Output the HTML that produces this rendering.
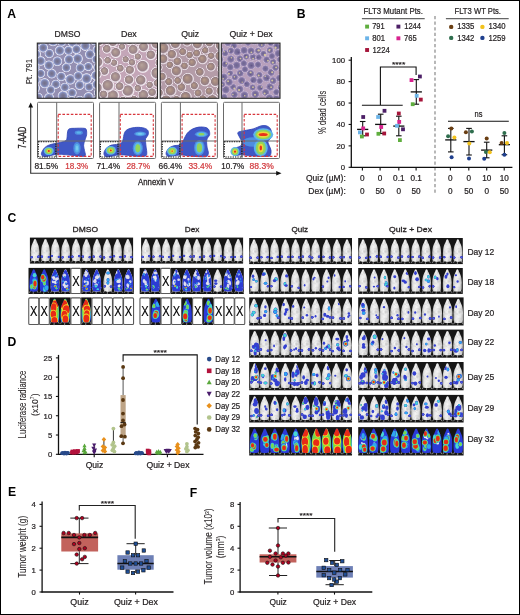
<!DOCTYPE html><html><head><meta charset="utf-8"><style>html,body{margin:0;padding:0;background:#fff;}svg{display:block;will-change:transform;}text{font-family:"Liberation Sans", sans-serif;}</style></head><body>
<svg width="520" height="615" viewBox="0 0 520 615" fill="#231f20">
<defs>
<linearGradient id="mg" x1="0" x2="1" y1="0" y2="0"><stop offset="0" stop-color="#acacac"/><stop offset="0.2" stop-color="#e2e2e2"/><stop offset="0.5" stop-color="#f6f6f6"/><stop offset="0.8" stop-color="#e0e0e0"/><stop offset="1" stop-color="#a8a8a8"/></linearGradient>
<radialGradient id="hot" cx="0.5" cy="0.5" r="0.5"><stop offset="0" stop-color="#e8200c"/><stop offset="0.25" stop-color="#f07020"/><stop offset="0.42" stop-color="#f0e020"/><stop offset="0.62" stop-color="#78d050"/><stop offset="0.82" stop-color="#58b4e8"/><stop offset="1" stop-color="#3f55c2" stop-opacity="0"/></radialGradient>
<radialGradient id="warm" cx="0.5" cy="0.5" r="0.5"><stop offset="0" stop-color="#d8e040"/><stop offset="0.3" stop-color="#90d058"/><stop offset="0.58" stop-color="#60c0e4"/><stop offset="0.82" stop-color="#4c84d8"/><stop offset="1" stop-color="#3f55c2" stop-opacity="0"/></radialGradient>
<radialGradient id="cool" cx="0.5" cy="0.5" r="0.5"><stop offset="0" stop-color="#80d4f0"/><stop offset="0.4" stop-color="#66b4ec"/><stop offset="0.75" stop-color="#4c84d8"/><stop offset="1" stop-color="#3f55c2" stop-opacity="0"/></radialGradient>
<radialGradient id="bspot" cx="0.5" cy="0.5" r="0.5"><stop offset="0" stop-color="#5a78e8"/><stop offset="0.4" stop-color="#3a48d0"/><stop offset="0.75" stop-color="#3a38c0" stop-opacity="0.85"/><stop offset="1" stop-color="#3a30b8" stop-opacity="0"/></radialGradient>
<radialGradient id="cell1" cx="0.5" cy="0.5" r="0.5"><stop offset="0" stop-color="#746f88"/><stop offset="0.4" stop-color="#7c7ea0"/><stop offset="0.62" stop-color="#8690c0"/><stop offset="0.74" stop-color="#b0b8de"/><stop offset="0.84" stop-color="#e2e2ee"/><stop offset="0.93" stop-color="#aeaac8"/><stop offset="1" stop-color="#948fb2" stop-opacity="0"/></radialGradient>
<radialGradient id="cell2" cx="0.5" cy="0.5" r="0.5" fx="0.4" fy="0.38"><stop offset="0" stop-color="#b8a49c"/><stop offset="0.35" stop-color="#a8928e"/><stop offset="0.66" stop-color="#9a848c"/><stop offset="0.75" stop-color="#cfc2cc"/><stop offset="0.82" stop-color="#f4eef2"/><stop offset="0.9" stop-color="#dcc8d4"/><stop offset="0.97" stop-color="#c4a6b8" stop-opacity="0"/></radialGradient>
<radialGradient id="cell3" cx="0.5" cy="0.5" r="0.5" fx="0.4" fy="0.38"><stop offset="0" stop-color="#b89c8c"/><stop offset="0.35" stop-color="#a48a80"/><stop offset="0.66" stop-color="#968086"/><stop offset="0.75" stop-color="#cbbcc6"/><stop offset="0.82" stop-color="#ece4e8"/><stop offset="0.9" stop-color="#cab6c2"/><stop offset="0.97" stop-color="#b49ca8" stop-opacity="0"/></radialGradient>
<radialGradient id="cell4" cx="0.5" cy="0.5" r="0.5"><stop offset="0" stop-color="#6e6690"/><stop offset="0.5" stop-color="#7c709e"/><stop offset="0.75" stop-color="#9c8cb8"/><stop offset="0.88" stop-color="#c8b8d0"/><stop offset="1" stop-color="#b8a0bc" stop-opacity="0"/></radialGradient>
<filter id="tb" x="-5%" y="-5%" width="110%" height="110%"><feGaussianBlur stdDeviation="0.35"/></filter>
<pattern id="nz" width="9" height="9" patternUnits="userSpaceOnUse"><circle cx="2.9" cy="1.4" r="0.9" fill="#8a8a8a" opacity="0.22"/><circle cx="7.4" cy="0.8" r="0.8" fill="#ffffff" opacity="0.22"/><circle cx="1.9" cy="0.8" r="0.8" fill="#a0a0a0" opacity="0.22"/><circle cx="0.8" cy="3.8" r="1.0" fill="#8a8a8a" opacity="0.22"/><circle cx="8.5" cy="5.7" r="0.8" fill="#8a8a8a" opacity="0.22"/><circle cx="5.2" cy="3.6" r="1.1" fill="#8a8a8a" opacity="0.22"/><circle cx="5.0" cy="1.2" r="0.8" fill="#ffffff" opacity="0.22"/><circle cx="1.1" cy="2.8" r="1.0" fill="#a0a0a0" opacity="0.22"/><circle cx="0.9" cy="5.1" r="0.6" fill="#8a8a8a" opacity="0.22"/><circle cx="4.9" cy="0.6" r="0.5" fill="#a0a0a0" opacity="0.22"/><circle cx="4.5" cy="4.8" r="1.0" fill="#ffffff" opacity="0.22"/><circle cx="5.3" cy="4.1" r="0.7" fill="#a0a0a0" opacity="0.22"/><circle cx="6.3" cy="2.2" r="0.8" fill="#ffffff" opacity="0.22"/><circle cx="4.5" cy="3.1" r="0.8" fill="#ffffff" opacity="0.22"/><circle cx="8.8" cy="1.1" r="0.8" fill="#b4b4b4" opacity="0.22"/><circle cx="1.4" cy="4.4" r="0.5" fill="#8a8a8a" opacity="0.22"/><circle cx="6.9" cy="5.2" r="1.0" fill="#b4b4b4" opacity="0.22"/><circle cx="3.1" cy="3.2" r="0.8" fill="#ffffff" opacity="0.22"/><circle cx="0.6" cy="0.8" r="0.7" fill="#8a8a8a" opacity="0.22"/><circle cx="0.5" cy="6.3" r="0.9" fill="#ffffff" opacity="0.22"/><circle cx="2.6" cy="3.5" r="0.9" fill="#8a8a8a" opacity="0.22"/><circle cx="8.5" cy="3.2" r="0.9" fill="#ffffff" opacity="0.22"/><circle cx="0.5" cy="6.9" r="0.6" fill="#a0a0a0" opacity="0.22"/><circle cx="3.6" cy="8.3" r="0.8" fill="#a0a0a0" opacity="0.22"/><circle cx="4.0" cy="4.9" r="1.0" fill="#ffffff" opacity="0.22"/><circle cx="7.8" cy="2.5" r="0.7" fill="#b4b4b4" opacity="0.22"/></pattern>
<clipPath id="mc"><path d="M0,0.48 C0.27,0.48 0.58,0.68 0.8,0.96 C1.02,1.24 1.12,1.72 1.3,2.16 C1.48,2.6 1.67,3.08 1.9,3.6 C2.13,4.12 2.43,4.68 2.7,5.28 C2.97,5.88 3.27,6.4 3.5,7.2 C3.73,8 3.95,8.88 4.1,10.08 C4.25,11.28 4.35,12.96 4.4,14.4 C4.45,15.84 4.45,17.6 4.4,18.72 C4.35,19.84 4.3,20.48 4.1,21.12 C3.9,21.76 3.88,22.24 3.2,22.56 C2.52,22.88 1.07,23.04 0,23.04 C-1.07,23.04 -2.52,22.88 -3.2,22.56 C-3.88,22.24 -3.9,21.76 -4.1,21.12 C-4.3,20.48 -4.35,19.84 -4.4,18.72 C-4.45,17.6 -4.45,15.84 -4.4,14.4 C-4.35,12.96 -4.25,11.28 -4.1,10.08 C-3.95,8.88 -3.73,8 -3.5,7.2 C-3.27,6.4 -2.97,5.88 -2.7,5.28 C-2.43,4.68 -2.13,4.12 -1.9,3.6 C-1.67,3.08 -1.48,2.6 -1.3,2.16 C-1.12,1.72 -1.02,1.24 -0.8,0.96 C-0.58,0.68 -0.27,0.48 0,0.48 Z"/></clipPath>
<path id="mp" d="M0,0.48 C0.27,0.48 0.58,0.68 0.8,0.96 C1.02,1.24 1.12,1.72 1.3,2.16 C1.48,2.6 1.67,3.08 1.9,3.6 C2.13,4.12 2.43,4.68 2.7,5.28 C2.97,5.88 3.27,6.4 3.5,7.2 C3.73,8 3.95,8.88 4.1,10.08 C4.25,11.28 4.35,12.96 4.4,14.4 C4.45,15.84 4.45,17.6 4.4,18.72 C4.35,19.84 4.3,20.48 4.1,21.12 C3.9,21.76 3.88,22.24 3.2,22.56 C2.52,22.88 1.07,23.04 0,23.04 C-1.07,23.04 -2.52,22.88 -3.2,22.56 C-3.88,22.24 -3.9,21.76 -4.1,21.12 C-4.3,20.48 -4.35,19.84 -4.4,18.72 C-4.45,17.6 -4.45,15.84 -4.4,14.4 C-4.35,12.96 -4.25,11.28 -4.1,10.08 C-3.95,8.88 -3.73,8 -3.5,7.2 C-3.27,6.4 -2.97,5.88 -2.7,5.28 C-2.43,4.68 -2.13,4.12 -1.9,3.6 C-1.67,3.08 -1.48,2.6 -1.3,2.16 C-1.12,1.72 -1.02,1.24 -0.8,0.96 C-0.58,0.68 -0.27,0.48 0,0.48 Z"/>
<path id="mt" d="M-0.3,22 L-0.6,25.5 M3,21.5 l1.4,2.6 M-3,21.5 l-1.4,2.6" stroke="#9a9a9a" stroke-width="0.8" fill="none"/>
<filter id="bl" x="-20%" y="-20%" width="140%" height="140%"><feGaussianBlur stdDeviation="0.5"/></filter>
<filter id="fb" x="-10%" y="-10%" width="120%" height="120%"><feGaussianBlur stdDeviation="4"/></filter>
</defs>
<text x="7.2" y="17.8" font-size="12.2" fill="#000" font-weight="bold">A</text>
<text x="54.6" y="37.3" font-size="8.5" fill="#231f20" textLength="25.7" lengthAdjust="spacingAndGlyphs" stroke="#231f20" stroke-width="0.22">DMSO</text>
<text x="121.1" y="37.3" font-size="8.5" fill="#231f20" textLength="15.7" lengthAdjust="spacingAndGlyphs" stroke="#231f20" stroke-width="0.22">Dex</text>
<text x="181.2" y="37.3" font-size="8.5" fill="#231f20" textLength="17.9" lengthAdjust="spacingAndGlyphs" stroke="#231f20" stroke-width="0.22">Quiz</text>
<text x="229.4" y="37.3" font-size="8.5" fill="#231f20" textLength="43.3" lengthAdjust="spacingAndGlyphs" stroke="#231f20" stroke-width="0.22">Quiz + Dex</text>
<text transform="translate(31.8,84.3) rotate(-90)" x="0" y="0" font-size="8.6" fill="#231f20" textLength="25.4" lengthAdjust="spacingAndGlyphs" stroke="#231f20" stroke-width="0.08">Pt. 791</text>
<clipPath id="tc0"><rect x="37.3" y="43.1" width="58.7" height="55.2"/></clipPath>
<g clip-path="url(#tc0)"><g filter="url(#tb)">
<rect x="35.3" y="41.1" width="62.7" height="59.2" fill="#948fb2" />
<circle cx="89.13" cy="86.84" r="5.01" fill="url(#cell1)" />
<circle cx="66.35" cy="67.61" r="5.13" fill="url(#cell1)" />
<circle cx="85.33" cy="45.84" r="5.52" fill="url(#cell1)" />
<circle cx="88.37" cy="66.59" r="4.91" fill="url(#cell1)" />
<circle cx="34.44" cy="67.36" r="5.62" fill="url(#cell1)" />
<circle cx="49.1" cy="97.95" r="5.58" fill="url(#cell1)" />
<circle cx="36.28" cy="41.66" r="5.76" fill="url(#cell1)" />
<circle cx="61.61" cy="41.88" r="5.09" fill="url(#cell1)" />
<circle cx="49.24" cy="53.49" r="5.11" fill="url(#cell1)" />
<circle cx="53.05" cy="41.42" r="5.33" fill="url(#cell1)" />
<circle cx="70.3" cy="79.41" r="5.7" fill="url(#cell1)" />
<circle cx="98.52" cy="92.73" r="5.06" fill="url(#cell1)" />
<circle cx="55.83" cy="84.25" r="5" fill="url(#cell1)" />
<circle cx="77.67" cy="58.67" r="5.69" fill="url(#cell1)" />
<circle cx="72.41" cy="42.21" r="5.37" fill="url(#cell1)" />
<circle cx="79.81" cy="100.27" r="4.92" fill="url(#cell1)" />
<circle cx="59.77" cy="50.53" r="5.46" fill="url(#cell1)" />
<circle cx="89.96" cy="54.31" r="5.41" fill="url(#cell1)" />
<circle cx="95.92" cy="75.46" r="5.38" fill="url(#cell1)" />
<circle cx="51.72" cy="73.64" r="5.33" fill="url(#cell1)" />
<circle cx="34.67" cy="88.06" r="5.81" fill="url(#cell1)" />
<circle cx="57.38" cy="61.28" r="5.35" fill="url(#cell1)" />
<circle cx="36.11" cy="54.15" r="5.33" fill="url(#cell1)" />
<circle cx="72.11" cy="92.79" r="5.05" fill="url(#cell1)" />
<circle cx="68.42" cy="50.39" r="5.04" fill="url(#cell1)" />
<circle cx="80.34" cy="67.93" r="5.15" fill="url(#cell1)" />
<circle cx="44.67" cy="83.22" r="5.58" fill="url(#cell1)" />
<circle cx="88.5" cy="97.15" r="5.54" fill="url(#cell1)" />
<circle cx="97.92" cy="67.51" r="5.15" fill="url(#cell1)" />
<circle cx="35.88" cy="79.66" r="5.13" fill="url(#cell1)" />
<circle cx="43.25" cy="47.76" r="5.23" fill="url(#cell1)" />
<circle cx="48.86" cy="65.33" r="5.35" fill="url(#cell1)" />
<circle cx="79.67" cy="85.17" r="5.24" fill="url(#cell1)" />
<circle cx="86.57" cy="78.56" r="5.84" fill="url(#cell1)" />
<circle cx="63" cy="95.98" r="5.83" fill="url(#cell1)" />
<circle cx="38.19" cy="97.33" r="5.12" fill="url(#cell1)" />
<circle cx="71.54" cy="100.84" r="5.39" fill="url(#cell1)" />
<circle cx="40.72" cy="73.5" r="4.93" fill="url(#cell1)" />
<circle cx="97.48" cy="50.07" r="5.42" fill="url(#cell1)" />
<circle cx="96.11" cy="59.19" r="4.89" fill="url(#cell1)" />
<circle cx="61.19" cy="76.51" r="5.15" fill="url(#cell1)" />
<circle cx="96.67" cy="84.36" r="5.21" fill="url(#cell1)" />
<circle cx="94.64" cy="40.67" r="5.09" fill="url(#cell1)" />
<circle cx="68.99" cy="59.46" r="5.41" fill="url(#cell1)" />
<circle cx="96.81" cy="100.79" r="5.42" fill="url(#cell1)" />
<circle cx="76.46" cy="49.28" r="5.18" fill="url(#cell1)" />
<circle cx="64.9" cy="87.32" r="5.07" fill="url(#cell1)" />
<circle cx="40.77" cy="60.95" r="5.24" fill="url(#cell1)" />
<circle cx="50.72" cy="89.93" r="4.98" fill="url(#cell1)" />
<circle cx="78.2" cy="75.96" r="5.17" fill="url(#cell1)" />
</g></g>
<rect x="37.3" y="43.1" width="58.7" height="55.2" fill="none" stroke="#2a2a2a" stroke-width="1.1" />
<clipPath id="tc1"><rect x="98.8" y="43.1" width="58.7" height="55.2"/></clipPath>
<g clip-path="url(#tc1)"><g filter="url(#tb)">
<rect x="96.8" y="41.1" width="62.7" height="59.2" fill="#c4a6b8" />
<circle cx="157.12" cy="43.56" r="7.18" fill="url(#cell2)" />
<circle cx="149.86" cy="85.14" r="4.42" fill="url(#cell2)" />
<circle cx="115.74" cy="77.18" r="6.27" fill="url(#cell2)" />
<circle cx="133.4" cy="49.79" r="6.07" fill="url(#cell2)" />
<circle cx="157.23" cy="73.4" r="7.3" fill="url(#cell2)" />
<circle cx="113.16" cy="42.3" r="5.56" fill="url(#cell2)" />
<circle cx="125.88" cy="59.59" r="4.24" fill="url(#cell2)" />
<circle cx="104.64" cy="71.33" r="5.18" fill="url(#cell2)" />
<circle cx="159.27" cy="98.97" r="5.27" fill="url(#cell2)" />
<circle cx="130.11" cy="70.09" r="5.61" fill="url(#cell2)" />
<circle cx="128.2" cy="90.99" r="7.08" fill="url(#cell2)" />
<circle cx="113.15" cy="95.88" r="7.03" fill="url(#cell2)" />
<circle cx="157.74" cy="83.32" r="5.13" fill="url(#cell2)" />
<circle cx="129.3" cy="79.97" r="5.75" fill="url(#cell2)" />
<circle cx="115.98" cy="52.82" r="6.01" fill="url(#cell2)" />
<circle cx="108.18" cy="85.68" r="7.03" fill="url(#cell2)" />
<circle cx="138.04" cy="56.81" r="4.33" fill="url(#cell2)" />
<circle cx="151.05" cy="55.08" r="5.8" fill="url(#cell2)" />
<circle cx="97.86" cy="62.28" r="6.42" fill="url(#cell2)" />
<circle cx="98.59" cy="100.69" r="5.37" fill="url(#cell2)" />
<circle cx="143.84" cy="47.02" r="6.1" fill="url(#cell2)" />
<circle cx="143.67" cy="95.3" r="6.58" fill="url(#cell2)" />
<circle cx="96.97" cy="74.25" r="5.48" fill="url(#cell2)" />
<circle cx="99.47" cy="42.15" r="4.59" fill="url(#cell2)" />
<circle cx="129.84" cy="40.4" r="5.49" fill="url(#cell2)" />
<circle cx="122.24" cy="46.9" r="4.26" fill="url(#cell2)" />
<circle cx="142.96" cy="66.64" r="7.2" fill="url(#cell2)" />
<circle cx="159.43" cy="62.88" r="5.07" fill="url(#cell2)" />
<circle cx="114.2" cy="62.92" r="4.38" fill="url(#cell2)" />
<circle cx="120.49" cy="68.54" r="4.66" fill="url(#cell2)" />
<circle cx="107" cy="49.09" r="5.26" fill="url(#cell2)" />
<circle cx="141.03" cy="80.38" r="6.38" fill="url(#cell2)" />
<circle cx="134.17" cy="99.25" r="4.29" fill="url(#cell2)" />
<circle cx="96.27" cy="52.67" r="4.48" fill="url(#cell2)" />
<circle cx="107.89" cy="60.56" r="4.54" fill="url(#cell2)" />
<circle cx="97.09" cy="88.21" r="6.72" fill="url(#cell2)" />
<circle cx="160.13" cy="52.68" r="4.38" fill="url(#cell2)" />
<circle cx="160.07" cy="90.79" r="4.3" fill="url(#cell2)" />
<circle cx="151.27" cy="100.38" r="5.26" fill="url(#cell2)" />
<circle cx="132.16" cy="62.55" r="4.44" fill="url(#cell2)" />
<circle cx="123.17" cy="99.97" r="4.17" fill="url(#cell2)" />
<circle cx="119.78" cy="86.49" r="5.29" fill="url(#cell2)" />
<circle cx="121.37" cy="40.33" r="4.31" fill="url(#cell2)" />
<circle cx="138.06" cy="40.16" r="5.23" fill="url(#cell2)" />
<circle cx="152.38" cy="92.5" r="5.17" fill="url(#cell2)" />
<circle cx="103.81" cy="94.63" r="5.09" fill="url(#cell2)" />
<circle cx="138.04" cy="88.49" r="4.43" fill="url(#cell2)" />
</g></g>
<rect x="98.8" y="43.1" width="58.7" height="55.2" fill="none" stroke="#2a2a2a" stroke-width="1.1" />
<clipPath id="tc2"><rect x="160.2" y="43.1" width="58.7" height="55.2"/></clipPath>
<g clip-path="url(#tc2)"><g filter="url(#tb)">
<rect x="158.2" y="41.1" width="62.7" height="59.2" fill="#b49ca8" />
<circle cx="192.41" cy="62.74" r="5.09" fill="url(#cell3)" />
<circle cx="197.68" cy="44.11" r="6.16" fill="url(#cell3)" />
<circle cx="211.38" cy="55.97" r="4.43" fill="url(#cell3)" />
<circle cx="221.62" cy="68.88" r="5.08" fill="url(#cell3)" />
<circle cx="188.02" cy="79.21" r="6.84" fill="url(#cell3)" />
<circle cx="198.28" cy="93.22" r="4.83" fill="url(#cell3)" />
<circle cx="205.16" cy="81.19" r="5.92" fill="url(#cell3)" />
<circle cx="159.21" cy="93.07" r="5.27" fill="url(#cell3)" />
<circle cx="185.97" cy="97.36" r="6.74" fill="url(#cell3)" />
<circle cx="163.51" cy="48.42" r="6.97" fill="url(#cell3)" />
<circle cx="176.68" cy="71.14" r="6.23" fill="url(#cell3)" />
<circle cx="215.7" cy="81.84" r="6.1" fill="url(#cell3)" />
<circle cx="212.61" cy="100.75" r="7.11" fill="url(#cell3)" />
<circle cx="170.86" cy="90.99" r="6.48" fill="url(#cell3)" />
<circle cx="175.64" cy="43.98" r="6.07" fill="url(#cell3)" />
<circle cx="221.24" cy="45.52" r="6.89" fill="url(#cell3)" />
<circle cx="162.18" cy="76.81" r="5.3" fill="url(#cell3)" />
<circle cx="169.97" cy="65.07" r="4.48" fill="url(#cell3)" />
<circle cx="176.68" cy="99.94" r="5.09" fill="url(#cell3)" />
<circle cx="181.6" cy="87.36" r="5.27" fill="url(#cell3)" />
<circle cx="211.13" cy="66.93" r="5.37" fill="url(#cell3)" />
<circle cx="209.4" cy="91.41" r="4.95" fill="url(#cell3)" />
<circle cx="209.62" cy="42.86" r="5.23" fill="url(#cell3)" />
<circle cx="205.42" cy="50.62" r="4.43" fill="url(#cell3)" />
<circle cx="200.09" cy="72.23" r="5.27" fill="url(#cell3)" />
<circle cx="177.55" cy="61.6" r="5.32" fill="url(#cell3)" />
<circle cx="184.69" cy="66.16" r="4.6" fill="url(#cell3)" />
<circle cx="166.49" cy="100.76" r="6.66" fill="url(#cell3)" />
<circle cx="172.06" cy="54.47" r="5.76" fill="url(#cell3)" />
<circle cx="189.85" cy="55.23" r="4.52" fill="url(#cell3)" />
<circle cx="182.98" cy="51.95" r="4.82" fill="url(#cell3)" />
<circle cx="158.65" cy="67.52" r="4.57" fill="url(#cell3)" />
<circle cx="163.27" cy="59.17" r="5.99" fill="url(#cell3)" />
<circle cx="169.04" cy="81.95" r="4.89" fill="url(#cell3)" />
<circle cx="202.71" cy="59.27" r="5.81" fill="url(#cell3)" />
<circle cx="221.15" cy="91.26" r="5.98" fill="url(#cell3)" />
<circle cx="220.29" cy="56.43" r="6.2" fill="url(#cell3)" />
<circle cx="187.34" cy="42.02" r="5.25" fill="url(#cell3)" />
<circle cx="195.92" cy="101.3" r="4.73" fill="url(#cell3)" />
<circle cx="157.23" cy="84.44" r="4.98" fill="url(#cell3)" />
<circle cx="158.32" cy="40.91" r="4.66" fill="url(#cell3)" />
<circle cx="194.56" cy="86" r="4.89" fill="url(#cell3)" />
<circle cx="203.03" cy="99.11" r="4.83" fill="url(#cell3)" />
<circle cx="177.96" cy="80.77" r="4.64" fill="url(#cell3)" />
<circle cx="196.84" cy="53.35" r="4.73" fill="url(#cell3)" />
<circle cx="167.96" cy="40.33" r="4.42" fill="url(#cell3)" />
<circle cx="221.73" cy="100.24" r="4.67" fill="url(#cell3)" />
</g></g>
<rect x="160.2" y="43.1" width="58.7" height="55.2" fill="none" stroke="#2a2a2a" stroke-width="1.1" />
<clipPath id="tc3"><rect x="221.3" y="43.1" width="58.7" height="55.2"/></clipPath>
<g clip-path="url(#tc3)"><g filter="url(#tb)">
<rect x="219.3" y="41.1" width="62.7" height="59.2" fill="#b8a0bc" />
<circle cx="224.97" cy="64.34" r="3.92" fill="url(#cell4)" />
<circle cx="226.2" cy="63.38" r="0.89" fill="#f0e0a0" opacity="0.75"/>
<circle cx="224.57" cy="63.26" r="1" fill="#5a4c84" opacity="0.6"/>
<circle cx="270.09" cy="86.93" r="4.67" fill="url(#cell4)" />
<circle cx="271.1" cy="87.22" r="0.89" fill="#f0e0a0" opacity="0.75"/>
<circle cx="268.67" cy="86.28" r="0.64" fill="#5a4c84" opacity="0.6"/>
<circle cx="253.02" cy="57.03" r="3.9" fill="url(#cell4)" />
<circle cx="253.13" cy="58.57" r="0.94" fill="#f0e0a0" opacity="0.75"/>
<circle cx="225.17" cy="53.22" r="3.85" fill="url(#cell4)" />
<circle cx="224.13" cy="51.71" r="0.78" fill="#f0e0a0" opacity="0.75"/>
<circle cx="230.82" cy="59.06" r="4.54" fill="url(#cell4)" />
<circle cx="231.39" cy="57.73" r="0.72" fill="#f0e0a0" opacity="0.75"/>
<circle cx="265.65" cy="92.4" r="4.35" fill="url(#cell4)" />
<circle cx="264.63" cy="93.51" r="1.05" fill="#f0e0a0" opacity="0.75"/>
<circle cx="223.91" cy="77.18" r="4.63" fill="url(#cell4)" />
<circle cx="223.17" cy="78.75" r="0.83" fill="#f0e0a0" opacity="0.75"/>
<circle cx="223.47" cy="76.2" r="0.79" fill="#5a4c84" opacity="0.6"/>
<circle cx="251.04" cy="50.98" r="4.4" fill="url(#cell4)" />
<circle cx="251.37" cy="52.29" r="0.87" fill="#f0e0a0" opacity="0.75"/>
<circle cx="224.08" cy="97.3" r="4.18" fill="url(#cell4)" />
<circle cx="223.73" cy="98.22" r="0.83" fill="#f0e0a0" opacity="0.75"/>
<circle cx="255.33" cy="94.1" r="4.66" fill="url(#cell4)" />
<circle cx="255.02" cy="94.83" r="1.01" fill="#f0e0a0" opacity="0.75"/>
<circle cx="251.19" cy="65.43" r="4.59" fill="url(#cell4)" />
<circle cx="251.55" cy="65.61" r="0.96" fill="#5a4c84" opacity="0.6"/>
<circle cx="270.87" cy="42.75" r="4" fill="url(#cell4)" />
<circle cx="269.97" cy="41.31" r="0.96" fill="#f0e0a0" opacity="0.75"/>
<circle cx="269.78" cy="44" r="0.9" fill="#5a4c84" opacity="0.6"/>
<circle cx="258.82" cy="57.26" r="3.71" fill="url(#cell4)" />
<circle cx="257.72" cy="57.54" r="0.7" fill="#5a4c84" opacity="0.6"/>
<circle cx="266.63" cy="59.72" r="4.05" fill="url(#cell4)" />
<circle cx="267.97" cy="60.69" r="0.89" fill="#f0e0a0" opacity="0.75"/>
<circle cx="276.81" cy="46.28" r="4.27" fill="url(#cell4)" />
<circle cx="275.55" cy="47.75" r="1.14" fill="#f0e0a0" opacity="0.75"/>
<circle cx="276.36" cy="45.5" r="0.93" fill="#5a4c84" opacity="0.6"/>
<circle cx="233.11" cy="86.93" r="3.73" fill="url(#cell4)" />
<circle cx="234.33" cy="88.47" r="0.99" fill="#f0e0a0" opacity="0.75"/>
<circle cx="248" cy="42.72" r="3.85" fill="url(#cell4)" />
<circle cx="276.27" cy="98.53" r="4.43" fill="url(#cell4)" />
<circle cx="275.74" cy="98.68" r="0.95" fill="#f0e0a0" opacity="0.75"/>
<circle cx="280.8" cy="87.54" r="3.98" fill="url(#cell4)" />
<circle cx="280.12" cy="86.5" r="0.99" fill="#f0e0a0" opacity="0.75"/>
<circle cx="281.45" cy="87.74" r="0.89" fill="#5a4c84" opacity="0.6"/>
<circle cx="279.33" cy="78.08" r="4.11" fill="url(#cell4)" />
<circle cx="280.92" cy="77.6" r="1.1" fill="#f0e0a0" opacity="0.75"/>
<circle cx="237.28" cy="51.81" r="4.56" fill="url(#cell4)" />
<circle cx="238.5" cy="52.51" r="0.96" fill="#5a4c84" opacity="0.6"/>
<circle cx="239.74" cy="40.68" r="4.72" fill="url(#cell4)" />
<circle cx="239.17" cy="42.23" r="0.78" fill="#f0e0a0" opacity="0.75"/>
<circle cx="227.98" cy="42.6" r="4.4" fill="url(#cell4)" />
<circle cx="234.41" cy="101.16" r="4.2" fill="url(#cell4)" />
<circle cx="235.4" cy="102.55" r="0.96" fill="#5a4c84" opacity="0.6"/>
<circle cx="252.54" cy="87.46" r="3.79" fill="url(#cell4)" />
<circle cx="252.98" cy="87.2" r="0.91" fill="#f0e0a0" opacity="0.75"/>
<circle cx="282.2" cy="69.34" r="4.11" fill="url(#cell4)" />
<circle cx="282.84" cy="68.38" r="0.88" fill="#f0e0a0" opacity="0.75"/>
<circle cx="234.38" cy="94.53" r="4.12" fill="url(#cell4)" />
<circle cx="232.87" cy="94.61" r="0.76" fill="#f0e0a0" opacity="0.75"/>
<circle cx="244.37" cy="95.24" r="4.75" fill="url(#cell4)" />
<circle cx="244.72" cy="95.69" r="0.79" fill="#f0e0a0" opacity="0.75"/>
<circle cx="243.38" cy="95.25" r="0.6" fill="#5a4c84" opacity="0.6"/>
<circle cx="271.02" cy="72.42" r="4.37" fill="url(#cell4)" />
<circle cx="272.17" cy="72.24" r="1.04" fill="#f0e0a0" opacity="0.75"/>
<circle cx="261.47" cy="43.8" r="4.72" fill="url(#cell4)" />
<circle cx="261.78" cy="45.02" r="0.84" fill="#f0e0a0" opacity="0.75"/>
<circle cx="259.4" cy="74.94" r="3.84" fill="url(#cell4)" />
<circle cx="258.69" cy="75.54" r="0.99" fill="#f0e0a0" opacity="0.75"/>
<circle cx="278.31" cy="53.47" r="4.48" fill="url(#cell4)" />
<circle cx="225.8" cy="89.66" r="4.62" fill="url(#cell4)" />
<circle cx="269.95" cy="50.34" r="4.12" fill="url(#cell4)" />
<circle cx="269.61" cy="50.26" r="1.19" fill="#f0e0a0" opacity="0.75"/>
<circle cx="270.72" cy="50.72" r="0.78" fill="#5a4c84" opacity="0.6"/>
<circle cx="240.21" cy="73.26" r="4.2" fill="url(#cell4)" />
<circle cx="239.59" cy="73.09" r="0.76" fill="#f0e0a0" opacity="0.75"/>
<circle cx="273.14" cy="61.94" r="3.93" fill="url(#cell4)" />
<circle cx="272.86" cy="62.62" r="1.15" fill="#f0e0a0" opacity="0.75"/>
<circle cx="241.73" cy="80.62" r="4.51" fill="url(#cell4)" />
<circle cx="241.9" cy="82.14" r="0.9" fill="#f0e0a0" opacity="0.75"/>
<circle cx="241.49" cy="82.02" r="0.95" fill="#5a4c84" opacity="0.6"/>
<circle cx="266.51" cy="77.91" r="4.4" fill="url(#cell4)" />
<circle cx="265.26" cy="76.33" r="0.73" fill="#f0e0a0" opacity="0.75"/>
<circle cx="267.73" cy="78.48" r="0.75" fill="#5a4c84" opacity="0.6"/>
<circle cx="258.85" cy="101.08" r="4.02" fill="url(#cell4)" />
<circle cx="236.66" cy="65.29" r="4.56" fill="url(#cell4)" />
<circle cx="230.2" cy="73.16" r="3.67" fill="url(#cell4)" />
<circle cx="228.88" cy="73.77" r="0.99" fill="#f0e0a0" opacity="0.75"/>
<circle cx="220.35" cy="59.47" r="3.77" fill="url(#cell4)" />
<circle cx="250.53" cy="73.49" r="4.44" fill="url(#cell4)" />
<circle cx="250.63" cy="72.44" r="1.04" fill="#f0e0a0" opacity="0.75"/>
<circle cx="250.54" cy="74.18" r="0.79" fill="#5a4c84" opacity="0.6"/>
<circle cx="218.99" cy="40.32" r="4.76" fill="url(#cell4)" />
<circle cx="259.74" cy="80.97" r="3.76" fill="url(#cell4)" />
<circle cx="239.83" cy="58.71" r="4.16" fill="url(#cell4)" />
<circle cx="240.44" cy="58.62" r="0.86" fill="#f0e0a0" opacity="0.75"/>
<circle cx="239.83" cy="59.89" r="0.69" fill="#5a4c84" opacity="0.6"/>
<circle cx="218.6" cy="100.9" r="3.72" fill="url(#cell4)" />
<circle cx="218.77" cy="99.4" r="0.92" fill="#f0e0a0" opacity="0.75"/>
<circle cx="246.83" cy="84.25" r="3.73" fill="url(#cell4)" />
<circle cx="245.66" cy="83.45" r="0.79" fill="#5a4c84" opacity="0.6"/>
<circle cx="258.03" cy="50.75" r="3.73" fill="url(#cell4)" />
<circle cx="258.68" cy="50.34" r="1.19" fill="#f0e0a0" opacity="0.75"/>
<circle cx="219.21" cy="69.63" r="3.9" fill="url(#cell4)" />
<circle cx="217.63" cy="70.01" r="0.85" fill="#f0e0a0" opacity="0.75"/>
<circle cx="253.48" cy="79.93" r="4.09" fill="url(#cell4)" />
<circle cx="252.32" cy="81.12" r="0.99" fill="#5a4c84" opacity="0.6"/>
<circle cx="265.45" cy="68.57" r="3.89" fill="url(#cell4)" />
<circle cx="244.11" cy="50.38" r="4.35" fill="url(#cell4)" />
<circle cx="234.86" cy="77.18" r="3.83" fill="url(#cell4)" />
<circle cx="234.45" cy="76.87" r="0.76" fill="#f0e0a0" opacity="0.75"/>
<circle cx="220.25" cy="49.84" r="3.8" fill="url(#cell4)" />
<circle cx="243.79" cy="63.39" r="3.9" fill="url(#cell4)" />
<circle cx="260.01" cy="87.84" r="3.71" fill="url(#cell4)" />
<circle cx="261.51" cy="87.02" r="0.73" fill="#f0e0a0" opacity="0.75"/>
<circle cx="261.35" cy="88.57" r="0.79" fill="#5a4c84" opacity="0.6"/>
<circle cx="276.37" cy="92.16" r="3.85" fill="url(#cell4)" />
<circle cx="258.01" cy="64.59" r="3.9" fill="url(#cell4)" />
<circle cx="281.6" cy="41.04" r="4.73" fill="url(#cell4)" />
<circle cx="281.21" cy="41.02" r="1.01" fill="#f0e0a0" opacity="0.75"/>
<circle cx="281.42" cy="40.45" r="0.94" fill="#5a4c84" opacity="0.6"/>
<circle cx="222.04" cy="84.36" r="3.87" fill="url(#cell4)" />
<circle cx="221.87" cy="84.55" r="0.92" fill="#f0e0a0" opacity="0.75"/>
<circle cx="273.05" cy="80.7" r="4.24" fill="url(#cell4)" />
<circle cx="272.2" cy="80.58" r="1.03" fill="#f0e0a0" opacity="0.75"/>
<circle cx="279.99" cy="59.52" r="3.74" fill="url(#cell4)" />
<circle cx="254.42" cy="40.91" r="4.38" fill="url(#cell4)" />
<circle cx="255.33" cy="39.36" r="0.98" fill="#f0e0a0" opacity="0.75"/>
<circle cx="254.71" cy="40.99" r="0.79" fill="#5a4c84" opacity="0.6"/>
<circle cx="239.85" cy="89.15" r="4.45" fill="url(#cell4)" />
<circle cx="239.07" cy="90.08" r="1.13" fill="#f0e0a0" opacity="0.75"/>
<circle cx="239.85" cy="87.96" r="0.68" fill="#5a4c84" opacity="0.6"/>
<circle cx="282.65" cy="94.46" r="4.72" fill="url(#cell4)" />
<circle cx="281.41" cy="95.97" r="0.92" fill="#f0e0a0" opacity="0.75"/>
<circle cx="283.13" cy="94.91" r="0.78" fill="#5a4c84" opacity="0.6"/>
<circle cx="249.34" cy="101.17" r="4.1" fill="url(#cell4)" />
<circle cx="269.46" cy="97.94" r="4.41" fill="url(#cell4)" />
<circle cx="269.24" cy="98.67" r="1.19" fill="#f0e0a0" opacity="0.75"/>
<circle cx="233.93" cy="45.72" r="3.74" fill="url(#cell4)" />
<circle cx="232.8" cy="47" r="0.78" fill="#f0e0a0" opacity="0.75"/>
<circle cx="233.74" cy="46.26" r="0.81" fill="#5a4c84" opacity="0.6"/>
<circle cx="246.3" cy="56.52" r="3.83" fill="url(#cell4)" />
<circle cx="246.44" cy="57.11" r="1.09" fill="#f0e0a0" opacity="0.75"/>
<circle cx="245.21" cy="55.63" r="0.95" fill="#5a4c84" opacity="0.6"/>
<circle cx="263.47" cy="53.71" r="3.7" fill="url(#cell4)" />
<circle cx="264.91" cy="54.89" r="1.19" fill="#f0e0a0" opacity="0.75"/>
<circle cx="218.8" cy="93.03" r="4.32" fill="url(#cell4)" />
<circle cx="220.24" cy="91.7" r="1.03" fill="#f0e0a0" opacity="0.75"/>
<circle cx="282.16" cy="101.16" r="3.77" fill="url(#cell4)" />
<circle cx="281.69" cy="101.1" r="0.71" fill="#5a4c84" opacity="0.6"/>
<circle cx="282.82" cy="48.95" r="3.68" fill="url(#cell4)" />
<circle cx="283.7" cy="48.43" r="0.88" fill="#f0e0a0" opacity="0.75"/>
<circle cx="229.08" cy="82.11" r="4.5" fill="url(#cell4)" />
<circle cx="228.07" cy="81.25" r="0.93" fill="#f0e0a0" opacity="0.75"/>
<circle cx="230.32" cy="67.23" r="4.05" fill="url(#cell4)" />
<circle cx="230.82" cy="50.65" r="3.9" fill="url(#cell4)" />
<circle cx="229.67" cy="51.04" r="0.78" fill="#f0e0a0" opacity="0.75"/>
<circle cx="230.91" cy="51.79" r="0.7" fill="#5a4c84" opacity="0.6"/>
<circle cx="244.97" cy="69.36" r="3.8" fill="url(#cell4)" />
<circle cx="271.94" cy="56.1" r="3.76" fill="url(#cell4)" />
<circle cx="275.49" cy="67.67" r="4.01" fill="url(#cell4)" />
<circle cx="276.1" cy="67.4" r="0.96" fill="#f0e0a0" opacity="0.75"/>
</g></g>
<rect x="221.3" y="43.1" width="58.7" height="55.2" fill="none" stroke="#2a2a2a" stroke-width="1.1" />
<g transform="translate(35,100) scale(0.12)">
<g filter="url(#fb)"><path d="M55,440 C58.67,429.17 69.17,409 80,398 C90.83,387 105,380 120,374 C135,368 155,365.33 170,362 C185,358.67 195.33,358 210,354 C224.67,350 248.33,346.17 258,338 C267.67,329.83 265.67,317.67 268,305 C270.33,292.33 268.83,272.83 272,262 C275.17,251.17 277.33,244.33 287,240 C296.67,235.67 309.5,236.67 330,236 C350.5,235.33 393.67,233.67 410,236 C426.33,238.33 424.67,241 428,250 C431.33,259 431.33,278 430,290 C428.67,302 423.33,311.67 420,322 C416.67,332.33 412.5,342 410,352 C407.5,362 404.67,370.67 405,382 C405.33,393.33 409.5,407.33 412,420 C414.5,432.67 421.17,449.67 420,458 C418.83,466.33 416.67,468.67 405,470 C393.33,471.33 367.5,467.67 350,466 C332.5,464.33 316.67,461.83 300,460 C283.33,458.17 266.67,456.33 250,455 C233.33,453.67 215,451.83 200,452 C185,452.17 173.33,453.67 160,456 C146.67,458.33 133.33,463.5 120,466 C106.67,468.5 90.33,471.5 80,471 C69.67,470.5 62.17,468.17 58,463 C53.83,457.83 51.33,450.83 55,440 Z" fill="#4058c6" stroke="#3246b6" stroke-width="7"/>
<ellipse cx="115" cy="425" rx="42" ry="34" fill="#5cb4ec" />
<ellipse cx="115" cy="425" rx="30" ry="24" fill="#92d45a" />
<ellipse cx="115" cy="425" rx="17" ry="14" fill="#ecd83a" />
<ellipse cx="115" cy="425" rx="9" ry="8" fill="#e8301c" />
<ellipse cx="350" cy="402" rx="30" ry="52" fill="#4f8ee0" />
<ellipse cx="350" cy="402" rx="18" ry="36" fill="#5cb4ec" />
<ellipse cx="350" cy="402" rx="9" ry="20" fill="#78ccf0" />
<ellipse cx="365" cy="272" rx="34" ry="18" fill="#4f8ee0" />
<ellipse cx="365" cy="272" rx="20" ry="9" fill="#5cb4ec" />
</g></g>
<rect x="37.5" y="102.3" width="56" height="56.2" fill="none" stroke="#6a6a6a" stroke-width="1" rx="1"/>
<line x1="56.7" y1="102.3" x2="56.7" y2="158.5" stroke="#6a6a6a" stroke-width="1" />
<line x1="37.5" y1="141" x2="93.5" y2="141" stroke="#6a6a6a" stroke-width="1" />
<rect x="58.2" y="114.4" width="33" height="42" fill="none" stroke="#d8363c" stroke-width="1.1" stroke-dasharray="2.6,1.6"/>
<rect x="38.3" y="141.8" width="17.6" height="15.2" fill="none" stroke="#111" stroke-width="1.1" stroke-dasharray="1.3,1.1"/>
<g transform="translate(97,100) scale(0.12)">
<g filter="url(#fb)"><path d="M58,440 C59.67,428.33 69.67,410.67 80,400 C90.33,389.33 105.83,381 120,376 C134.17,371 152.5,372 165,370 C177.5,368 186.67,369.33 195,364 C203.33,358.67 209.17,353.33 215,338 C220.83,322.67 222.17,288 230,272 C237.83,256 245.33,249.33 262,242 C278.67,234.67 307.83,229.17 330,228 C352.17,226.83 379.17,230.33 395,235 C410.83,239.67 420,246.5 425,256 C430,265.5 428.33,281 425,292 C421.67,303 408.33,312 405,322 C401.67,332 404.17,339 405,352 C405.83,365 408.33,385.33 410,400 C411.67,414.67 415.83,429 415,440 C414.17,451 415.83,461 405,466 C394.17,471 367.5,470 350,470 C332.5,470 316.67,467.67 300,466 C283.33,464.33 266.67,461.67 250,460 C233.33,458.33 215,456 200,456 C185,456 175,457.67 160,460 C145,462.33 125,468.33 110,470 C95,471.67 78.67,475 70,470 C61.33,465 56.33,451.67 58,440 Z" fill="#4058c6" stroke="#3246b6" stroke-width="7"/>
<ellipse cx="115" cy="420" rx="44" ry="36" fill="#5cb4ec" />
<ellipse cx="115" cy="420" rx="32" ry="26" fill="#92d45a" />
<ellipse cx="115" cy="420" rx="16" ry="14" fill="#ecd83a" />
<ellipse cx="115" cy="420" rx="8" ry="7" fill="#e8301c" />
<ellipse cx="360" cy="282" rx="50" ry="20" fill="#4f8ee0" />
<ellipse cx="360" cy="282" rx="36" ry="13" fill="#5cb4ec" />
<ellipse cx="360" cy="282" rx="20" ry="7" fill="#78ccf0" />
<ellipse cx="340" cy="402" rx="42" ry="60" fill="#4f8ee0" />
<ellipse cx="340" cy="402" rx="32" ry="48" fill="#5cb4ec" />
<ellipse cx="340" cy="402" rx="20" ry="34" fill="#92d45a" />
</g></g>
<rect x="99.6" y="102.3" width="56" height="56.2" fill="none" stroke="#6a6a6a" stroke-width="1" rx="1"/>
<line x1="119" y1="102.3" x2="119" y2="158.5" stroke="#6a6a6a" stroke-width="1" />
<line x1="99.6" y1="141" x2="155.6" y2="141" stroke="#6a6a6a" stroke-width="1" />
<rect x="120.3" y="114.4" width="33" height="42" fill="none" stroke="#d8363c" stroke-width="1.1" stroke-dasharray="2.6,1.6"/>
<rect x="100.4" y="141.8" width="17.6" height="15.2" fill="none" stroke="#111" stroke-width="1.1" stroke-dasharray="1.3,1.1"/>
<g transform="translate(158,100) scale(0.12)">
<g filter="url(#fb)"><path d="M68,440 C69.67,429 79.67,411.67 90,402 C100.33,392.33 115.83,386.33 130,382 C144.17,377.67 164.17,379.67 175,376 C185.83,372.33 188.33,367.67 195,360 C201.67,352.33 207.5,343 215,330 C222.5,317 229.17,296 240,282 C250.83,268 263.33,255.33 280,246 C296.67,236.67 320,228.67 340,226 C360,223.33 385.83,225.67 400,230 C414.17,234.33 420,242 425,252 C430,262 432.5,278.33 430,290 C427.5,301.67 414.17,311.67 410,322 C405.83,332.33 405,339 405,352 C405,365 407.5,385.33 410,400 C412.5,414.67 420.83,428.33 420,440 C419.17,451.67 416.67,464.5 405,470 C393.33,475.5 370.83,473.33 350,473 C329.17,472.67 301.67,470.17 280,468 C258.33,465.83 236.67,461.67 220,460 C203.33,458.33 195,457.17 180,458 C165,458.83 146.67,463.33 130,465 C113.33,466.67 90.33,472.17 80,468 C69.67,463.83 66.33,451 68,440 Z" fill="#4058c6" stroke="#3246b6" stroke-width="7"/>
<ellipse cx="118" cy="426" rx="44" ry="36" fill="#5cb4ec" />
<ellipse cx="118" cy="426" rx="32" ry="26" fill="#92d45a" />
<ellipse cx="118" cy="426" rx="15" ry="13" fill="#ecd83a" />
<ellipse cx="118" cy="426" rx="7" ry="6" fill="#e8301c" />
<ellipse cx="362" cy="285" rx="54" ry="24" fill="#4f8ee0" />
<ellipse cx="362" cy="285" rx="40" ry="17" fill="#5cb4ec" />
<ellipse cx="362" cy="285" rx="26" ry="10" fill="#92d45a" />
<ellipse cx="345" cy="398" rx="44" ry="64" fill="#4f8ee0" />
<ellipse cx="345" cy="398" rx="34" ry="52" fill="#5cb4ec" />
<ellipse cx="345" cy="398" rx="22" ry="38" fill="#92d45a" />
</g></g>
<rect x="161.4" y="102.3" width="56" height="56.2" fill="none" stroke="#6a6a6a" stroke-width="1" rx="1"/>
<line x1="180.4" y1="102.3" x2="180.4" y2="158.5" stroke="#6a6a6a" stroke-width="1" />
<line x1="161.4" y1="141" x2="217.4" y2="141" stroke="#6a6a6a" stroke-width="1" />
<rect x="182.1" y="114.4" width="33" height="42" fill="none" stroke="#d8363c" stroke-width="1.1" stroke-dasharray="2.6,1.6"/>
<rect x="162.2" y="141.8" width="17.6" height="15.2" fill="none" stroke="#111" stroke-width="1.1" stroke-dasharray="1.3,1.1"/>
<g transform="translate(220,100) scale(0.12)">
<g filter="url(#fb)"><path d="M100,442 C99.17,433.33 108.33,417.67 115,410 C121.67,402.33 131.67,400 140,396 C148.33,392 157.5,391 165,386 C172.5,381 183.33,375 185,366 C186.67,357 179.5,343 175,332 C170.5,321 162.17,310.33 158,300 C153.83,289.67 143,277.33 150,270 C157,262.67 178.33,261 200,256 C221.67,251 256.67,246.67 280,240 C303.33,233.33 321.67,220 340,216 C358.33,212 376.67,212 390,216 C403.33,220 413.33,229.33 420,240 C426.67,250.67 430,266.67 430,280 C430,293.33 425,309.17 420,320 C415,330.83 401.67,335 400,345 C398.33,355 405.83,367.5 410,380 C414.17,392.5 423.33,406.67 425,420 C426.67,433.33 424.17,451.67 420,460 C415.83,468.33 415,468.33 400,470 C385,471.67 353.33,470.67 330,470 C306.67,469.33 279.17,467.67 260,466 C240.83,464.33 228.33,461.67 215,460 C201.67,458.33 190.83,456 180,456 C169.17,456 160,459 150,460 C140,461 128.33,465 120,462 C111.67,459 100.83,450.67 100,442 Z" fill="#4058c6" stroke="#3246b6" stroke-width="7"/>
<ellipse cx="280" cy="350" rx="90" ry="40" fill="#4f8ee0" />
<ellipse cx="125" cy="430" rx="38" ry="38" fill="#5cb4ec" />
<ellipse cx="125" cy="430" rx="28" ry="28" fill="#92d45a" />
<ellipse cx="125" cy="430" rx="17" ry="17" fill="#ecd83a" />
<ellipse cx="125" cy="430" rx="9" ry="10" fill="#e8301c" />
<ellipse cx="360" cy="288" rx="84" ry="52" fill="#5cb4ec" />
<ellipse cx="360" cy="288" rx="66" ry="40" fill="#92d45a" />
<ellipse cx="360" cy="288" rx="50" ry="26" fill="#ecd83a" />
<ellipse cx="360" cy="288" rx="38" ry="13" fill="#e8301c" />
<ellipse cx="340" cy="400" rx="58" ry="70" fill="#5cb4ec" />
<ellipse cx="340" cy="400" rx="42" ry="56" fill="#92d45a" />
<ellipse cx="340" cy="400" rx="22" ry="36" fill="#ecd83a" />
<ellipse cx="340" cy="400" rx="10" ry="20" fill="#e8301c" />
</g></g>
<rect x="223.5" y="102.3" width="56" height="56.2" fill="none" stroke="#6a6a6a" stroke-width="1" rx="1"/>
<line x1="242" y1="102.3" x2="242" y2="158.5" stroke="#6a6a6a" stroke-width="1" />
<line x1="223.5" y1="141" x2="279.5" y2="141" stroke="#6a6a6a" stroke-width="1" />
<rect x="244.2" y="114.4" width="33" height="42" fill="none" stroke="#d8363c" stroke-width="1.1" stroke-dasharray="2.6,1.6"/>
<rect x="224.3" y="141.8" width="17.6" height="15.2" fill="none" stroke="#111" stroke-width="1.1" stroke-dasharray="1.3,1.1"/>
<text x="34.45" y="168.6" font-size="8.7" fill="#231f20" textLength="23.8" lengthAdjust="spacingAndGlyphs" stroke="#231f20" stroke-width="0.22">81.5%</text>
<text x="65.2" y="168.6" font-size="8.7" fill="#d23a3e" textLength="23.1" lengthAdjust="spacingAndGlyphs" stroke="#d23a3e" stroke-width="0.22">18.3%</text>
<text x="96.45" y="168.6" font-size="8.7" fill="#231f20" textLength="23.8" lengthAdjust="spacingAndGlyphs" stroke="#231f20" stroke-width="0.22">71.4%</text>
<text x="126.45" y="168.6" font-size="8.7" fill="#d23a3e" textLength="23.8" lengthAdjust="spacingAndGlyphs" stroke="#d23a3e" stroke-width="0.22">28.7%</text>
<text x="158.5" y="168.6" font-size="8.7" fill="#231f20" textLength="23.7" lengthAdjust="spacingAndGlyphs" stroke="#231f20" stroke-width="0.22">66.4%</text>
<text x="188.4" y="168.6" font-size="8.7" fill="#d23a3e" textLength="23.9" lengthAdjust="spacingAndGlyphs" stroke="#d23a3e" stroke-width="0.22">33.4%</text>
<text x="221.2" y="168.6" font-size="8.7" fill="#231f20" textLength="23" lengthAdjust="spacingAndGlyphs" stroke="#231f20" stroke-width="0.22">10.7%</text>
<text x="249.5" y="168.6" font-size="8.7" fill="#d23a3e" textLength="24.3" lengthAdjust="spacingAndGlyphs" stroke="#d23a3e" stroke-width="0.22">88.3%</text>
<line x1="30.7" y1="106" x2="30.7" y2="173.3" stroke="#333" stroke-width="1.1" />
<line x1="30.2" y1="173.3" x2="277.5" y2="173.3" stroke="#333" stroke-width="1.1" />
<path d="M30.7,102.4 L28.3,107.6 L33.1,107.6 Z" stroke="none" stroke-width="1" fill="#111" />
<path d="M281.5,173.3 L276.2,171 L276.2,175.6 Z" stroke="none" stroke-width="1" fill="#111" />
<text x="138" y="185.1" font-size="9.7" fill="#231f20" textLength="35.6" lengthAdjust="spacingAndGlyphs" stroke="#231f20" stroke-width="0.3">Annexin V</text>
<text transform="translate(25.6,148.4) rotate(-90)" x="0" y="0" font-size="10.6" fill="#231f20" textLength="21.6" lengthAdjust="spacingAndGlyphs" stroke="#231f20" stroke-width="0.3">7-AAD</text>
<text x="296.7" y="17.7" font-size="12.2" fill="#000" font-weight="bold">B</text>
<text x="363.5" y="14.3" font-size="8.9" fill="#231f20" textLength="59.4" lengthAdjust="spacingAndGlyphs" stroke="#231f20" stroke-width="0.22">FLT3 Mutant Pts.</text>
<line x1="361.9" y1="18.7" x2="424.7" y2="18.7" stroke="#666" stroke-width="1.3" />
<text x="454.5" y="14.3" font-size="8.9" fill="#231f20" textLength="46.5" lengthAdjust="spacingAndGlyphs" stroke="#231f20" stroke-width="0.22">FLT3 WT Pts.</text>
<line x1="445.9" y1="18.7" x2="508.7" y2="18.7" stroke="#666" stroke-width="1.3" />
<rect x="365.15" y="24.65" width="3.9" height="3.9" fill="#5fae3e" />
<rect x="396.45" y="24.65" width="3.9" height="3.9" fill="#4c1f66" />
<rect x="365.15" y="36.35" width="3.9" height="3.9" fill="#6cb4e8" />
<rect x="396.45" y="36.35" width="3.9" height="3.9" fill="#d8228e" />
<rect x="365.15" y="48.05" width="3.9" height="3.9" fill="#a5153a" />
<text x="372.2" y="29.2" font-size="8.5" fill="#231f20" textLength="12.4" lengthAdjust="spacingAndGlyphs" stroke="#231f20" stroke-width="0.22">791</text>
<text x="404.2" y="29.2" font-size="8.5" fill="#231f20" textLength="16.8" lengthAdjust="spacingAndGlyphs" stroke="#231f20" stroke-width="0.22">1244</text>
<text x="372.2" y="40.8" font-size="8.5" fill="#231f20" textLength="12.8" lengthAdjust="spacingAndGlyphs" stroke="#231f20" stroke-width="0.22">801</text>
<text x="404" y="40.8" font-size="8.5" fill="#231f20" textLength="12.6" lengthAdjust="spacingAndGlyphs" stroke="#231f20" stroke-width="0.22">765</text>
<text x="372.6" y="52.5" font-size="8.5" fill="#231f20" textLength="17.1" lengthAdjust="spacingAndGlyphs" stroke="#231f20" stroke-width="0.22">1224</text>
<circle cx="451.2" cy="26.9" r="2.2" fill="#6a3e12" />
<circle cx="482.4" cy="26.9" r="2.2" fill="#f2c21c" />
<circle cx="451.2" cy="37.9" r="2.2" fill="#2f6e4e" />
<circle cx="482.4" cy="37.9" r="2.2" fill="#1f3f8e" />
<text x="457.2" y="29.2" font-size="8.5" fill="#231f20" textLength="17.2" lengthAdjust="spacingAndGlyphs" stroke="#231f20" stroke-width="0.22">1335</text>
<text x="488.4" y="29.2" font-size="8.5" fill="#231f20" textLength="17.2" lengthAdjust="spacingAndGlyphs" stroke="#231f20" stroke-width="0.22">1340</text>
<text x="457.2" y="40.8" font-size="8.5" fill="#231f20" textLength="17.2" lengthAdjust="spacingAndGlyphs" stroke="#231f20" stroke-width="0.22">1342</text>
<text x="488.4" y="40.8" font-size="8.5" fill="#231f20" textLength="17.2" lengthAdjust="spacingAndGlyphs" stroke="#231f20" stroke-width="0.22">1259</text>
<line x1="435" y1="16" x2="435" y2="193" stroke="#9a9a9a" stroke-width="1.4" stroke-dasharray="3.2,2.4"/>
<line x1="351.3" y1="57.1" x2="351.3" y2="167.9" stroke="#111" stroke-width="1.3" />
<line x1="350.7" y1="167.3" x2="512.4" y2="167.3" stroke="#111" stroke-width="1.3" />
<line x1="348.6" y1="167.3" x2="351.3" y2="167.3" stroke="#111" stroke-width="1.1" />
<text x="345" y="170.1" font-size="7.8" fill="#231f20" text-anchor="end" textLength="4.3" lengthAdjust="spacingAndGlyphs" stroke="#231f20" stroke-width="0.22">0</text>
<line x1="348.6" y1="145.88" x2="351.3" y2="145.88" stroke="#111" stroke-width="1.1" />
<text x="345" y="148.68" font-size="7.8" fill="#231f20" text-anchor="end" textLength="8.6" lengthAdjust="spacingAndGlyphs" stroke="#231f20" stroke-width="0.22">20</text>
<line x1="348.6" y1="124.46" x2="351.3" y2="124.46" stroke="#111" stroke-width="1.1" />
<text x="345" y="127.26" font-size="7.8" fill="#231f20" text-anchor="end" textLength="8.6" lengthAdjust="spacingAndGlyphs" stroke="#231f20" stroke-width="0.22">40</text>
<line x1="348.6" y1="103.04" x2="351.3" y2="103.04" stroke="#111" stroke-width="1.1" />
<text x="345" y="105.84" font-size="7.8" fill="#231f20" text-anchor="end" textLength="8.6" lengthAdjust="spacingAndGlyphs" stroke="#231f20" stroke-width="0.22">60</text>
<line x1="348.6" y1="81.62" x2="351.3" y2="81.62" stroke="#111" stroke-width="1.1" />
<text x="345" y="84.42" font-size="7.8" fill="#231f20" text-anchor="end" textLength="8.6" lengthAdjust="spacingAndGlyphs" stroke="#231f20" stroke-width="0.22">80</text>
<line x1="348.6" y1="60.2" x2="351.3" y2="60.2" stroke="#111" stroke-width="1.1" />
<text x="345" y="63" font-size="7.8" fill="#231f20" text-anchor="end" textLength="12.9" lengthAdjust="spacingAndGlyphs" stroke="#231f20" stroke-width="0.22">100</text>
<line x1="362.4" y1="167.3" x2="362.4" y2="170.6" stroke="#111" stroke-width="1.1" />
<line x1="380.1" y1="167.3" x2="380.1" y2="170.6" stroke="#111" stroke-width="1.1" />
<line x1="398.8" y1="167.3" x2="398.8" y2="170.6" stroke="#111" stroke-width="1.1" />
<line x1="416.1" y1="167.3" x2="416.1" y2="170.6" stroke="#111" stroke-width="1.1" />
<line x1="450.4" y1="167.3" x2="450.4" y2="170.6" stroke="#111" stroke-width="1.1" />
<line x1="468.8" y1="167.3" x2="468.8" y2="170.6" stroke="#111" stroke-width="1.1" />
<line x1="486.7" y1="167.3" x2="486.7" y2="170.6" stroke="#111" stroke-width="1.1" />
<line x1="504.2" y1="167.3" x2="504.2" y2="170.6" stroke="#111" stroke-width="1.1" />
<text transform="translate(325.6,134) rotate(-90)" x="0" y="0" font-size="10.6" fill="#231f20" textLength="43.2" lengthAdjust="spacingAndGlyphs" stroke="#231f20" stroke-width="0.08">% dead cells</text>
<path d="M361.9,105.3 H402.7 M380.4,105.3 V67 H416.1 V75" stroke="#111" stroke-width="1.1" fill="none" />
<text x="398.6" y="66.5" font-size="7.8" fill="#231f20" text-anchor="middle" textLength="13.4" lengthAdjust="spacingAndGlyphs" stroke="#231f20" stroke-width="0.22">****</text>
<line x1="448" y1="121.2" x2="508.8" y2="121.2" stroke="#111" stroke-width="1.1" />
<text x="478.5" y="116.6" font-size="8.3" fill="#231f20" text-anchor="middle" textLength="7.9" lengthAdjust="spacingAndGlyphs" stroke="#231f20" stroke-width="0.22">ns</text>
<line x1="362.7" y1="121.5" x2="362.7" y2="135.8" stroke="#111" stroke-width="1.1" />
<line x1="359.9" y1="121.5" x2="365.5" y2="121.5" stroke="#111" stroke-width="1.1" />
<line x1="359.9" y1="135.8" x2="365.5" y2="135.8" stroke="#111" stroke-width="1.1" />
<line x1="357.1" y1="129.4" x2="368.3" y2="129.4" stroke="#111" stroke-width="1.32" />
<rect x="361.3" y="115.1" width="3.8" height="3.8" fill="#4c1f66" />
<rect x="361.3" y="126.5" width="3.8" height="3.8" fill="#d8228e" />
<rect x="358" y="130.5" width="3.8" height="3.8" fill="#6cb4e8" />
<rect x="360" y="134.6" width="3.8" height="3.8" fill="#5fae3e" />
<rect x="365.1" y="132.6" width="3.8" height="3.8" fill="#a5153a" />
<line x1="380.7" y1="114.2" x2="380.7" y2="133.5" stroke="#111" stroke-width="1.1" />
<line x1="377.9" y1="114.2" x2="383.5" y2="114.2" stroke="#111" stroke-width="1.1" />
<line x1="377.9" y1="133.5" x2="383.5" y2="133.5" stroke="#111" stroke-width="1.1" />
<line x1="375.1" y1="124.4" x2="386.3" y2="124.4" stroke="#111" stroke-width="1.32" />
<rect x="382.6" y="108.9" width="3.8" height="3.8" fill="#4c1f66" />
<rect x="376.2" y="115.1" width="3.8" height="3.8" fill="#6cb4e8" />
<rect x="379.3" y="125.1" width="3.8" height="3.8" fill="#d8228e" />
<rect x="376.5" y="131.9" width="3.8" height="3.8" fill="#5fae3e" />
<rect x="382.3" y="131.6" width="3.8" height="3.8" fill="#a5153a" />
<line x1="398.8" y1="116.2" x2="398.8" y2="135.8" stroke="#111" stroke-width="1.1" />
<line x1="396" y1="116.2" x2="401.6" y2="116.2" stroke="#111" stroke-width="1.1" />
<line x1="396" y1="135.8" x2="401.6" y2="135.8" stroke="#111" stroke-width="1.1" />
<line x1="393.2" y1="126.1" x2="404.4" y2="126.1" stroke="#111" stroke-width="1.32" />
<rect x="396.9" y="111.6" width="3.8" height="3.8" fill="#a5153a" />
<rect x="397.3" y="120" width="3.8" height="3.8" fill="#d8228e" />
<rect x="395.1" y="123.9" width="3.8" height="3.8" fill="#6cb4e8" />
<rect x="401.1" y="127.4" width="3.8" height="3.8" fill="#4c1f66" />
<rect x="398" y="138.2" width="3.8" height="3.8" fill="#5fae3e" />
<line x1="416.3" y1="79.6" x2="416.3" y2="104.2" stroke="#111" stroke-width="1.1" />
<line x1="413.5" y1="79.6" x2="419.1" y2="79.6" stroke="#111" stroke-width="1.1" />
<line x1="413.5" y1="104.2" x2="419.1" y2="104.2" stroke="#111" stroke-width="1.1" />
<line x1="410.7" y1="91.9" x2="421.9" y2="91.9" stroke="#111" stroke-width="1.32" />
<rect x="409.6" y="78.2" width="3.8" height="3.8" fill="#d8228e" />
<rect x="418" y="74.6" width="3.8" height="3.8" fill="#4c1f66" />
<rect x="414.8" y="93.9" width="3.8" height="3.8" fill="#6cb4e8" />
<rect x="418.9" y="97.7" width="3.8" height="3.8" fill="#a5153a" />
<rect x="410.8" y="102.3" width="3.8" height="3.8" fill="#5fae3e" />
<line x1="450.8" y1="128.4" x2="450.8" y2="151.9" stroke="#111" stroke-width="1.1" />
<line x1="448" y1="128.4" x2="453.6" y2="128.4" stroke="#111" stroke-width="1.1" />
<line x1="448" y1="151.9" x2="453.6" y2="151.9" stroke="#111" stroke-width="1.1" />
<line x1="445.2" y1="139.9" x2="456.4" y2="139.9" stroke="#111" stroke-width="1.32" />
<circle cx="451.3" cy="128.4" r="2" fill="#6a3e12" />
<circle cx="448.1" cy="136.2" r="2" fill="#2f6e4e" />
<circle cx="454.4" cy="137.5" r="2" fill="#f2c21c" />
<circle cx="451.6" cy="157.3" r="2" fill="#1f3f8e" />
<line x1="469" y1="128.4" x2="469" y2="155" stroke="#111" stroke-width="1.1" />
<line x1="466.2" y1="128.4" x2="471.8" y2="128.4" stroke="#111" stroke-width="1.1" />
<line x1="466.2" y1="155" x2="471.8" y2="155" stroke="#111" stroke-width="1.1" />
<line x1="463.4" y1="141.6" x2="474.6" y2="141.6" stroke="#111" stroke-width="1.32" />
<circle cx="465.9" cy="132.2" r="2" fill="#6a3e12" />
<circle cx="471.9" cy="131.5" r="2" fill="#2f6e4e" />
<circle cx="469.3" cy="143.5" r="2" fill="#f2c21c" />
<circle cx="469" cy="158.5" r="2" fill="#1f3f8e" />
<line x1="486.7" y1="142.2" x2="486.7" y2="157.8" stroke="#111" stroke-width="1.1" />
<line x1="483.9" y1="142.2" x2="489.5" y2="142.2" stroke="#111" stroke-width="1.1" />
<line x1="483.9" y1="157.8" x2="489.5" y2="157.8" stroke="#111" stroke-width="1.1" />
<line x1="481.1" y1="150.1" x2="492.3" y2="150.1" stroke="#111" stroke-width="1.32" />
<circle cx="486.7" cy="138.5" r="2" fill="#6a3e12" />
<circle cx="485.9" cy="151.9" r="2" fill="#2f6e4e" />
<circle cx="489.8" cy="152.2" r="2" fill="#f2c21c" />
<circle cx="484.2" cy="158.8" r="2" fill="#1f3f8e" />
<line x1="504.4" y1="135.8" x2="504.4" y2="154.7" stroke="#111" stroke-width="1.1" />
<line x1="501.6" y1="135.8" x2="507.2" y2="135.8" stroke="#111" stroke-width="1.1" />
<line x1="501.6" y1="154.7" x2="507.2" y2="154.7" stroke="#111" stroke-width="1.1" />
<line x1="498.8" y1="144.7" x2="510" y2="144.7" stroke="#111" stroke-width="1.32" />
<circle cx="504.4" cy="133" r="2" fill="#2f6e4e" />
<circle cx="501.6" cy="143" r="2" fill="#6a3e12" />
<circle cx="507" cy="143" r="2" fill="#f2c21c" />
<circle cx="504.4" cy="154.7" r="2" fill="#1f3f8e" />
<text x="306" y="181.3" font-size="8.2" fill="#231f20" textLength="39.8" lengthAdjust="spacingAndGlyphs" stroke="#231f20" stroke-width="0.22">Quiz (µM):</text>
<text x="308.3" y="193.6" font-size="8.2" fill="#231f20" textLength="37.5" lengthAdjust="spacingAndGlyphs" stroke="#231f20" stroke-width="0.22">Dex (µM):</text>
<text x="362.4" y="181.3" font-size="8.2" fill="#231f20" text-anchor="middle" stroke="#231f20" stroke-width="0.22">0</text>
<text x="362.4" y="193.6" font-size="8.2" fill="#231f20" text-anchor="middle" stroke="#231f20" stroke-width="0.22">0</text>
<text x="380.1" y="181.3" font-size="8.2" fill="#231f20" text-anchor="middle" stroke="#231f20" stroke-width="0.22">0</text>
<text x="380.1" y="193.6" font-size="8.2" fill="#231f20" text-anchor="middle" stroke="#231f20" stroke-width="0.22">50</text>
<text x="398.8" y="181.3" font-size="8.2" fill="#231f20" text-anchor="middle" stroke="#231f20" stroke-width="0.22">0.1</text>
<text x="398.8" y="193.6" font-size="8.2" fill="#231f20" text-anchor="middle" stroke="#231f20" stroke-width="0.22">0</text>
<text x="416.1" y="181.3" font-size="8.2" fill="#231f20" text-anchor="middle" stroke="#231f20" stroke-width="0.22">0.1</text>
<text x="416.1" y="193.6" font-size="8.2" fill="#231f20" text-anchor="middle" stroke="#231f20" stroke-width="0.22">50</text>
<text x="450.4" y="181.3" font-size="8.2" fill="#231f20" text-anchor="middle" stroke="#231f20" stroke-width="0.22">0</text>
<text x="450.4" y="193.6" font-size="8.2" fill="#231f20" text-anchor="middle" stroke="#231f20" stroke-width="0.22">0</text>
<text x="468.8" y="181.3" font-size="8.2" fill="#231f20" text-anchor="middle" stroke="#231f20" stroke-width="0.22">0</text>
<text x="468.8" y="193.6" font-size="8.2" fill="#231f20" text-anchor="middle" stroke="#231f20" stroke-width="0.22">50</text>
<text x="486.7" y="181.3" font-size="8.2" fill="#231f20" text-anchor="middle" stroke="#231f20" stroke-width="0.22">10</text>
<text x="486.7" y="193.6" font-size="8.2" fill="#231f20" text-anchor="middle" stroke="#231f20" stroke-width="0.22">0</text>
<text x="504.2" y="181.3" font-size="8.2" fill="#231f20" text-anchor="middle" stroke="#231f20" stroke-width="0.22">10</text>
<text x="504.2" y="193.6" font-size="8.2" fill="#231f20" text-anchor="middle" stroke="#231f20" stroke-width="0.22">50</text>
<text x="7.5" y="221.9" font-size="12.2" fill="#000" font-weight="bold">C</text>
<text x="72.6" y="231.9" font-size="8" fill="#231f20" textLength="25.4" lengthAdjust="spacingAndGlyphs" stroke="#231f20" stroke-width="0.3">DMSO</text>
<text x="184.8" y="231.9" font-size="8" fill="#231f20" textLength="14.6" lengthAdjust="spacingAndGlyphs" stroke="#231f20" stroke-width="0.3">Dex</text>
<text x="291.4" y="231.9" font-size="8" fill="#231f20" textLength="16.6" lengthAdjust="spacingAndGlyphs" stroke="#231f20" stroke-width="0.3">Quiz</text>
<text x="389" y="231.9" font-size="8" fill="#231f20" textLength="43" lengthAdjust="spacingAndGlyphs" stroke="#231f20" stroke-width="0.3">Quiz + Dex</text>
<rect x="29.9" y="237.6" width="103.2" height="26" fill="#161616" />
<g transform="translate(35.02,238.4) scale(0.99,0.99)">
<use href="#mt"/>
<use href="#mp" fill="url(#mg)"/><use href="#mp" fill="url(#nz)"/>
<g clip-path="url(#mc)">
</g>
<ellipse cx="-3.36" cy="19.08" rx="1.7" ry="1.6" fill="url(#bspot)" />
<ellipse cx="3.38" cy="18.41" rx="1.7" ry="1.6" fill="url(#bspot)" />
</g>
<g transform="translate(45.45,238.4) scale(0.99,0.99)">
<use href="#mt"/>
<use href="#mp" fill="url(#mg)"/><use href="#mp" fill="url(#nz)"/>
<g clip-path="url(#mc)">
</g>
<ellipse cx="-3.59" cy="18.42" rx="1.7" ry="1.6" fill="url(#bspot)" />
<ellipse cx="3.48" cy="18.87" rx="1.7" ry="1.6" fill="url(#bspot)" />
</g>
<g transform="translate(55.38,238.4) scale(0.99,0.99)">
<use href="#mt"/>
<use href="#mp" fill="url(#mg)"/><use href="#mp" fill="url(#nz)"/>
<g clip-path="url(#mc)">
</g>
<ellipse cx="-3.52" cy="17.75" rx="1.7" ry="1.6" fill="url(#bspot)" />
<ellipse cx="3.59" cy="18.71" rx="1.7" ry="1.6" fill="url(#bspot)" />
</g>
<g transform="translate(65.65,238.4) scale(0.99,0.99)">
<use href="#mt"/>
<use href="#mp" fill="url(#mg)"/><use href="#mp" fill="url(#nz)"/>
<g clip-path="url(#mc)">
</g>
<ellipse cx="-3.11" cy="19.14" rx="1.7" ry="1.6" fill="url(#bspot)" />
<ellipse cx="3.49" cy="18.58" rx="1.7" ry="1.6" fill="url(#bspot)" />
</g>
<g transform="translate(76.07,238.4) scale(0.99,0.99)">
<use href="#mt"/>
<use href="#mp" fill="url(#mg)"/><use href="#mp" fill="url(#nz)"/>
<g clip-path="url(#mc)">
</g>
<ellipse cx="-3.69" cy="18.45" rx="1.7" ry="1.6" fill="url(#bspot)" />
<ellipse cx="3.14" cy="17.9" rx="1.7" ry="1.6" fill="url(#bspot)" />
</g>
<g transform="translate(86.45,238.4) scale(0.99,0.99)">
<use href="#mt"/>
<use href="#mp" fill="url(#mg)"/><use href="#mp" fill="url(#nz)"/>
<g clip-path="url(#mc)">
</g>
<ellipse cx="-3.68" cy="18.34" rx="1.7" ry="1.6" fill="url(#bspot)" />
<ellipse cx="3.36" cy="18.95" rx="1.7" ry="1.6" fill="url(#bspot)" />
</g>
<g transform="translate(97,238.4) scale(0.99,0.99)">
<use href="#mt"/>
<use href="#mp" fill="url(#mg)"/><use href="#mp" fill="url(#nz)"/>
<g clip-path="url(#mc)">
</g>
<ellipse cx="-3.32" cy="18.4" rx="1.7" ry="1.6" fill="url(#bspot)" />
<ellipse cx="3.5" cy="18.33" rx="1.7" ry="1.6" fill="url(#bspot)" />
</g>
<g transform="translate(107.12,238.4) scale(0.99,0.99)">
<use href="#mt"/>
<use href="#mp" fill="url(#mg)"/><use href="#mp" fill="url(#nz)"/>
<g clip-path="url(#mc)">
</g>
<ellipse cx="-3.1" cy="19.19" rx="1.7" ry="1.6" fill="url(#bspot)" />
<ellipse cx="3.6" cy="18.73" rx="1.7" ry="1.6" fill="url(#bspot)" />
</g>
<g transform="translate(117.47,238.4) scale(0.99,0.99)">
<use href="#mt"/>
<use href="#mp" fill="url(#mg)"/><use href="#mp" fill="url(#nz)"/>
<g clip-path="url(#mc)">
</g>
<ellipse cx="-3.56" cy="18.06" rx="1.7" ry="1.6" fill="url(#bspot)" />
<ellipse cx="3.14" cy="18.83" rx="1.7" ry="1.6" fill="url(#bspot)" />
</g>
<g transform="translate(127.86,238.4) scale(0.99,0.99)">
<use href="#mt"/>
<use href="#mp" fill="url(#mg)"/><use href="#mp" fill="url(#nz)"/>
<g clip-path="url(#mc)">
</g>
<ellipse cx="-3.19" cy="18.22" rx="1.7" ry="1.6" fill="url(#bspot)" />
<ellipse cx="3.67" cy="18.96" rx="1.7" ry="1.6" fill="url(#bspot)" />
</g>
<rect x="28.5" y="267.9" width="42.12" height="26.1" fill="#161616" />
<rect x="81.15" y="267.9" width="52.65" height="26.1" fill="#161616" />
<g transform="translate(33.74,268.7) scale(0.98,1)">
<use href="#mt"/>
<use href="#mp" fill="#2a3ad8"/>
<g clip-path="url(#mc)">
<g filter="url(#bl)">
<ellipse cx="0.87" cy="6.42" rx="1.81" ry="2.85" fill="#3440d0" />
<ellipse cx="0.87" cy="6.42" rx="1.56" ry="2.45" fill="#2ea8f0" />
<ellipse cx="0.87" cy="6.42" rx="1.34" ry="2.11" fill="#48d8d0" />
<ellipse cx="0.87" cy="6.42" rx="1.14" ry="1.8" fill="#78d848" />
<ellipse cx="0.75" cy="11.82" rx="2.66" ry="2.67" fill="#3440d0" />
<ellipse cx="0.75" cy="11.82" rx="2.29" ry="2.3" fill="#2ea8f0" />
<ellipse cx="0.84" cy="6.47" rx="2.24" ry="2.59" fill="#3440d0" />
<ellipse cx="0.84" cy="6.47" rx="1.93" ry="2.23" fill="#2ea8f0" />
<ellipse cx="0.84" cy="6.47" rx="1.66" ry="1.92" fill="#48d8d0" />
<ellipse cx="-2.29" cy="17.92" rx="1.87" ry="3.22" fill="#3440d0" />
<ellipse cx="-2.29" cy="17.92" rx="1.61" ry="2.77" fill="#2ea8f0" />
<ellipse cx="-2.29" cy="17.92" rx="1.39" ry="2.39" fill="#48d8d0" />
<ellipse cx="-2.29" cy="17.92" rx="1.18" ry="2.03" fill="#78d848" />
<ellipse cx="0.73" cy="16.97" rx="2.2" ry="3.81" fill="#48d8d0" />
<ellipse cx="0.73" cy="16.97" rx="1.84" ry="3.26" fill="#78d848" />
<ellipse cx="0.73" cy="16.97" rx="1.47" ry="2.72" fill="#e82a14" />
<ellipse cx="1.28" cy="14.93" rx="2.37" ry="3.91" fill="#48d8d0" />
<ellipse cx="1.28" cy="14.93" rx="1.97" ry="3.35" fill="#78d848" />
<ellipse cx="1.28" cy="14.93" rx="1.58" ry="2.79" fill="#e82a14" />
</g>
</g>
</g>
<g transform="translate(44.23,268.7) scale(0.98,1)">
<use href="#mt"/>
<use href="#mp" fill="#2a3ad8"/>
<g clip-path="url(#mc)">
<g filter="url(#bl)">
<ellipse cx="0.84" cy="20.51" rx="2.34" ry="3.46" fill="#3440d0" />
<ellipse cx="0.84" cy="20.51" rx="2.01" ry="2.97" fill="#2ea8f0" />
<ellipse cx="0.84" cy="20.51" rx="1.73" ry="2.56" fill="#48d8d0" />
<ellipse cx="2.48" cy="19.05" rx="2.36" ry="3.01" fill="#3440d0" />
<ellipse cx="2.48" cy="19.05" rx="2.03" ry="2.59" fill="#2ea8f0" />
<ellipse cx="-0.52" cy="11.12" rx="2.4" ry="2.97" fill="#3440d0" />
<ellipse cx="-0.52" cy="11.12" rx="2.06" ry="2.56" fill="#2ea8f0" />
<ellipse cx="-0.52" cy="11.12" rx="1.77" ry="2.2" fill="#48d8d0" />
<ellipse cx="-0.52" cy="11.12" rx="1.51" ry="1.87" fill="#78d848" />
<ellipse cx="0.21" cy="14.89" rx="1.88" ry="2.63" fill="#3440d0" />
<ellipse cx="0.21" cy="14.89" rx="1.62" ry="2.26" fill="#2ea8f0" />
<ellipse cx="0.21" cy="14.89" rx="1.39" ry="1.95" fill="#48d8d0" />
<ellipse cx="0.21" cy="14.89" rx="1.19" ry="1.66" fill="#78d848" />
<ellipse cx="-0.57" cy="10.45" rx="2.93" ry="3.46" fill="#48d8d0" />
<ellipse cx="-0.57" cy="10.45" rx="2.44" ry="2.97" fill="#78d848" />
<ellipse cx="-0.57" cy="10.45" rx="1.95" ry="2.47" fill="#e82a14" />
<ellipse cx="-1.54" cy="8.52" rx="2.54" ry="3.24" fill="#48d8d0" />
<ellipse cx="-1.54" cy="8.52" rx="2.11" ry="2.77" fill="#78d848" />
<ellipse cx="-1.54" cy="8.52" rx="1.69" ry="2.31" fill="#e82a14" />
</g>
</g>
</g>
<g transform="translate(55.07,268.7) scale(1,1)">
<use href="#mt"/>
<use href="#mp" fill="url(#mg)"/><use href="#mp" fill="url(#nz)"/>
<g clip-path="url(#mc)">
<use href="#mp" fill="#2c3cd4"/>
<ellipse cx="-1.54" cy="8.71" rx="1.76" ry="1.14" fill="#e6e6ee" opacity="0.92"/>
<ellipse cx="-2.28" cy="13.13" rx="0.94" ry="1.37" fill="#e6e6ee" opacity="0.92"/>
<ellipse cx="0.51" cy="14.3" rx="1.12" ry="1.2" fill="#e6e6ee" opacity="0.92"/>
<ellipse cx="-1.09" cy="9.5" rx="1.4" ry="1.88" fill="#e6e6ee" opacity="0.92"/>
<ellipse cx="1.08" cy="10.71" rx="1.27" ry="1.54" fill="#e6e6ee" opacity="0.92"/>
<ellipse cx="-0.21" cy="13.45" rx="1.76" ry="1.41" fill="#e6e6ee" opacity="0.92"/>
<ellipse cx="2.34" cy="9.97" rx="1.45" ry="1.34" fill="#e6e6ee" opacity="0.92"/>
<ellipse cx="1.33" cy="6.64" rx="0.84" ry="1.17" fill="#3440d0" />
<ellipse cx="1.33" cy="6.64" rx="0.72" ry="1.01" fill="#2ea8f0" />
<ellipse cx="2.08" cy="13.62" rx="0.67" ry="1.1" fill="#3440d0" />
<ellipse cx="2.08" cy="13.62" rx="0.58" ry="0.94" fill="#2ea8f0" />
<ellipse cx="0.01" cy="6.97" rx="0.65" ry="0.88" fill="#3440d0" />
<ellipse cx="0.01" cy="6.97" rx="0.56" ry="0.76" fill="#2ea8f0" />
<ellipse cx="0.2" cy="17.62" rx="1.76" ry="1.44" fill="#3440d0" />
<ellipse cx="0.2" cy="17.62" rx="1.51" ry="1.24" fill="#2ea8f0" />
<ellipse cx="0.2" cy="17.62" rx="1.3" ry="1.07" fill="#48d8d0" />
<ellipse cx="0.2" cy="17.62" rx="1.11" ry="0.91" fill="#78d848" />
<ellipse cx="0.2" cy="17.62" rx="0.93" ry="0.76" fill="#f2e82a" />
<ellipse cx="0.2" cy="17.62" rx="0.79" ry="0.65" fill="#f08020" />
<ellipse cx="0.2" cy="17.62" rx="0.67" ry="0.55" fill="#e82a14" />
<ellipse cx="1.46" cy="19.56" rx="1.34" ry="1.26" fill="#3440d0" />
<ellipse cx="1.46" cy="19.56" rx="1.15" ry="1.09" fill="#2ea8f0" />
<ellipse cx="1.46" cy="19.56" rx="0.99" ry="0.94" fill="#48d8d0" />
<ellipse cx="1.46" cy="19.56" rx="0.84" ry="0.8" fill="#78d848" />
</g>
<ellipse cx="-3.41" cy="18.17" rx="1.7" ry="1.6" fill="url(#bspot)" />
<ellipse cx="3.51" cy="18.31" rx="1.7" ry="1.6" fill="url(#bspot)" />
</g>
<g transform="translate(65.55,268.7) scale(1,1)">
<use href="#mt"/>
<use href="#mp" fill="url(#mg)"/><use href="#mp" fill="url(#nz)"/>
<g clip-path="url(#mc)">
<use href="#mp" fill="#2c3cd4"/>
<ellipse cx="-1" cy="16.1" rx="1.18" ry="2.33" fill="#e6e6ee" opacity="0.92"/>
<ellipse cx="0.07" cy="13.44" rx="1.6" ry="1.38" fill="#e6e6ee" opacity="0.92"/>
<ellipse cx="-1.03" cy="6.82" rx="1.58" ry="2" fill="#e6e6ee" opacity="0.92"/>
<ellipse cx="-1.77" cy="16.3" rx="1.32" ry="1.41" fill="#e6e6ee" opacity="0.92"/>
<ellipse cx="-0.31" cy="17.69" rx="1.46" ry="1.91" fill="#e6e6ee" opacity="0.92"/>
<ellipse cx="2.02" cy="17.43" rx="1.66" ry="1.64" fill="#e6e6ee" opacity="0.92"/>
<ellipse cx="0.44" cy="14.81" rx="0.92" ry="0.99" fill="#3440d0" />
<ellipse cx="0.44" cy="14.81" rx="0.79" ry="0.85" fill="#2ea8f0" />
<ellipse cx="-0.76" cy="8.42" rx="0.89" ry="0.98" fill="#3440d0" />
<ellipse cx="-0.76" cy="8.42" rx="0.77" ry="0.84" fill="#2ea8f0" />
<ellipse cx="-2.41" cy="12.52" rx="0.96" ry="1.1" fill="#3440d0" />
<ellipse cx="-2.41" cy="12.52" rx="0.83" ry="0.95" fill="#2ea8f0" />
<ellipse cx="1.75" cy="20.64" rx="1.52" ry="1.39" fill="#3440d0" />
<ellipse cx="1.75" cy="20.64" rx="1.31" ry="1.2" fill="#2ea8f0" />
<ellipse cx="1.75" cy="20.64" rx="1.13" ry="1.03" fill="#48d8d0" />
<ellipse cx="1.75" cy="20.64" rx="0.96" ry="0.88" fill="#78d848" />
<ellipse cx="1.29" cy="19.84" rx="1.31" ry="1.14" fill="#3440d0" />
<ellipse cx="1.29" cy="19.84" rx="1.13" ry="0.98" fill="#2ea8f0" />
<ellipse cx="1.29" cy="19.84" rx="0.97" ry="0.84" fill="#48d8d0" />
<ellipse cx="1.29" cy="19.84" rx="0.83" ry="0.72" fill="#78d848" />
<ellipse cx="1.29" cy="19.84" rx="0.7" ry="0.6" fill="#f2e82a" />
<ellipse cx="1.29" cy="19.84" rx="0.59" ry="0.51" fill="#f08020" />
<ellipse cx="1.29" cy="19.84" rx="0.5" ry="0.43" fill="#e82a14" />
</g>
<ellipse cx="-3.29" cy="18.39" rx="1.7" ry="1.6" fill="url(#bspot)" />
<ellipse cx="3.47" cy="17.94" rx="1.7" ry="1.6" fill="url(#bspot)" />
</g>
<rect x="70.87" y="268.4" width="10.03" height="25.1" fill="#fff" stroke="#5a5a5a" stroke-width="1.1" rx="1"/>
<text x="75.89" y="286.05" font-size="14.2" fill="#000" text-anchor="middle" textLength="7.4" lengthAdjust="spacingAndGlyphs" stroke="#000" stroke-width="0.15">X</text>
<g transform="translate(86.49,268.7) scale(1,1)">
<use href="#mt"/>
<use href="#mp" fill="url(#mg)"/><use href="#mp" fill="url(#nz)"/>
<g clip-path="url(#mc)">
<use href="#mp" fill="#2c3cd4"/>
<ellipse cx="-0.51" cy="6.69" rx="1.31" ry="1.52" fill="#e6e6ee" opacity="0.92"/>
<ellipse cx="0.89" cy="5.13" rx="0.99" ry="1.51" fill="#e6e6ee" opacity="0.92"/>
<ellipse cx="0.94" cy="14.39" rx="1.56" ry="2.32" fill="#e6e6ee" opacity="0.92"/>
<ellipse cx="-0.65" cy="3.45" rx="1.39" ry="1.68" fill="#e6e6ee" opacity="0.92"/>
<ellipse cx="-1.54" cy="13.01" rx="1.24" ry="1.41" fill="#e6e6ee" opacity="0.92"/>
<ellipse cx="-0.83" cy="17.16" rx="0.91" ry="1.57" fill="#e6e6ee" opacity="0.92"/>
<ellipse cx="-1.06" cy="6.02" rx="1.33" ry="1.39" fill="#e6e6ee" opacity="0.92"/>
<ellipse cx="2.09" cy="10.01" rx="0.88" ry="0.78" fill="#3440d0" />
<ellipse cx="2.09" cy="10.01" rx="0.76" ry="0.67" fill="#2ea8f0" />
<ellipse cx="-0.18" cy="11.28" rx="0.94" ry="0.82" fill="#3440d0" />
<ellipse cx="-0.18" cy="11.28" rx="0.81" ry="0.71" fill="#2ea8f0" />
<ellipse cx="-0.2" cy="14.26" rx="0.93" ry="0.81" fill="#3440d0" />
<ellipse cx="-0.2" cy="14.26" rx="0.8" ry="0.7" fill="#2ea8f0" />
<ellipse cx="0.17" cy="20.05" rx="1.44" ry="1.34" fill="#3440d0" />
<ellipse cx="0.17" cy="20.05" rx="1.24" ry="1.15" fill="#2ea8f0" />
<ellipse cx="0.17" cy="20.05" rx="1.06" ry="0.99" fill="#48d8d0" />
<ellipse cx="0.17" cy="20.05" rx="0.91" ry="0.84" fill="#78d848" />
<ellipse cx="0.17" cy="20.05" rx="0.76" ry="0.71" fill="#f2e82a" />
<ellipse cx="0.17" cy="20.05" rx="0.65" ry="0.6" fill="#f08020" />
<ellipse cx="0.17" cy="20.05" rx="0.55" ry="0.51" fill="#e82a14" />
<ellipse cx="-1.97" cy="17.43" rx="1.54" ry="1.16" fill="#3440d0" />
<ellipse cx="-1.97" cy="17.43" rx="1.33" ry="0.99" fill="#2ea8f0" />
<ellipse cx="-1.97" cy="17.43" rx="1.14" ry="0.86" fill="#48d8d0" />
<ellipse cx="-1.97" cy="17.43" rx="0.97" ry="0.73" fill="#78d848" />
<ellipse cx="-1.97" cy="17.43" rx="0.82" ry="0.61" fill="#f2e82a" />
<ellipse cx="-1.97" cy="17.43" rx="0.69" ry="0.52" fill="#f08020" />
<ellipse cx="-1.97" cy="17.43" rx="0.59" ry="0.44" fill="#e82a14" />
</g>
<ellipse cx="-3.69" cy="18.84" rx="1.7" ry="1.6" fill="url(#bspot)" />
<ellipse cx="3.64" cy="18.61" rx="1.7" ry="1.6" fill="url(#bspot)" />
</g>
<g transform="translate(96.68,268.7) scale(1,1)">
<use href="#mt"/>
<use href="#mp" fill="url(#mg)"/><use href="#mp" fill="url(#nz)"/>
<g clip-path="url(#mc)">
<use href="#mp" fill="#2c3cd4"/>
<ellipse cx="-1.32" cy="11.16" rx="1.15" ry="1.16" fill="#e6e6ee" opacity="0.92"/>
<ellipse cx="1.46" cy="7.28" rx="1.84" ry="1.88" fill="#e6e6ee" opacity="0.92"/>
<ellipse cx="-0.53" cy="16.1" rx="1.8" ry="1.52" fill="#e6e6ee" opacity="0.92"/>
<ellipse cx="-1.8" cy="12.61" rx="1.74" ry="1.89" fill="#e6e6ee" opacity="0.92"/>
<ellipse cx="1.36" cy="9.19" rx="1.52" ry="1.44" fill="#e6e6ee" opacity="0.92"/>
<ellipse cx="-0.45" cy="8.7" rx="1.28" ry="1.62" fill="#e6e6ee" opacity="0.92"/>
<ellipse cx="1.54" cy="6.04" rx="0.68" ry="0.83" fill="#3440d0" />
<ellipse cx="1.54" cy="6.04" rx="0.59" ry="0.71" fill="#2ea8f0" />
<ellipse cx="2.36" cy="10.27" rx="0.62" ry="1.12" fill="#3440d0" />
<ellipse cx="2.36" cy="10.27" rx="0.53" ry="0.96" fill="#2ea8f0" />
<ellipse cx="1.87" cy="13.85" rx="0.74" ry="1.07" fill="#3440d0" />
<ellipse cx="1.87" cy="13.85" rx="0.64" ry="0.92" fill="#2ea8f0" />
<ellipse cx="-0.86" cy="17.55" rx="1.72" ry="1.42" fill="#3440d0" />
<ellipse cx="-0.86" cy="17.55" rx="1.48" ry="1.22" fill="#2ea8f0" />
<ellipse cx="-0.86" cy="17.55" rx="1.27" ry="1.05" fill="#48d8d0" />
<ellipse cx="1.1" cy="20.44" rx="1.53" ry="1.02" fill="#3440d0" />
<ellipse cx="1.1" cy="20.44" rx="1.32" ry="0.88" fill="#2ea8f0" />
<ellipse cx="1.1" cy="20.44" rx="1.13" ry="0.76" fill="#48d8d0" />
</g>
<ellipse cx="-3.58" cy="17.92" rx="1.7" ry="1.6" fill="url(#bspot)" />
<ellipse cx="3.59" cy="19.08" rx="1.7" ry="1.6" fill="url(#bspot)" />
</g>
<g transform="translate(107.86,268.7) scale(1,1)">
<use href="#mt"/>
<use href="#mp" fill="url(#mg)"/><use href="#mp" fill="url(#nz)"/>
<g clip-path="url(#mc)">
<ellipse cx="0.22" cy="4.35" rx="1.83" ry="1.53" fill="#3440d0" />
<ellipse cx="0.22" cy="4.35" rx="1.57" ry="1.31" fill="#2ea8f0" />
<ellipse cx="0.17" cy="11.18" rx="1.52" ry="1.79" fill="#3440d0" />
<ellipse cx="0.17" cy="11.18" rx="1.31" ry="1.54" fill="#2ea8f0" />
<ellipse cx="0.03" cy="14.17" rx="1.47" ry="1.77" fill="#3440d0" />
<ellipse cx="0.03" cy="14.17" rx="1.27" ry="1.52" fill="#2ea8f0" />
</g>
<ellipse cx="-3.16" cy="17.65" rx="1.7" ry="1.6" fill="url(#bspot)" />
<ellipse cx="3.11" cy="17.85" rx="1.7" ry="1.6" fill="url(#bspot)" />
</g>
<g transform="translate(118.21,268.7) scale(1,1)">
<use href="#mt"/>
<use href="#mp" fill="url(#mg)"/><use href="#mp" fill="url(#nz)"/>
<g clip-path="url(#mc)">
<use href="#mp" fill="#2c3cd4"/>
<ellipse cx="0.91" cy="17.34" rx="1.58" ry="1.65" fill="#e6e6ee" opacity="0.92"/>
<ellipse cx="-0.45" cy="12.12" rx="1.65" ry="2.19" fill="#e6e6ee" opacity="0.92"/>
<ellipse cx="-1.78" cy="3.94" rx="1.01" ry="1.21" fill="#e6e6ee" opacity="0.92"/>
<ellipse cx="-2.13" cy="3.13" rx="1.15" ry="1.25" fill="#e6e6ee" opacity="0.92"/>
<ellipse cx="0.89" cy="12.24" rx="1.87" ry="2.35" fill="#e6e6ee" opacity="0.92"/>
<ellipse cx="1.18" cy="17.24" rx="0.93" ry="1.4" fill="#e6e6ee" opacity="0.92"/>
<ellipse cx="2.13" cy="9.71" rx="0.68" ry="1.08" fill="#3440d0" />
<ellipse cx="2.13" cy="9.71" rx="0.59" ry="0.93" fill="#2ea8f0" />
<ellipse cx="-0.38" cy="10.52" rx="0.73" ry="0.82" fill="#3440d0" />
<ellipse cx="-0.38" cy="10.52" rx="0.62" ry="0.71" fill="#2ea8f0" />
<ellipse cx="-2.06" cy="11.28" rx="0.98" ry="1.19" fill="#3440d0" />
<ellipse cx="-2.06" cy="11.28" rx="0.84" ry="1.03" fill="#2ea8f0" />
<ellipse cx="1.17" cy="20.73" rx="1.42" ry="1.15" fill="#3440d0" />
<ellipse cx="1.17" cy="20.73" rx="1.22" ry="0.99" fill="#2ea8f0" />
<ellipse cx="1.17" cy="20.73" rx="1.05" ry="0.85" fill="#48d8d0" />
<ellipse cx="1.17" cy="20.73" rx="0.89" ry="0.72" fill="#78d848" />
<ellipse cx="0.44" cy="19.68" rx="1.21" ry="1.11" fill="#3440d0" />
<ellipse cx="0.44" cy="19.68" rx="1.04" ry="0.96" fill="#2ea8f0" />
<ellipse cx="0.44" cy="19.68" rx="0.89" ry="0.82" fill="#48d8d0" />
<ellipse cx="0.44" cy="19.68" rx="0.76" ry="0.7" fill="#78d848" />
</g>
<ellipse cx="-3.44" cy="18.14" rx="1.7" ry="1.6" fill="url(#bspot)" />
<ellipse cx="3.34" cy="18.11" rx="1.7" ry="1.6" fill="url(#bspot)" />
</g>
<g transform="translate(128.61,268.7) scale(1,1)">
<use href="#mt"/>
<use href="#mp" fill="url(#mg)"/><use href="#mp" fill="url(#nz)"/>
<g clip-path="url(#mc)">
<use href="#mp" fill="#2c3cd4"/>
<ellipse cx="-0.76" cy="16.34" rx="1.54" ry="1.91" fill="#e6e6ee" opacity="0.92"/>
<ellipse cx="-2.09" cy="8.12" rx="1.17" ry="1.83" fill="#e6e6ee" opacity="0.92"/>
<ellipse cx="1.62" cy="12.99" rx="1.34" ry="1.46" fill="#e6e6ee" opacity="0.92"/>
<ellipse cx="-0.75" cy="17.86" rx="1.02" ry="1.86" fill="#e6e6ee" opacity="0.92"/>
<ellipse cx="-0.04" cy="8.44" rx="1.06" ry="1.91" fill="#e6e6ee" opacity="0.92"/>
<ellipse cx="-1.07" cy="8.04" rx="1.27" ry="2.28" fill="#e6e6ee" opacity="0.92"/>
<ellipse cx="2.08" cy="15.32" rx="0.84" ry="0.74" fill="#3440d0" />
<ellipse cx="2.08" cy="15.32" rx="0.72" ry="0.63" fill="#2ea8f0" />
<ellipse cx="0.62" cy="14.67" rx="0.98" ry="1.01" fill="#3440d0" />
<ellipse cx="0.62" cy="14.67" rx="0.84" ry="0.87" fill="#2ea8f0" />
<ellipse cx="0.58" cy="14.3" rx="0.66" ry="0.87" fill="#3440d0" />
<ellipse cx="0.58" cy="14.3" rx="0.56" ry="0.75" fill="#2ea8f0" />
<ellipse cx="2.16" cy="19.57" rx="1.23" ry="1.16" fill="#3440d0" />
<ellipse cx="2.16" cy="19.57" rx="1.05" ry="1" fill="#2ea8f0" />
<ellipse cx="2.16" cy="19.57" rx="0.91" ry="0.86" fill="#48d8d0" />
<ellipse cx="2.16" cy="19.57" rx="0.77" ry="0.73" fill="#78d848" />
<ellipse cx="2.16" cy="19.57" rx="0.65" ry="0.62" fill="#f2e82a" />
<ellipse cx="2.16" cy="19.57" rx="0.55" ry="0.52" fill="#f08020" />
<ellipse cx="2.16" cy="19.57" rx="0.47" ry="0.44" fill="#e82a14" />
<ellipse cx="-1.88" cy="19.69" rx="1.26" ry="1.13" fill="#3440d0" />
<ellipse cx="-1.88" cy="19.69" rx="1.08" ry="0.97" fill="#2ea8f0" />
<ellipse cx="-1.88" cy="19.69" rx="0.93" ry="0.83" fill="#48d8d0" />
<ellipse cx="-1.88" cy="19.69" rx="0.79" ry="0.71" fill="#78d848" />
</g>
<ellipse cx="-3.11" cy="18.68" rx="1.7" ry="1.6" fill="url(#bspot)" />
<ellipse cx="3.2" cy="18.3" rx="1.7" ry="1.6" fill="url(#bspot)" />
</g>
<rect x="49.56" y="297.4" width="21.06" height="27.6" fill="#161616" />
<rect x="81.15" y="297.4" width="10.53" height="27.6" fill="#161616" />
<rect x="28.75" y="297.9" width="10.03" height="26.6" fill="#fff" stroke="#5a5a5a" stroke-width="1.1" rx="1"/>
<text x="33.77" y="316.3" font-size="14.2" fill="#000" text-anchor="middle" textLength="7.4" lengthAdjust="spacingAndGlyphs" stroke="#000" stroke-width="0.15">X</text>
<rect x="39.28" y="297.9" width="10.03" height="26.6" fill="#fff" stroke="#5a5a5a" stroke-width="1.1" rx="1"/>
<text x="44.3" y="316.3" font-size="14.2" fill="#000" text-anchor="middle" textLength="7.4" lengthAdjust="spacingAndGlyphs" stroke="#000" stroke-width="0.15">X</text>
<g transform="translate(54.63,298.2) scale(1.04,1.06)">
<use href="#mt"/>
<use href="#mp" fill="#2a3ad8"/>
<g clip-path="url(#mc)">
<g filter="url(#bl)">
<ellipse cx="0" cy="12" rx="4.8" ry="14" fill="#2ea8f0" />
<ellipse cx="0" cy="12.5" rx="4" ry="11.8" fill="#78d848" />
<ellipse cx="0.59" cy="5.55" rx="3.85" ry="4.11" fill="#f2e82a" />
<ellipse cx="0.59" cy="5.55" rx="3.08" ry="3.42" fill="#e82a14" />
<ellipse cx="-0.86" cy="8.94" rx="3.23" ry="4.9" fill="#f2e82a" />
<ellipse cx="-0.86" cy="8.94" rx="2.58" ry="4.08" fill="#e82a14" />
<ellipse cx="-1.18" cy="15.09" rx="3.21" ry="4.26" fill="#f2e82a" />
<ellipse cx="-1.18" cy="15.09" rx="2.57" ry="3.55" fill="#e82a14" />
<ellipse cx="-0.22" cy="21.01" rx="3.61" ry="3.86" fill="#f2e82a" />
<ellipse cx="-0.22" cy="21.01" rx="2.89" ry="3.22" fill="#e82a14" />
</g>
</g>
</g>
<g transform="translate(65.18,298.2) scale(1.04,1.06)">
<use href="#mt"/>
<use href="#mp" fill="#2a3ad8"/>
<g clip-path="url(#mc)">
<g filter="url(#bl)">
<ellipse cx="0" cy="12" rx="4.8" ry="14" fill="#2ea8f0" />
<ellipse cx="0" cy="12.5" rx="4" ry="11.8" fill="#78d848" />
<ellipse cx="-1.13" cy="6.11" rx="3.81" ry="5" fill="#f2e82a" />
<ellipse cx="-1.13" cy="6.11" rx="3.05" ry="4.17" fill="#e82a14" />
<ellipse cx="1.04" cy="10.73" rx="3.95" ry="4.98" fill="#f2e82a" />
<ellipse cx="1.04" cy="10.73" rx="3.16" ry="4.15" fill="#e82a14" />
<ellipse cx="-0.78" cy="16.05" rx="3.49" ry="4.93" fill="#f2e82a" />
<ellipse cx="-0.78" cy="16.05" rx="2.79" ry="4.11" fill="#e82a14" />
<ellipse cx="0.21" cy="19.79" rx="3.36" ry="4.46" fill="#f2e82a" />
<ellipse cx="0.21" cy="19.79" rx="2.69" ry="3.72" fill="#e82a14" />
</g>
</g>
</g>
<rect x="70.87" y="297.9" width="10.03" height="26.6" fill="#fff" stroke="#5a5a5a" stroke-width="1.1" rx="1"/>
<text x="75.89" y="316.3" font-size="14.2" fill="#000" text-anchor="middle" textLength="7.4" lengthAdjust="spacingAndGlyphs" stroke="#000" stroke-width="0.15">X</text>
<g transform="translate(86.27,298.2) scale(1.04,1.06)">
<use href="#mt"/>
<use href="#mp" fill="#2a3ad8"/>
<g clip-path="url(#mc)">
<g filter="url(#bl)">
<ellipse cx="0" cy="12" rx="4.8" ry="14" fill="#2ea8f0" />
<ellipse cx="0" cy="12.5" rx="4" ry="11.8" fill="#78d848" />
<ellipse cx="-1.22" cy="5.96" rx="3.8" ry="5.26" fill="#f2e82a" />
<ellipse cx="-1.22" cy="5.96" rx="3.04" ry="4.38" fill="#e82a14" />
<ellipse cx="0.61" cy="10.16" rx="3.75" ry="4.03" fill="#f2e82a" />
<ellipse cx="0.61" cy="10.16" rx="3" ry="3.36" fill="#e82a14" />
<ellipse cx="0.57" cy="14.83" rx="3.18" ry="4.13" fill="#f2e82a" />
<ellipse cx="0.57" cy="14.83" rx="2.54" ry="3.44" fill="#e82a14" />
<ellipse cx="0.07" cy="19.26" rx="3.46" ry="4.71" fill="#f2e82a" />
<ellipse cx="0.07" cy="19.26" rx="2.77" ry="3.93" fill="#e82a14" />
</g>
</g>
</g>
<rect x="91.93" y="297.9" width="10.03" height="26.6" fill="#fff" stroke="#5a5a5a" stroke-width="1.1" rx="1"/>
<text x="96.95" y="316.3" font-size="14.2" fill="#000" text-anchor="middle" textLength="7.4" lengthAdjust="spacingAndGlyphs" stroke="#000" stroke-width="0.15">X</text>
<rect x="102.46" y="297.9" width="10.03" height="26.6" fill="#fff" stroke="#5a5a5a" stroke-width="1.1" rx="1"/>
<text x="107.48" y="316.3" font-size="14.2" fill="#000" text-anchor="middle" textLength="7.4" lengthAdjust="spacingAndGlyphs" stroke="#000" stroke-width="0.15">X</text>
<rect x="112.99" y="297.9" width="10.03" height="26.6" fill="#fff" stroke="#5a5a5a" stroke-width="1.1" rx="1"/>
<text x="118.01" y="316.3" font-size="14.2" fill="#000" text-anchor="middle" textLength="7.4" lengthAdjust="spacingAndGlyphs" stroke="#000" stroke-width="0.15">X</text>
<rect x="123.52" y="297.9" width="10.03" height="26.6" fill="#fff" stroke="#5a5a5a" stroke-width="1.1" rx="1"/>
<text x="128.54" y="316.3" font-size="14.2" fill="#000" text-anchor="middle" textLength="7.4" lengthAdjust="spacingAndGlyphs" stroke="#000" stroke-width="0.15">X</text>
<rect x="141.1" y="237.6" width="102" height="26" fill="#161616" />
<g transform="translate(145.93,238.4) scale(0.99,0.99)">
<use href="#mt"/>
<use href="#mp" fill="url(#mg)"/><use href="#mp" fill="url(#nz)"/>
<g clip-path="url(#mc)">
</g>
<ellipse cx="-3.29" cy="18.62" rx="1.7" ry="1.6" fill="url(#bspot)" />
<ellipse cx="3.39" cy="17.95" rx="1.7" ry="1.6" fill="url(#bspot)" />
</g>
<g transform="translate(156.63,238.4) scale(0.99,0.99)">
<use href="#mt"/>
<use href="#mp" fill="url(#mg)"/><use href="#mp" fill="url(#nz)"/>
<g clip-path="url(#mc)">
</g>
<ellipse cx="-3.22" cy="18.42" rx="1.7" ry="1.6" fill="url(#bspot)" />
<ellipse cx="3.4" cy="17.98" rx="1.7" ry="1.6" fill="url(#bspot)" />
</g>
<g transform="translate(166.2,238.4) scale(0.99,0.99)">
<use href="#mt"/>
<use href="#mp" fill="url(#mg)"/><use href="#mp" fill="url(#nz)"/>
<g clip-path="url(#mc)">
</g>
<ellipse cx="-3.48" cy="18.54" rx="1.7" ry="1.6" fill="url(#bspot)" />
<ellipse cx="3.14" cy="18.87" rx="1.7" ry="1.6" fill="url(#bspot)" />
</g>
<g transform="translate(176.59,238.4) scale(0.99,0.99)">
<use href="#mt"/>
<use href="#mp" fill="url(#mg)"/><use href="#mp" fill="url(#nz)"/>
<g clip-path="url(#mc)">
</g>
<ellipse cx="-3.56" cy="17.67" rx="1.7" ry="1.6" fill="url(#bspot)" />
<ellipse cx="3.7" cy="18.78" rx="1.7" ry="1.6" fill="url(#bspot)" />
</g>
<g transform="translate(187.3,238.4) scale(0.99,0.99)">
<use href="#mt"/>
<use href="#mp" fill="url(#mg)"/><use href="#mp" fill="url(#nz)"/>
<g clip-path="url(#mc)">
</g>
<ellipse cx="-3.33" cy="17.65" rx="1.7" ry="1.6" fill="url(#bspot)" />
<ellipse cx="3.3" cy="18.4" rx="1.7" ry="1.6" fill="url(#bspot)" />
</g>
<g transform="translate(196.89,238.4) scale(0.99,0.99)">
<use href="#mt"/>
<use href="#mp" fill="url(#mg)"/><use href="#mp" fill="url(#nz)"/>
<g clip-path="url(#mc)">
</g>
<ellipse cx="-3.13" cy="18.19" rx="1.7" ry="1.6" fill="url(#bspot)" />
<ellipse cx="3.19" cy="18.91" rx="1.7" ry="1.6" fill="url(#bspot)" />
</g>
<g transform="translate(207.1,238.4) scale(0.99,0.99)">
<use href="#mt"/>
<use href="#mp" fill="url(#mg)"/><use href="#mp" fill="url(#nz)"/>
<g clip-path="url(#mc)">
</g>
<ellipse cx="-3.14" cy="18.33" rx="1.7" ry="1.6" fill="url(#bspot)" />
<ellipse cx="3.43" cy="18.15" rx="1.7" ry="1.6" fill="url(#bspot)" />
</g>
<g transform="translate(217.59,238.4) scale(0.99,0.99)">
<use href="#mt"/>
<use href="#mp" fill="url(#mg)"/><use href="#mp" fill="url(#nz)"/>
<g clip-path="url(#mc)">
</g>
<ellipse cx="-3.59" cy="17.66" rx="1.7" ry="1.6" fill="url(#bspot)" />
<ellipse cx="3.62" cy="17.98" rx="1.7" ry="1.6" fill="url(#bspot)" />
</g>
<g transform="translate(228.02,238.4) scale(0.99,0.99)">
<use href="#mt"/>
<use href="#mp" fill="url(#mg)"/><use href="#mp" fill="url(#nz)"/>
<g clip-path="url(#mc)">
</g>
<ellipse cx="-3.57" cy="19.15" rx="1.7" ry="1.6" fill="url(#bspot)" />
<ellipse cx="3.64" cy="18.81" rx="1.7" ry="1.6" fill="url(#bspot)" />
</g>
<g transform="translate(238.21,238.4) scale(0.99,0.99)">
<use href="#mt"/>
<use href="#mp" fill="url(#mg)"/><use href="#mp" fill="url(#nz)"/>
<g clip-path="url(#mc)">
</g>
<ellipse cx="-3.35" cy="18.77" rx="1.7" ry="1.6" fill="url(#bspot)" />
<ellipse cx="3.17" cy="18.36" rx="1.7" ry="1.6" fill="url(#bspot)" />
</g>
<rect x="139.7" y="267.9" width="20.82" height="26.1" fill="#161616" />
<rect x="170.93" y="267.9" width="72.87" height="26.1" fill="#161616" />
<g transform="translate(145.27,268.7) scale(1,1)">
<use href="#mt"/>
<use href="#mp" fill="url(#mg)"/><use href="#mp" fill="url(#nz)"/>
<g clip-path="url(#mc)">
<use href="#mp" fill="#2c3cd4"/>
<ellipse cx="-1.24" cy="12.2" rx="1.35" ry="2.01" fill="#e6e6ee" opacity="0.92"/>
<ellipse cx="1.15" cy="16.18" rx="1.69" ry="1.2" fill="#e6e6ee" opacity="0.92"/>
<ellipse cx="-1.11" cy="3.74" rx="1.88" ry="1.33" fill="#e6e6ee" opacity="0.92"/>
<ellipse cx="0.25" cy="14" rx="1.33" ry="2.25" fill="#e6e6ee" opacity="0.92"/>
<ellipse cx="0.37" cy="3.32" rx="1.16" ry="1.65" fill="#e6e6ee" opacity="0.92"/>
<ellipse cx="-1.6" cy="5.34" rx="0.81" ry="1.06" fill="#3440d0" />
<ellipse cx="-1.6" cy="5.34" rx="0.7" ry="0.92" fill="#2ea8f0" />
<ellipse cx="2.42" cy="15.4" rx="0.62" ry="0.86" fill="#3440d0" />
<ellipse cx="2.42" cy="15.4" rx="0.54" ry="0.74" fill="#2ea8f0" />
<ellipse cx="-0.83" cy="6.21" rx="0.76" ry="1.15" fill="#3440d0" />
<ellipse cx="-0.83" cy="6.21" rx="0.65" ry="0.99" fill="#2ea8f0" />
<ellipse cx="1.63" cy="20.82" rx="1.51" ry="1.14" fill="#3440d0" />
<ellipse cx="1.63" cy="20.82" rx="1.3" ry="0.98" fill="#2ea8f0" />
<ellipse cx="1.63" cy="20.82" rx="1.12" ry="0.84" fill="#48d8d0" />
<ellipse cx="1.63" cy="20.82" rx="0.95" ry="0.72" fill="#78d848" />
<ellipse cx="0.74" cy="17.74" rx="1.23" ry="1.27" fill="#3440d0" />
<ellipse cx="0.74" cy="17.74" rx="1.06" ry="1.09" fill="#2ea8f0" />
<ellipse cx="0.74" cy="17.74" rx="0.91" ry="0.94" fill="#48d8d0" />
</g>
<ellipse cx="-3.45" cy="18" rx="1.7" ry="1.6" fill="url(#bspot)" />
<ellipse cx="3.27" cy="19.01" rx="1.7" ry="1.6" fill="url(#bspot)" />
</g>
<g transform="translate(155.23,268.7) scale(1,1)">
<use href="#mt"/>
<use href="#mp" fill="url(#mg)"/><use href="#mp" fill="url(#nz)"/>
<g clip-path="url(#mc)">
<use href="#mp" fill="#2c3cd4"/>
<ellipse cx="-0.92" cy="8.61" rx="1.48" ry="1.49" fill="#e6e6ee" opacity="0.92"/>
<ellipse cx="0.46" cy="11.15" rx="1.33" ry="1.98" fill="#e6e6ee" opacity="0.92"/>
<ellipse cx="0.14" cy="4.32" rx="1.9" ry="1.56" fill="#e6e6ee" opacity="0.92"/>
<ellipse cx="-0.33" cy="9.04" rx="1.83" ry="2.34" fill="#e6e6ee" opacity="0.92"/>
<ellipse cx="0.06" cy="9.01" rx="1" ry="2.26" fill="#e6e6ee" opacity="0.92"/>
<ellipse cx="-1.64" cy="10.56" rx="0.74" ry="0.86" fill="#3440d0" />
<ellipse cx="-1.64" cy="10.56" rx="0.64" ry="0.74" fill="#2ea8f0" />
<ellipse cx="-0.71" cy="6.3" rx="0.61" ry="0.97" fill="#3440d0" />
<ellipse cx="-0.71" cy="6.3" rx="0.53" ry="0.83" fill="#2ea8f0" />
<ellipse cx="1.48" cy="11.76" rx="0.68" ry="1.05" fill="#3440d0" />
<ellipse cx="1.48" cy="11.76" rx="0.59" ry="0.9" fill="#2ea8f0" />
<ellipse cx="-1.97" cy="18.64" rx="1.7" ry="1.46" fill="#3440d0" />
<ellipse cx="-1.97" cy="18.64" rx="1.46" ry="1.26" fill="#2ea8f0" />
<ellipse cx="-1.97" cy="18.64" rx="1.26" ry="1.08" fill="#48d8d0" />
<ellipse cx="-1.97" cy="18.64" rx="1.07" ry="0.92" fill="#78d848" />
<ellipse cx="-2.01" cy="17.48" rx="1.62" ry="1.07" fill="#3440d0" />
<ellipse cx="-2.01" cy="17.48" rx="1.4" ry="0.92" fill="#2ea8f0" />
<ellipse cx="-2.01" cy="17.48" rx="1.2" ry="0.79" fill="#48d8d0" />
<ellipse cx="-2.01" cy="17.48" rx="1.02" ry="0.67" fill="#78d848" />
</g>
<ellipse cx="-3.11" cy="18.79" rx="1.7" ry="1.6" fill="url(#bspot)" />
<ellipse cx="3.38" cy="18.76" rx="1.7" ry="1.6" fill="url(#bspot)" />
</g>
<rect x="160.77" y="268.4" width="9.91" height="25.1" fill="#fff" stroke="#5a5a5a" stroke-width="1.1" rx="1"/>
<text x="165.72" y="286.05" font-size="14.2" fill="#000" text-anchor="middle" textLength="7.4" lengthAdjust="spacingAndGlyphs" stroke="#000" stroke-width="0.15">X</text>
<g transform="translate(176.25,268.7) scale(1,1)">
<use href="#mt"/>
<use href="#mp" fill="url(#mg)"/><use href="#mp" fill="url(#nz)"/>
<g clip-path="url(#mc)">
<use href="#mp" fill="#2c3cd4"/>
<ellipse cx="2.18" cy="4.66" rx="1.71" ry="1.44" fill="#e6e6ee" opacity="0.92"/>
<ellipse cx="-1.83" cy="5.8" rx="1.25" ry="1.18" fill="#e6e6ee" opacity="0.92"/>
<ellipse cx="-1.93" cy="12.44" rx="1.5" ry="2.01" fill="#e6e6ee" opacity="0.92"/>
<ellipse cx="-1.55" cy="4.15" rx="1.09" ry="1.98" fill="#e6e6ee" opacity="0.92"/>
<ellipse cx="2.37" cy="11.02" rx="1.39" ry="1.19" fill="#e6e6ee" opacity="0.92"/>
<ellipse cx="-2.29" cy="14.29" rx="1.48" ry="1.9" fill="#e6e6ee" opacity="0.92"/>
<ellipse cx="-0.49" cy="5.41" rx="0.96" ry="0.96" fill="#3440d0" />
<ellipse cx="-0.49" cy="5.41" rx="0.83" ry="0.83" fill="#2ea8f0" />
<ellipse cx="-1.6" cy="6.85" rx="0.94" ry="1.01" fill="#3440d0" />
<ellipse cx="-1.6" cy="6.85" rx="0.81" ry="0.87" fill="#2ea8f0" />
<ellipse cx="-1.47" cy="13.04" rx="0.85" ry="0.72" fill="#3440d0" />
<ellipse cx="-1.47" cy="13.04" rx="0.73" ry="0.62" fill="#2ea8f0" />
<ellipse cx="0.83" cy="18.68" rx="1.35" ry="1.44" fill="#3440d0" />
<ellipse cx="0.83" cy="18.68" rx="1.16" ry="1.24" fill="#2ea8f0" />
<ellipse cx="0.83" cy="18.68" rx="1" ry="1.07" fill="#48d8d0" />
<ellipse cx="-1.03" cy="17.26" rx="1.6" ry="1.08" fill="#3440d0" />
<ellipse cx="-1.03" cy="17.26" rx="1.38" ry="0.93" fill="#2ea8f0" />
<ellipse cx="-1.03" cy="17.26" rx="1.18" ry="0.8" fill="#48d8d0" />
<ellipse cx="-1.03" cy="17.26" rx="1.01" ry="0.68" fill="#78d848" />
<ellipse cx="-1.03" cy="17.26" rx="0.85" ry="0.57" fill="#f2e82a" />
<ellipse cx="-1.03" cy="17.26" rx="0.72" ry="0.49" fill="#f08020" />
<ellipse cx="-1.03" cy="17.26" rx="0.61" ry="0.41" fill="#e82a14" />
</g>
<ellipse cx="-3.51" cy="17.65" rx="1.7" ry="1.6" fill="url(#bspot)" />
<ellipse cx="3.2" cy="18.05" rx="1.7" ry="1.6" fill="url(#bspot)" />
</g>
<g transform="translate(186.82,268.7) scale(1,1)">
<use href="#mt"/>
<use href="#mp" fill="url(#mg)"/><use href="#mp" fill="url(#nz)"/>
<g clip-path="url(#mc)">
<use href="#mp" fill="#2c3cd4"/>
<ellipse cx="-2.26" cy="14.49" rx="0.9" ry="1.92" fill="#e6e6ee" opacity="0.92"/>
<ellipse cx="2.33" cy="15.7" rx="1.13" ry="1.79" fill="#e6e6ee" opacity="0.92"/>
<ellipse cx="-1.73" cy="8.13" rx="1.76" ry="2.16" fill="#e6e6ee" opacity="0.92"/>
<ellipse cx="-2.36" cy="8.7" rx="1.54" ry="1.33" fill="#e6e6ee" opacity="0.92"/>
<ellipse cx="1.45" cy="16.4" rx="1.45" ry="1.57" fill="#e6e6ee" opacity="0.92"/>
<ellipse cx="1.67" cy="10.69" rx="1.09" ry="1.46" fill="#e6e6ee" opacity="0.92"/>
<ellipse cx="-1.64" cy="15.58" rx="1.41" ry="2.01" fill="#e6e6ee" opacity="0.92"/>
<ellipse cx="1.59" cy="15.69" rx="0.68" ry="0.9" fill="#3440d0" />
<ellipse cx="1.59" cy="15.69" rx="0.58" ry="0.78" fill="#2ea8f0" />
<ellipse cx="1.87" cy="13.14" rx="0.75" ry="1.03" fill="#3440d0" />
<ellipse cx="1.87" cy="13.14" rx="0.65" ry="0.88" fill="#2ea8f0" />
<ellipse cx="-1.53" cy="5.94" rx="0.62" ry="0.89" fill="#3440d0" />
<ellipse cx="-1.53" cy="5.94" rx="0.53" ry="0.77" fill="#2ea8f0" />
<ellipse cx="-1.16" cy="19.07" rx="1.78" ry="1.08" fill="#3440d0" />
<ellipse cx="-1.16" cy="19.07" rx="1.53" ry="0.93" fill="#2ea8f0" />
<ellipse cx="-1.16" cy="19.07" rx="1.32" ry="0.8" fill="#48d8d0" />
<ellipse cx="-1.16" cy="19.07" rx="1.12" ry="0.68" fill="#78d848" />
<ellipse cx="-1.16" cy="19.07" rx="0.94" ry="0.57" fill="#f2e82a" />
<ellipse cx="-1.16" cy="19.07" rx="0.8" ry="0.48" fill="#f08020" />
<ellipse cx="-1.16" cy="19.07" rx="0.68" ry="0.41" fill="#e82a14" />
<ellipse cx="-0.61" cy="20.81" rx="1.2" ry="1.16" fill="#3440d0" />
<ellipse cx="-0.61" cy="20.81" rx="1.03" ry="1" fill="#2ea8f0" />
<ellipse cx="-0.61" cy="20.81" rx="0.89" ry="0.86" fill="#48d8d0" />
</g>
<ellipse cx="-3.63" cy="18.41" rx="1.7" ry="1.6" fill="url(#bspot)" />
<ellipse cx="3.13" cy="18.61" rx="1.7" ry="1.6" fill="url(#bspot)" />
</g>
<g transform="translate(196.61,268.7) scale(1,1)">
<use href="#mt"/>
<use href="#mp" fill="url(#mg)"/><use href="#mp" fill="url(#nz)"/>
<g clip-path="url(#mc)">
<use href="#mp" fill="#2c3cd4"/>
<ellipse cx="-2.08" cy="5.68" rx="1.4" ry="2.32" fill="#e6e6ee" opacity="0.92"/>
<ellipse cx="1.96" cy="9.18" rx="1.52" ry="2.06" fill="#e6e6ee" opacity="0.92"/>
<ellipse cx="-0.8" cy="17.56" rx="1.84" ry="2.05" fill="#e6e6ee" opacity="0.92"/>
<ellipse cx="1.93" cy="15.01" rx="1.55" ry="1.52" fill="#e6e6ee" opacity="0.92"/>
<ellipse cx="-1.05" cy="6.58" rx="0.96" ry="2.3" fill="#e6e6ee" opacity="0.92"/>
<ellipse cx="-0.97" cy="3.36" rx="1.22" ry="1.23" fill="#e6e6ee" opacity="0.92"/>
<ellipse cx="-0.26" cy="7.98" rx="1.08" ry="1.72" fill="#e6e6ee" opacity="0.92"/>
<ellipse cx="-0.43" cy="8.25" rx="0.93" ry="0.85" fill="#3440d0" />
<ellipse cx="-0.43" cy="8.25" rx="0.8" ry="0.73" fill="#2ea8f0" />
<ellipse cx="0.21" cy="14.54" rx="0.98" ry="0.89" fill="#3440d0" />
<ellipse cx="0.21" cy="14.54" rx="0.85" ry="0.76" fill="#2ea8f0" />
<ellipse cx="-2.3" cy="15.41" rx="0.81" ry="0.81" fill="#3440d0" />
<ellipse cx="-2.3" cy="15.41" rx="0.69" ry="0.7" fill="#2ea8f0" />
<ellipse cx="-1.64" cy="17.96" rx="1.39" ry="1.07" fill="#3440d0" />
<ellipse cx="-1.64" cy="17.96" rx="1.19" ry="0.92" fill="#2ea8f0" />
<ellipse cx="-1.64" cy="17.96" rx="1.03" ry="0.79" fill="#48d8d0" />
<ellipse cx="-1.07" cy="17.98" rx="1.29" ry="1.28" fill="#3440d0" />
<ellipse cx="-1.07" cy="17.98" rx="1.11" ry="1.1" fill="#2ea8f0" />
<ellipse cx="-1.07" cy="17.98" rx="0.96" ry="0.95" fill="#48d8d0" />
<ellipse cx="-1.07" cy="17.98" rx="0.81" ry="0.81" fill="#78d848" />
</g>
<ellipse cx="-3.22" cy="18.41" rx="1.7" ry="1.6" fill="url(#bspot)" />
<ellipse cx="3.14" cy="18.14" rx="1.7" ry="1.6" fill="url(#bspot)" />
</g>
<g transform="translate(207.27,268.7) scale(1,1)">
<use href="#mt"/>
<use href="#mp" fill="url(#mg)"/><use href="#mp" fill="url(#nz)"/>
<g clip-path="url(#mc)">
<use href="#mp" fill="#2c3cd4"/>
<ellipse cx="0.4" cy="9.88" rx="1.53" ry="1.16" fill="#e6e6ee" opacity="0.92"/>
<ellipse cx="0.89" cy="15.12" rx="1.57" ry="1.57" fill="#e6e6ee" opacity="0.92"/>
<ellipse cx="-1.03" cy="3.15" rx="0.98" ry="1.3" fill="#e6e6ee" opacity="0.92"/>
<ellipse cx="-0.22" cy="14.67" rx="1.12" ry="1.71" fill="#e6e6ee" opacity="0.92"/>
<ellipse cx="0.65" cy="12.44" rx="0.92" ry="2.3" fill="#e6e6ee" opacity="0.92"/>
<ellipse cx="0.41" cy="7.55" rx="1.14" ry="2" fill="#e6e6ee" opacity="0.92"/>
<ellipse cx="2.08" cy="8.06" rx="1.3" ry="1.82" fill="#e6e6ee" opacity="0.92"/>
<ellipse cx="-1.63" cy="8.87" rx="0.97" ry="0.98" fill="#3440d0" />
<ellipse cx="-1.63" cy="8.87" rx="0.83" ry="0.84" fill="#2ea8f0" />
<ellipse cx="1.62" cy="7.14" rx="0.95" ry="1.09" fill="#3440d0" />
<ellipse cx="1.62" cy="7.14" rx="0.81" ry="0.94" fill="#2ea8f0" />
<ellipse cx="-1.37" cy="10.36" rx="0.87" ry="0.99" fill="#3440d0" />
<ellipse cx="-1.37" cy="10.36" rx="0.75" ry="0.85" fill="#2ea8f0" />
<ellipse cx="0.45" cy="17.96" rx="1.53" ry="1.18" fill="#3440d0" />
<ellipse cx="0.45" cy="17.96" rx="1.32" ry="1.01" fill="#2ea8f0" />
<ellipse cx="0.45" cy="17.96" rx="1.13" ry="0.87" fill="#48d8d0" />
<ellipse cx="0.45" cy="17.96" rx="0.97" ry="0.74" fill="#78d848" />
<ellipse cx="2.12" cy="17.49" rx="1.65" ry="1.17" fill="#3440d0" />
<ellipse cx="2.12" cy="17.49" rx="1.42" ry="1.01" fill="#2ea8f0" />
<ellipse cx="2.12" cy="17.49" rx="1.22" ry="0.87" fill="#48d8d0" />
<ellipse cx="2.12" cy="17.49" rx="1.04" ry="0.74" fill="#78d848" />
</g>
<ellipse cx="-3.62" cy="18.78" rx="1.7" ry="1.6" fill="url(#bspot)" />
<ellipse cx="3.13" cy="18.57" rx="1.7" ry="1.6" fill="url(#bspot)" />
</g>
<g transform="translate(217.62,268.7) scale(1,1)">
<use href="#mt"/>
<use href="#mp" fill="url(#mg)"/><use href="#mp" fill="url(#nz)"/>
<g clip-path="url(#mc)">
<ellipse cx="-1.79" cy="14.89" rx="1.67" ry="1.41" fill="#3440d0" />
<ellipse cx="-1.91" cy="12.08" rx="1.69" ry="1.21" fill="#3440d0" />
</g>
<ellipse cx="-3.21" cy="17.85" rx="1.7" ry="1.6" fill="url(#bspot)" />
<ellipse cx="3.4" cy="17.86" rx="1.7" ry="1.6" fill="url(#bspot)" />
</g>
<g transform="translate(227.87,268.7) scale(1,1)">
<use href="#mt"/>
<use href="#mp" fill="url(#mg)"/><use href="#mp" fill="url(#nz)"/>
<g clip-path="url(#mc)">
<use href="#mp" fill="#2c3cd4"/>
<ellipse cx="-1.82" cy="5.55" rx="1.61" ry="2" fill="#e6e6ee" opacity="0.92"/>
<ellipse cx="0.81" cy="13.29" rx="1.44" ry="1.52" fill="#e6e6ee" opacity="0.92"/>
<ellipse cx="1.36" cy="7.83" rx="1.75" ry="2.07" fill="#e6e6ee" opacity="0.92"/>
<ellipse cx="0.66" cy="12.21" rx="1.26" ry="1.11" fill="#e6e6ee" opacity="0.92"/>
<ellipse cx="0.14" cy="17.47" rx="1.31" ry="2.34" fill="#e6e6ee" opacity="0.92"/>
<ellipse cx="2.17" cy="14.5" rx="0.99" ry="2.21" fill="#e6e6ee" opacity="0.92"/>
<ellipse cx="2.35" cy="7.17" rx="0.83" ry="1.01" fill="#3440d0" />
<ellipse cx="2.35" cy="7.17" rx="0.71" ry="0.87" fill="#2ea8f0" />
<ellipse cx="-1.13" cy="12.7" rx="0.73" ry="0.9" fill="#3440d0" />
<ellipse cx="-1.13" cy="12.7" rx="0.63" ry="0.77" fill="#2ea8f0" />
<ellipse cx="-2.02" cy="4.36" rx="0.74" ry="0.74" fill="#3440d0" />
<ellipse cx="-2.02" cy="4.36" rx="0.64" ry="0.63" fill="#2ea8f0" />
<ellipse cx="-0.25" cy="20.26" rx="1.21" ry="1.33" fill="#3440d0" />
<ellipse cx="-0.25" cy="20.26" rx="1.04" ry="1.14" fill="#2ea8f0" />
<ellipse cx="-0.25" cy="20.26" rx="0.89" ry="0.98" fill="#48d8d0" />
<ellipse cx="-0.25" cy="20.26" rx="0.76" ry="0.84" fill="#78d848" />
<ellipse cx="-1.88" cy="19.48" rx="1.71" ry="1.19" fill="#3440d0" />
<ellipse cx="-1.88" cy="19.48" rx="1.47" ry="1.03" fill="#2ea8f0" />
<ellipse cx="-1.88" cy="19.48" rx="1.27" ry="0.88" fill="#48d8d0" />
<ellipse cx="-1.88" cy="19.48" rx="1.08" ry="0.75" fill="#78d848" />
</g>
<ellipse cx="-3.63" cy="18.5" rx="1.7" ry="1.6" fill="url(#bspot)" />
<ellipse cx="3.64" cy="19.09" rx="1.7" ry="1.6" fill="url(#bspot)" />
</g>
<g transform="translate(238.99,268.7) scale(1,1)">
<use href="#mt"/>
<use href="#mp" fill="url(#mg)"/><use href="#mp" fill="url(#nz)"/>
<g clip-path="url(#mc)">
<use href="#mp" fill="#2c3cd4"/>
<ellipse cx="-2.2" cy="15.25" rx="1.22" ry="2.18" fill="#e6e6ee" opacity="0.92"/>
<ellipse cx="-0.22" cy="5.48" rx="0.92" ry="1.25" fill="#e6e6ee" opacity="0.92"/>
<ellipse cx="-1.15" cy="14.36" rx="1.69" ry="1.92" fill="#e6e6ee" opacity="0.92"/>
<ellipse cx="-0.93" cy="12.96" rx="1.63" ry="1.58" fill="#e6e6ee" opacity="0.92"/>
<ellipse cx="-2.01" cy="10.03" rx="1.12" ry="1.35" fill="#e6e6ee" opacity="0.92"/>
<ellipse cx="-0.55" cy="4.9" rx="0.96" ry="0.84" fill="#3440d0" />
<ellipse cx="-0.55" cy="4.9" rx="0.82" ry="0.72" fill="#2ea8f0" />
<ellipse cx="1.99" cy="12.85" rx="0.6" ry="1.15" fill="#3440d0" />
<ellipse cx="1.99" cy="12.85" rx="0.52" ry="0.99" fill="#2ea8f0" />
<ellipse cx="1.55" cy="10.3" rx="0.95" ry="0.94" fill="#3440d0" />
<ellipse cx="1.55" cy="10.3" rx="0.82" ry="0.81" fill="#2ea8f0" />
<ellipse cx="-2.09" cy="17.6" rx="1.39" ry="1.43" fill="#3440d0" />
<ellipse cx="-2.09" cy="17.6" rx="1.19" ry="1.23" fill="#2ea8f0" />
<ellipse cx="-2.09" cy="17.6" rx="1.03" ry="1.06" fill="#48d8d0" />
<ellipse cx="-2.09" cy="17.6" rx="0.87" ry="0.9" fill="#78d848" />
<ellipse cx="-1.68" cy="18.4" rx="1.27" ry="1.11" fill="#3440d0" />
<ellipse cx="-1.68" cy="18.4" rx="1.09" ry="0.96" fill="#2ea8f0" />
<ellipse cx="-1.68" cy="18.4" rx="0.94" ry="0.82" fill="#48d8d0" />
<ellipse cx="-1.68" cy="18.4" rx="0.8" ry="0.7" fill="#78d848" />
</g>
<ellipse cx="-3.12" cy="17.87" rx="1.7" ry="1.6" fill="url(#bspot)" />
<ellipse cx="3.26" cy="19.06" rx="1.7" ry="1.6" fill="url(#bspot)" />
</g>
<rect x="150.23" y="297.4" width="10.53" height="27.6" fill="#161616" />
<rect x="181.82" y="297.4" width="10.53" height="27.6" fill="#161616" />
<rect x="202.88" y="297.4" width="10.53" height="27.6" fill="#161616" />
<rect x="139.95" y="297.9" width="10.03" height="26.6" fill="#fff" stroke="#5a5a5a" stroke-width="1.1" rx="1"/>
<text x="144.96" y="316.3" font-size="14.2" fill="#000" text-anchor="middle" textLength="7.4" lengthAdjust="spacingAndGlyphs" stroke="#000" stroke-width="0.15">X</text>
<g transform="translate(155.83,298.2) scale(1.04,1.06)">
<use href="#mt"/>
<use href="#mp" fill="#2a3ad8"/>
<g clip-path="url(#mc)">
<g filter="url(#bl)">
<ellipse cx="2.04" cy="5.42" rx="2.39" ry="2.91" fill="#3440d0" />
<ellipse cx="2.04" cy="5.42" rx="2.06" ry="2.5" fill="#2ea8f0" />
<ellipse cx="2.04" cy="5.42" rx="1.77" ry="2.15" fill="#48d8d0" />
<ellipse cx="2.04" cy="5.42" rx="1.51" ry="1.83" fill="#78d848" />
<ellipse cx="-1.92" cy="7.26" rx="2.24" ry="2.67" fill="#3440d0" />
<ellipse cx="-1.92" cy="7.26" rx="1.93" ry="2.29" fill="#2ea8f0" />
<ellipse cx="-1.92" cy="7.26" rx="1.66" ry="1.97" fill="#48d8d0" />
<ellipse cx="-1.92" cy="7.26" rx="1.41" ry="1.68" fill="#78d848" />
<ellipse cx="2.09" cy="5.8" rx="2.78" ry="3" fill="#3440d0" />
<ellipse cx="2.09" cy="5.8" rx="2.39" ry="2.58" fill="#2ea8f0" />
<ellipse cx="0.07" cy="16.48" rx="2.16" ry="2.47" fill="#3440d0" />
<ellipse cx="0.07" cy="16.48" rx="1.86" ry="2.12" fill="#2ea8f0" />
<ellipse cx="0.36" cy="14.87" rx="2.85" ry="3.88" fill="#48d8d0" />
<ellipse cx="0.36" cy="14.87" rx="2.37" ry="3.32" fill="#78d848" />
<ellipse cx="0.36" cy="14.87" rx="1.9" ry="2.77" fill="#e82a14" />
<ellipse cx="-0.55" cy="16.4" rx="2.54" ry="3.32" fill="#48d8d0" />
<ellipse cx="-0.55" cy="16.4" rx="2.12" ry="2.85" fill="#78d848" />
<ellipse cx="-0.55" cy="16.4" rx="1.69" ry="2.37" fill="#e82a14" />
</g>
</g>
</g>
<rect x="161.01" y="297.9" width="10.03" height="26.6" fill="#fff" stroke="#5a5a5a" stroke-width="1.1" rx="1"/>
<text x="166.02" y="316.3" font-size="14.2" fill="#000" text-anchor="middle" textLength="7.4" lengthAdjust="spacingAndGlyphs" stroke="#000" stroke-width="0.15">X</text>
<rect x="171.54" y="297.9" width="10.03" height="26.6" fill="#fff" stroke="#5a5a5a" stroke-width="1.1" rx="1"/>
<text x="176.56" y="316.3" font-size="14.2" fill="#000" text-anchor="middle" textLength="7.4" lengthAdjust="spacingAndGlyphs" stroke="#000" stroke-width="0.15">X</text>
<g transform="translate(187.21,298.2) scale(1.04,1.06)">
<use href="#mt"/>
<use href="#mp" fill="#2a3ad8"/>
<g clip-path="url(#mc)">
<g filter="url(#bl)">
<ellipse cx="-1.49" cy="11.69" rx="1.37" ry="1.91" fill="#e8e8f0" />
<ellipse cx="-0.19" cy="13.71" rx="0.95" ry="1.41" fill="#e8e8f0" />
<ellipse cx="-0.64" cy="15.79" rx="0.96" ry="1.34" fill="#e8e8f0" />
<ellipse cx="-2.09" cy="4.66" rx="2.08" ry="3.09" fill="#3440d0" />
<ellipse cx="-2.09" cy="4.66" rx="1.78" ry="2.66" fill="#2ea8f0" />
<ellipse cx="-2.09" cy="4.66" rx="1.54" ry="2.28" fill="#48d8d0" />
<ellipse cx="-2.09" cy="4.66" rx="1.31" ry="1.95" fill="#78d848" />
<ellipse cx="-2.03" cy="19.3" rx="2.34" ry="3.47" fill="#3440d0" />
<ellipse cx="-2.03" cy="19.3" rx="2.01" ry="2.99" fill="#2ea8f0" />
<ellipse cx="-2.03" cy="19.3" rx="1.73" ry="2.57" fill="#48d8d0" />
<ellipse cx="-2.03" cy="19.3" rx="1.48" ry="2.19" fill="#78d848" />
<ellipse cx="0.25" cy="8.39" rx="1.91" ry="3.34" fill="#3440d0" />
<ellipse cx="0.25" cy="8.39" rx="1.64" ry="2.87" fill="#2ea8f0" />
<ellipse cx="0.25" cy="8.39" rx="1.41" ry="2.47" fill="#48d8d0" />
<ellipse cx="0.25" cy="8.39" rx="1.2" ry="2.1" fill="#78d848" />
<ellipse cx="-1.36" cy="13.27" rx="2.72" ry="3.11" fill="#3440d0" />
<ellipse cx="-1.36" cy="13.27" rx="2.34" ry="2.68" fill="#2ea8f0" />
<ellipse cx="-1.36" cy="13.27" rx="2.01" ry="2.3" fill="#48d8d0" />
<ellipse cx="-1.36" cy="13.27" rx="1.71" ry="1.96" fill="#78d848" />
<ellipse cx="-1.33" cy="19.63" rx="2.17" ry="3.1" fill="#48d8d0" />
<ellipse cx="-1.33" cy="19.63" rx="1.81" ry="2.66" fill="#78d848" />
<ellipse cx="-1.33" cy="19.63" rx="1.44" ry="2.22" fill="#e82a14" />
<ellipse cx="-1.91" cy="17.14" rx="2.92" ry="3.88" fill="#48d8d0" />
<ellipse cx="-1.91" cy="17.14" rx="2.44" ry="3.33" fill="#78d848" />
<ellipse cx="-1.91" cy="17.14" rx="1.95" ry="2.77" fill="#e82a14" />
</g>
</g>
</g>
<rect x="192.6" y="297.9" width="10.03" height="26.6" fill="#fff" stroke="#5a5a5a" stroke-width="1.1" rx="1"/>
<text x="197.62" y="316.3" font-size="14.2" fill="#000" text-anchor="middle" textLength="7.4" lengthAdjust="spacingAndGlyphs" stroke="#000" stroke-width="0.15">X</text>
<g transform="translate(208.39,298.2) scale(1.04,1.06)">
<use href="#mt"/>
<use href="#mp" fill="#2a3ad8"/>
<g clip-path="url(#mc)">
<g filter="url(#bl)">
<ellipse cx="0.2" cy="20.8" rx="2.55" ry="2.82" fill="#3440d0" />
<ellipse cx="0.2" cy="20.8" rx="2.19" ry="2.42" fill="#2ea8f0" />
<ellipse cx="0.2" cy="20.8" rx="1.89" ry="2.08" fill="#48d8d0" />
<ellipse cx="0.2" cy="20.8" rx="1.61" ry="1.77" fill="#78d848" />
<ellipse cx="-0.05" cy="4.63" rx="2.06" ry="3.06" fill="#3440d0" />
<ellipse cx="-0.05" cy="4.63" rx="1.78" ry="2.63" fill="#2ea8f0" />
<ellipse cx="-0.05" cy="4.63" rx="1.53" ry="2.26" fill="#48d8d0" />
<ellipse cx="-0.05" cy="4.63" rx="1.3" ry="1.93" fill="#78d848" />
<ellipse cx="2.34" cy="7.67" rx="1.9" ry="3.03" fill="#3440d0" />
<ellipse cx="2.34" cy="7.67" rx="1.64" ry="2.61" fill="#2ea8f0" />
<ellipse cx="2.34" cy="7.67" rx="1.41" ry="2.25" fill="#48d8d0" />
<ellipse cx="0.99" cy="13.49" rx="2.04" ry="2.52" fill="#3440d0" />
<ellipse cx="0.99" cy="13.49" rx="1.75" ry="2.17" fill="#2ea8f0" />
<ellipse cx="0.99" cy="13.49" rx="1.51" ry="1.86" fill="#48d8d0" />
<ellipse cx="1.6" cy="11.67" rx="2.51" ry="3.77" fill="#48d8d0" />
<ellipse cx="1.6" cy="11.67" rx="2.09" ry="3.23" fill="#78d848" />
<ellipse cx="1.6" cy="11.67" rx="1.67" ry="2.69" fill="#e82a14" />
<ellipse cx="1.26" cy="18.43" rx="2.93" ry="3.1" fill="#48d8d0" />
<ellipse cx="1.26" cy="18.43" rx="2.44" ry="2.66" fill="#78d848" />
<ellipse cx="1.26" cy="18.43" rx="1.95" ry="2.21" fill="#e82a14" />
</g>
</g>
</g>
<rect x="213.66" y="297.9" width="10.03" height="26.6" fill="#fff" stroke="#5a5a5a" stroke-width="1.1" rx="1"/>
<text x="218.68" y="316.3" font-size="14.2" fill="#000" text-anchor="middle" textLength="7.4" lengthAdjust="spacingAndGlyphs" stroke="#000" stroke-width="0.15">X</text>
<rect x="224.19" y="297.9" width="10.03" height="26.6" fill="#fff" stroke="#5a5a5a" stroke-width="1.1" rx="1"/>
<text x="229.2" y="316.3" font-size="14.2" fill="#000" text-anchor="middle" textLength="7.4" lengthAdjust="spacingAndGlyphs" stroke="#000" stroke-width="0.15">X</text>
<rect x="234.72" y="297.9" width="10.03" height="26.6" fill="#fff" stroke="#5a5a5a" stroke-width="1.1" rx="1"/>
<text x="239.74" y="316.3" font-size="14.2" fill="#000" text-anchor="middle" textLength="7.4" lengthAdjust="spacingAndGlyphs" stroke="#000" stroke-width="0.15">X</text>
<rect x="249.2" y="238" width="102.8" height="26.1" fill="#161616" />
<g transform="translate(254.06,238.8) scale(1,1)">
<use href="#mt"/>
<use href="#mp" fill="url(#mg)"/><use href="#mp" fill="url(#nz)"/>
<g clip-path="url(#mc)">
</g>
<ellipse cx="-3.43" cy="18.83" rx="1.7" ry="1.6" fill="url(#bspot)" />
<ellipse cx="3.52" cy="18.77" rx="1.7" ry="1.6" fill="url(#bspot)" />
</g>
<g transform="translate(264.57,238.8) scale(1,1)">
<use href="#mt"/>
<use href="#mp" fill="url(#mg)"/><use href="#mp" fill="url(#nz)"/>
<g clip-path="url(#mc)">
</g>
<ellipse cx="-3.22" cy="18.45" rx="1.7" ry="1.6" fill="url(#bspot)" />
<ellipse cx="3.15" cy="18.33" rx="1.7" ry="1.6" fill="url(#bspot)" />
</g>
<g transform="translate(274.54,238.8) scale(1,1)">
<use href="#mt"/>
<use href="#mp" fill="url(#mg)"/><use href="#mp" fill="url(#nz)"/>
<g clip-path="url(#mc)">
</g>
<ellipse cx="-3.14" cy="19.12" rx="1.7" ry="1.6" fill="url(#bspot)" />
<ellipse cx="3.3" cy="18.1" rx="1.7" ry="1.6" fill="url(#bspot)" />
</g>
<g transform="translate(285.39,238.8) scale(1,1)">
<use href="#mt"/>
<use href="#mp" fill="url(#mg)"/><use href="#mp" fill="url(#nz)"/>
<g clip-path="url(#mc)">
</g>
<ellipse cx="-3.58" cy="17.89" rx="1.7" ry="1.6" fill="url(#bspot)" />
<ellipse cx="3.21" cy="18.16" rx="1.7" ry="1.6" fill="url(#bspot)" />
</g>
<g transform="translate(295.56,238.8) scale(1,1)">
<use href="#mt"/>
<use href="#mp" fill="url(#mg)"/><use href="#mp" fill="url(#nz)"/>
<g clip-path="url(#mc)">
</g>
<ellipse cx="-3.12" cy="17.94" rx="1.7" ry="1.6" fill="url(#bspot)" />
<ellipse cx="3.67" cy="18.49" rx="1.7" ry="1.6" fill="url(#bspot)" />
</g>
<g transform="translate(306.06,238.8) scale(1,1)">
<use href="#mt"/>
<use href="#mp" fill="url(#mg)"/><use href="#mp" fill="url(#nz)"/>
<g clip-path="url(#mc)">
</g>
<ellipse cx="-3.21" cy="17.86" rx="1.7" ry="1.6" fill="url(#bspot)" />
<ellipse cx="3.49" cy="17.8" rx="1.7" ry="1.6" fill="url(#bspot)" />
</g>
<g transform="translate(315.62,238.8) scale(1,1)">
<use href="#mt"/>
<use href="#mp" fill="url(#mg)"/><use href="#mp" fill="url(#nz)"/>
<g clip-path="url(#mc)">
</g>
<ellipse cx="-3.46" cy="18.84" rx="1.7" ry="1.6" fill="url(#bspot)" />
<ellipse cx="3.44" cy="17.91" rx="1.7" ry="1.6" fill="url(#bspot)" />
</g>
<g transform="translate(326.57,238.8) scale(1,1)">
<use href="#mt"/>
<use href="#mp" fill="url(#mg)"/><use href="#mp" fill="url(#nz)"/>
<g clip-path="url(#mc)">
</g>
<ellipse cx="-3.15" cy="17.98" rx="1.7" ry="1.6" fill="url(#bspot)" />
<ellipse cx="3.37" cy="18.62" rx="1.7" ry="1.6" fill="url(#bspot)" />
</g>
<g transform="translate(336.9,238.8) scale(1,1)">
<use href="#mt"/>
<use href="#mp" fill="url(#mg)"/><use href="#mp" fill="url(#nz)"/>
<g clip-path="url(#mc)">
</g>
<ellipse cx="-3.62" cy="18.49" rx="1.7" ry="1.6" fill="url(#bspot)" />
<ellipse cx="3.68" cy="18.57" rx="1.7" ry="1.6" fill="url(#bspot)" />
</g>
<g transform="translate(347.03,238.8) scale(1,1)">
<use href="#mt"/>
<use href="#mp" fill="url(#mg)"/><use href="#mp" fill="url(#nz)"/>
<g clip-path="url(#mc)">
</g>
<ellipse cx="-3.24" cy="18.41" rx="1.7" ry="1.6" fill="url(#bspot)" />
<ellipse cx="3.27" cy="18.54" rx="1.7" ry="1.6" fill="url(#bspot)" />
</g>
<rect x="358.2" y="238" width="104.6" height="26.1" fill="#161616" />
<g transform="translate(363.07,238.8) scale(1,1)">
<use href="#mt"/>
<use href="#mp" fill="url(#mg)"/><use href="#mp" fill="url(#nz)"/>
<g clip-path="url(#mc)">
</g>
<ellipse cx="-3.58" cy="18.73" rx="1.7" ry="1.6" fill="url(#bspot)" />
<ellipse cx="3.19" cy="18.98" rx="1.7" ry="1.6" fill="url(#bspot)" />
</g>
<g transform="translate(373.7,238.8) scale(1,1)">
<use href="#mt"/>
<use href="#mp" fill="url(#mg)"/><use href="#mp" fill="url(#nz)"/>
<g clip-path="url(#mc)">
</g>
<ellipse cx="-3.69" cy="18.3" rx="1.7" ry="1.6" fill="url(#bspot)" />
<ellipse cx="3.2" cy="17.63" rx="1.7" ry="1.6" fill="url(#bspot)" />
</g>
<g transform="translate(384.17,238.8) scale(1,1)">
<use href="#mt"/>
<use href="#mp" fill="url(#mg)"/><use href="#mp" fill="url(#nz)"/>
<g clip-path="url(#mc)">
</g>
<ellipse cx="-3.42" cy="17.91" rx="1.7" ry="1.6" fill="url(#bspot)" />
<ellipse cx="3.61" cy="18.08" rx="1.7" ry="1.6" fill="url(#bspot)" />
</g>
<g transform="translate(394.97,238.8) scale(1,1)">
<use href="#mt"/>
<use href="#mp" fill="url(#mg)"/><use href="#mp" fill="url(#nz)"/>
<g clip-path="url(#mc)">
</g>
<ellipse cx="-3.49" cy="17.76" rx="1.7" ry="1.6" fill="url(#bspot)" />
<ellipse cx="3.36" cy="18.7" rx="1.7" ry="1.6" fill="url(#bspot)" />
</g>
<g transform="translate(405.26,238.8) scale(1,1)">
<use href="#mt"/>
<use href="#mp" fill="url(#mg)"/><use href="#mp" fill="url(#nz)"/>
<g clip-path="url(#mc)">
</g>
<ellipse cx="-3.31" cy="17.79" rx="1.7" ry="1.6" fill="url(#bspot)" />
<ellipse cx="3.18" cy="17.81" rx="1.7" ry="1.6" fill="url(#bspot)" />
</g>
<g transform="translate(415.72,238.8) scale(1,1)">
<use href="#mt"/>
<use href="#mp" fill="url(#mg)"/><use href="#mp" fill="url(#nz)"/>
<g clip-path="url(#mc)">
</g>
<ellipse cx="-3.18" cy="18.21" rx="1.7" ry="1.6" fill="url(#bspot)" />
<ellipse cx="3.59" cy="17.78" rx="1.7" ry="1.6" fill="url(#bspot)" />
</g>
<g transform="translate(425.97,238.8) scale(1,1)">
<use href="#mt"/>
<use href="#mp" fill="url(#mg)"/><use href="#mp" fill="url(#nz)"/>
<g clip-path="url(#mc)">
</g>
<ellipse cx="-3.3" cy="18.86" rx="1.7" ry="1.6" fill="url(#bspot)" />
<ellipse cx="3.58" cy="17.83" rx="1.7" ry="1.6" fill="url(#bspot)" />
</g>
<g transform="translate(436.68,238.8) scale(1,1)">
<use href="#mt"/>
<use href="#mp" fill="url(#mg)"/><use href="#mp" fill="url(#nz)"/>
<g clip-path="url(#mc)">
</g>
<ellipse cx="-3.56" cy="18.8" rx="1.7" ry="1.6" fill="url(#bspot)" />
<ellipse cx="3.45" cy="18.7" rx="1.7" ry="1.6" fill="url(#bspot)" />
</g>
<g transform="translate(447.34,238.8) scale(1,1)">
<use href="#mt"/>
<use href="#mp" fill="url(#mg)"/><use href="#mp" fill="url(#nz)"/>
<g clip-path="url(#mc)">
</g>
<ellipse cx="-3.11" cy="18.35" rx="1.7" ry="1.6" fill="url(#bspot)" />
<ellipse cx="3.7" cy="18.06" rx="1.7" ry="1.6" fill="url(#bspot)" />
</g>
<g transform="translate(457.88,238.8) scale(1,1)">
<use href="#mt"/>
<use href="#mp" fill="url(#mg)"/><use href="#mp" fill="url(#nz)"/>
<g clip-path="url(#mc)">
</g>
<ellipse cx="-3.64" cy="18.75" rx="1.7" ry="1.6" fill="url(#bspot)" />
<ellipse cx="3.64" cy="18.49" rx="1.7" ry="1.6" fill="url(#bspot)" />
</g>
<rect x="249.2" y="268" width="102.8" height="25.9" fill="#161616" />
<g transform="translate(254.4,268.8) scale(0.99,0.99)">
<use href="#mt"/>
<use href="#mp" fill="url(#mg)"/><use href="#mp" fill="url(#nz)"/>
<g clip-path="url(#mc)">
<ellipse cx="1.96" cy="12.63" rx="1.39" ry="1.24" fill="#3440d0" />
<ellipse cx="1.96" cy="12.63" rx="1.19" ry="1.07" fill="#2ea8f0" />
<ellipse cx="1.96" cy="12.63" rx="1.03" ry="0.92" fill="#48d8d0" />
<ellipse cx="-1.37" cy="7.55" rx="1.33" ry="1.82" fill="#3440d0" />
<ellipse cx="-0.82" cy="11.01" rx="1.3" ry="1.34" fill="#3440d0" />
<ellipse cx="-0.82" cy="11.01" rx="1.12" ry="1.16" fill="#2ea8f0" />
</g>
<ellipse cx="-3.48" cy="18.35" rx="1.7" ry="1.6" fill="url(#bspot)" />
</g>
<g transform="translate(264.73,268.8) scale(0.99,0.99)">
<use href="#mt"/>
<use href="#mp" fill="url(#mg)"/><use href="#mp" fill="url(#nz)"/>
<g clip-path="url(#mc)">
<ellipse cx="-0.37" cy="5.01" rx="1.47" ry="1.39" fill="#3440d0" />
<ellipse cx="-0.37" cy="5.01" rx="1.27" ry="1.2" fill="#2ea8f0" />
<ellipse cx="-0.37" cy="5.01" rx="1.09" ry="1.03" fill="#48d8d0" />
<ellipse cx="0.86" cy="14.64" rx="1.81" ry="1.56" fill="#3440d0" />
<ellipse cx="0.86" cy="14.64" rx="1.55" ry="1.34" fill="#2ea8f0" />
<ellipse cx="-1.3" cy="5.23" rx="1.7" ry="1.58" fill="#3440d0" />
<ellipse cx="-1.3" cy="5.23" rx="1.46" ry="1.36" fill="#2ea8f0" />
<ellipse cx="-1.36" cy="5.52" rx="1.74" ry="1.53" fill="#3440d0" />
</g>
<ellipse cx="3.19" cy="17.66" rx="1.7" ry="1.6" fill="url(#bspot)" />
</g>
<g transform="translate(274.64,268.8) scale(0.99,0.99)">
<use href="#mt"/>
<use href="#mp" fill="url(#mg)"/><use href="#mp" fill="url(#nz)"/>
<g clip-path="url(#mc)">
<ellipse cx="1.27" cy="10.47" rx="1.89" ry="1.95" fill="#3440d0" />
<ellipse cx="1.27" cy="10.47" rx="1.63" ry="1.67" fill="#2ea8f0" />
<ellipse cx="1.27" cy="10.47" rx="1.4" ry="1.44" fill="#48d8d0" />
<ellipse cx="-0.12" cy="11.98" rx="1.8" ry="1.48" fill="#3440d0" />
</g>
<ellipse cx="-3.29" cy="17.61" rx="1.7" ry="1.6" fill="url(#bspot)" />
</g>
<g transform="translate(284.81,268.8) scale(0.99,0.99)">
<use href="#mt"/>
<use href="#mp" fill="url(#mg)"/><use href="#mp" fill="url(#nz)"/>
<g clip-path="url(#mc)">
<ellipse cx="0.16" cy="15.23" rx="1.45" ry="1.94" fill="#3440d0" />
<ellipse cx="0.16" cy="15.23" rx="1.25" ry="1.66" fill="#2ea8f0" />
<ellipse cx="0.16" cy="15.23" rx="1.08" ry="1.43" fill="#48d8d0" />
<ellipse cx="1.32" cy="16.95" rx="1.73" ry="1.33" fill="#3440d0" />
<ellipse cx="2.04" cy="7.21" rx="1.85" ry="1.69" fill="#3440d0" />
</g>
</g>
<g transform="translate(295.31,268.8) scale(0.99,0.99)">
<use href="#mt"/>
<use href="#mp" fill="url(#mg)"/><use href="#mp" fill="url(#nz)"/>
<g clip-path="url(#mc)">
</g>
<ellipse cx="-3.47" cy="17.7" rx="1.7" ry="1.6" fill="url(#bspot)" />
<ellipse cx="3.43" cy="19.2" rx="1.7" ry="1.6" fill="url(#bspot)" />
</g>
<g transform="translate(305.71,268.8) scale(0.99,0.99)">
<use href="#mt"/>
<use href="#mp" fill="url(#mg)"/><use href="#mp" fill="url(#nz)"/>
<g clip-path="url(#mc)">
<ellipse cx="-1.06" cy="16.54" rx="0.84" ry="1.27" fill="#3440d0" />
</g>
</g>
<g transform="translate(315.71,268.8) scale(0.99,0.99)">
<use href="#mt"/>
<use href="#mp" fill="url(#mg)"/><use href="#mp" fill="url(#nz)"/>
<g clip-path="url(#mc)">
<ellipse cx="-1.23" cy="8.93" rx="1.19" ry="0.97" fill="#3440d0" />
<ellipse cx="-2.33" cy="10.54" rx="1.05" ry="1.16" fill="#3440d0" />
</g>
</g>
<g transform="translate(326.53,268.8) scale(0.99,0.99)">
<use href="#mt"/>
<use href="#mp" fill="url(#mg)"/><use href="#mp" fill="url(#nz)"/>
<g clip-path="url(#mc)">
<ellipse cx="0.77" cy="12.73" rx="1.01" ry="1.03" fill="#3440d0" />
<ellipse cx="2.1" cy="9.03" rx="1.07" ry="1.26" fill="#3440d0" />
</g>
<ellipse cx="-3.67" cy="17.95" rx="1.7" ry="1.6" fill="url(#bspot)" />
</g>
<g transform="translate(336.3,268.8) scale(0.99,0.99)">
<use href="#mt"/>
<use href="#mp" fill="url(#mg)"/><use href="#mp" fill="url(#nz)"/>
<g clip-path="url(#mc)">
<ellipse cx="-1.7" cy="6.7" rx="0.81" ry="1.24" fill="#3440d0" />
</g>
<ellipse cx="3.59" cy="18.42" rx="1.7" ry="1.6" fill="url(#bspot)" />
</g>
<g transform="translate(346.96,268.8) scale(0.99,0.99)">
<use href="#mt"/>
<use href="#mp" fill="url(#mg)"/><use href="#mp" fill="url(#nz)"/>
<g clip-path="url(#mc)">
<ellipse cx="-1.79" cy="12.64" rx="0.93" ry="1.17" fill="#3440d0" />
</g>
<ellipse cx="-3.56" cy="18.3" rx="1.7" ry="1.6" fill="url(#bspot)" />
<ellipse cx="3.28" cy="17.66" rx="1.7" ry="1.6" fill="url(#bspot)" />
</g>
<rect x="358.2" y="268" width="104.6" height="25.9" fill="#161616" />
<g transform="translate(363.08,268.8) scale(0.99,0.99)">
<use href="#mt"/>
<use href="#mp" fill="url(#mg)"/><use href="#mp" fill="url(#nz)"/>
<g clip-path="url(#mc)">
</g>
<ellipse cx="-3.5" cy="17.61" rx="1.7" ry="1.6" fill="url(#bspot)" />
<ellipse cx="3.27" cy="18.8" rx="1.7" ry="1.6" fill="url(#bspot)" />
</g>
<g transform="translate(374.05,268.8) scale(0.99,0.99)">
<use href="#mt"/>
<use href="#mp" fill="url(#mg)"/><use href="#mp" fill="url(#nz)"/>
<g clip-path="url(#mc)">
<ellipse cx="0.58" cy="8.79" rx="0.99" ry="1.12" fill="#3440d0" />
<ellipse cx="-0.12" cy="17.93" rx="1.19" ry="0.92" fill="#3440d0" />
</g>
<ellipse cx="3.65" cy="17.62" rx="1.7" ry="1.6" fill="url(#bspot)" />
</g>
<g transform="translate(384.04,268.8) scale(0.99,0.99)">
<use href="#mt"/>
<use href="#mp" fill="url(#mg)"/><use href="#mp" fill="url(#nz)"/>
<g clip-path="url(#mc)">
<ellipse cx="2.14" cy="14.47" rx="1.49" ry="1.84" fill="#3440d0" />
<ellipse cx="2.14" cy="14.47" rx="1.28" ry="1.59" fill="#2ea8f0" />
<ellipse cx="2.14" cy="14.47" rx="1.1" ry="1.37" fill="#48d8d0" />
<ellipse cx="1.88" cy="16.17" rx="1.68" ry="1.65" fill="#3440d0" />
<ellipse cx="1.88" cy="16.17" rx="1.44" ry="1.42" fill="#2ea8f0" />
<ellipse cx="1.88" cy="16.17" rx="1.24" ry="1.22" fill="#48d8d0" />
<ellipse cx="0.88" cy="8.7" rx="1.18" ry="1.73" fill="#3440d0" />
<ellipse cx="0.88" cy="8.7" rx="1.01" ry="1.48" fill="#2ea8f0" />
<ellipse cx="0.88" cy="8.7" rx="0.87" ry="1.28" fill="#48d8d0" />
</g>
<ellipse cx="3.33" cy="17.65" rx="1.7" ry="1.6" fill="url(#bspot)" />
</g>
<g transform="translate(394.76,268.8) scale(0.99,0.99)">
<use href="#mt"/>
<use href="#mp" fill="url(#mg)"/><use href="#mp" fill="url(#nz)"/>
<g clip-path="url(#mc)">
<ellipse cx="-0.39" cy="19.46" rx="1.11" ry="1.57" fill="#3440d0" />
<ellipse cx="0.03" cy="8.03" rx="1.57" ry="1.49" fill="#3440d0" />
</g>
</g>
<g transform="translate(405.34,268.8) scale(0.99,0.99)">
<use href="#mt"/>
<use href="#mp" fill="url(#mg)"/><use href="#mp" fill="url(#nz)"/>
<g clip-path="url(#mc)">
<ellipse cx="-0.05" cy="13.49" rx="1.56" ry="1.67" fill="#3440d0" />
<ellipse cx="-2.05" cy="12.15" rx="1.83" ry="1.36" fill="#3440d0" />
<ellipse cx="2.18" cy="4.6" rx="1.68" ry="1.64" fill="#3440d0" />
</g>
<ellipse cx="3.56" cy="18.54" rx="1.7" ry="1.6" fill="url(#bspot)" />
</g>
<g transform="translate(415.74,268.8) scale(0.99,0.99)">
<use href="#mt"/>
<use href="#mp" fill="url(#mg)"/><use href="#mp" fill="url(#nz)"/>
<g clip-path="url(#mc)">
<ellipse cx="1.38" cy="10.58" rx="1.85" ry="2.08" fill="#3440d0" />
<ellipse cx="-0.2" cy="4.37" rx="1.27" ry="1.2" fill="#3440d0" />
<ellipse cx="-0.32" cy="4.33" rx="1.1" ry="2.09" fill="#3440d0" />
</g>
<ellipse cx="3.69" cy="18.28" rx="1.7" ry="1.6" fill="url(#bspot)" />
</g>
<g transform="translate(426.55,268.8) scale(0.99,0.99)">
<use href="#mt"/>
<use href="#mp" fill="url(#mg)"/><use href="#mp" fill="url(#nz)"/>
<g clip-path="url(#mc)">
<ellipse cx="-0.47" cy="11.31" rx="1.44" ry="1.33" fill="#3440d0" />
<ellipse cx="-0.47" cy="11.31" rx="1.24" ry="1.14" fill="#2ea8f0" />
<ellipse cx="-0.47" cy="11.31" rx="1.07" ry="0.98" fill="#48d8d0" />
<ellipse cx="1.84" cy="7.97" rx="1.24" ry="1.74" fill="#3440d0" />
<ellipse cx="1.84" cy="7.97" rx="1.07" ry="1.5" fill="#2ea8f0" />
<ellipse cx="1.84" cy="7.97" rx="0.92" ry="1.29" fill="#48d8d0" />
<ellipse cx="1.96" cy="12.53" rx="1.58" ry="1.69" fill="#3440d0" />
<ellipse cx="1.96" cy="12.53" rx="1.36" ry="1.45" fill="#2ea8f0" />
</g>
<ellipse cx="-3.52" cy="18.86" rx="1.7" ry="1.6" fill="url(#bspot)" />
<ellipse cx="3.18" cy="17.67" rx="1.7" ry="1.6" fill="url(#bspot)" />
</g>
<g transform="translate(436.66,268.8) scale(0.99,0.99)">
<use href="#mt"/>
<use href="#mp" fill="url(#mg)"/><use href="#mp" fill="url(#nz)"/>
<g clip-path="url(#mc)">
<ellipse cx="-1.46" cy="8.6" rx="1.32" ry="1.81" fill="#3440d0" />
<ellipse cx="-1.46" cy="8.6" rx="1.14" ry="1.56" fill="#2ea8f0" />
<ellipse cx="-1.46" cy="8.6" rx="0.98" ry="1.34" fill="#48d8d0" />
<ellipse cx="0.77" cy="9.94" rx="1.23" ry="1.59" fill="#3440d0" />
</g>
<ellipse cx="-3.47" cy="17.76" rx="1.7" ry="1.6" fill="url(#bspot)" />
</g>
<g transform="translate(447.27,268.8) scale(0.99,0.99)">
<use href="#mt"/>
<use href="#mp" fill="url(#mg)"/><use href="#mp" fill="url(#nz)"/>
<g clip-path="url(#mc)">
<ellipse cx="0.14" cy="5.33" rx="1.18" ry="1.64" fill="#3440d0" />
<ellipse cx="-1.32" cy="8.1" rx="1.49" ry="2.07" fill="#3440d0" />
<ellipse cx="0.63" cy="17.71" rx="1.57" ry="2.04" fill="#3440d0" />
</g>
</g>
<g transform="translate(457.38,268.8) scale(0.99,0.99)">
<use href="#mt"/>
<use href="#mp" fill="url(#mg)"/><use href="#mp" fill="url(#nz)"/>
<g clip-path="url(#mc)">
<ellipse cx="-1.51" cy="6.5" rx="1.15" ry="1.05" fill="#3440d0" />
<ellipse cx="0.21" cy="12.9" rx="1.11" ry="1.24" fill="#3440d0" />
</g>
<ellipse cx="-3.33" cy="18.52" rx="1.7" ry="1.6" fill="url(#bspot)" />
</g>
<rect x="249.2" y="297.4" width="102.8" height="28.1" fill="#161616" />
<g transform="translate(254.06,298.2) scale(1.08,1.08)">
<use href="#mt"/>
<use href="#mp" fill="url(#mg)"/><use href="#mp" fill="url(#nz)"/>
<g clip-path="url(#mc)">
<ellipse cx="-1.59" cy="15.4" rx="1.59" ry="1.55" fill="#3440d0" />
<ellipse cx="-1.59" cy="15.4" rx="1.36" ry="1.33" fill="#2ea8f0" />
<ellipse cx="-1.59" cy="15.4" rx="1.17" ry="1.14" fill="#48d8d0" />
<ellipse cx="-0.34" cy="13.3" rx="1.68" ry="1.69" fill="#3440d0" />
<ellipse cx="-0.34" cy="13.3" rx="1.44" ry="1.45" fill="#2ea8f0" />
<ellipse cx="-0.34" cy="13.3" rx="1.24" ry="1.25" fill="#48d8d0" />
<ellipse cx="1.85" cy="6.97" rx="1.73" ry="1.6" fill="#3440d0" />
<ellipse cx="1.85" cy="6.97" rx="1.49" ry="1.37" fill="#2ea8f0" />
<ellipse cx="1.85" cy="6.97" rx="1.28" ry="1.18" fill="#48d8d0" />
</g>
<ellipse cx="3.51" cy="18.57" rx="1.7" ry="1.6" fill="url(#bspot)" />
</g>
<g transform="translate(264.57,298.2) scale(1.08,1.08)">
<use href="#mt"/>
<use href="#mp" fill="url(#mg)"/><use href="#mp" fill="url(#nz)"/>
<g clip-path="url(#mc)">
<ellipse cx="1.03" cy="12.41" rx="1.49" ry="1.57" fill="#3440d0" />
<ellipse cx="1.03" cy="12.41" rx="1.28" ry="1.35" fill="#2ea8f0" />
<ellipse cx="0.82" cy="7.94" rx="1.17" ry="1.5" fill="#3440d0" />
<ellipse cx="0.05" cy="15.96" rx="1.44" ry="1.56" fill="#3440d0" />
</g>
<ellipse cx="-3.66" cy="17.98" rx="1.7" ry="1.6" fill="url(#bspot)" />
</g>
<g transform="translate(274.6,298.2) scale(1.08,1.08)">
<use href="#mt"/>
<use href="#mp" fill="url(#mg)"/><use href="#mp" fill="url(#nz)"/>
<g clip-path="url(#mc)">
<ellipse cx="2.23" cy="16.28" rx="1.31" ry="1.48" fill="#3440d0" />
<ellipse cx="2.23" cy="16.28" rx="1.13" ry="1.28" fill="#2ea8f0" />
<ellipse cx="0.67" cy="12.58" rx="1.8" ry="2.09" fill="#3440d0" />
<ellipse cx="0.67" cy="12.58" rx="1.55" ry="1.8" fill="#2ea8f0" />
<ellipse cx="0.67" cy="12.58" rx="1.33" ry="1.55" fill="#48d8d0" />
<ellipse cx="0.88" cy="10.25" rx="1.69" ry="1.74" fill="#3440d0" />
<ellipse cx="0.88" cy="10.25" rx="1.46" ry="1.5" fill="#2ea8f0" />
<ellipse cx="0.88" cy="10.25" rx="1.25" ry="1.29" fill="#48d8d0" />
<ellipse cx="0.59" cy="12.54" rx="1.88" ry="1.67" fill="#3440d0" />
<ellipse cx="0.59" cy="12.54" rx="1.62" ry="1.44" fill="#2ea8f0" />
</g>
<ellipse cx="3.62" cy="18.09" rx="1.7" ry="1.6" fill="url(#bspot)" />
</g>
<g transform="translate(285.4,298.2) scale(1.08,1.08)">
<use href="#mt"/>
<use href="#mp" fill="url(#mg)"/><use href="#mp" fill="url(#nz)"/>
<g clip-path="url(#mc)">
<ellipse cx="1.09" cy="10.65" rx="1.81" ry="1.35" fill="#3440d0" />
<ellipse cx="-0.25" cy="14.6" rx="1.28" ry="1.57" fill="#3440d0" />
<ellipse cx="0.48" cy="12.51" rx="1.11" ry="1.42" fill="#3440d0" />
<ellipse cx="-1.68" cy="5.9" rx="1.22" ry="1.58" fill="#3440d0" />
</g>
<ellipse cx="3.55" cy="18.29" rx="1.7" ry="1.6" fill="url(#bspot)" />
</g>
<g transform="translate(295.61,298.2) scale(1.08,1.08)">
<use href="#mt"/>
<use href="#mp" fill="url(#mg)"/><use href="#mp" fill="url(#nz)"/>
<g clip-path="url(#mc)">
<ellipse cx="-2.29" cy="7.63" rx="1.11" ry="1.22" fill="#3440d0" />
</g>
<ellipse cx="-3.58" cy="18.78" rx="1.7" ry="1.6" fill="url(#bspot)" />
</g>
<g transform="translate(306.09,298.2) scale(1.08,1.08)">
<use href="#mt"/>
<use href="#mp" fill="url(#mg)"/><use href="#mp" fill="url(#nz)"/>
<g clip-path="url(#mc)">
<ellipse cx="0.81" cy="15.7" rx="1.17" ry="1.17" fill="#3440d0" />
<ellipse cx="-1.73" cy="8.57" rx="0.96" ry="0.97" fill="#3440d0" />
</g>
<ellipse cx="-3.13" cy="17.98" rx="1.7" ry="1.6" fill="url(#bspot)" />
</g>
<g transform="translate(315.68,298.2) scale(1.08,1.08)">
<use href="#mt"/>
<use href="#mp" fill="url(#mg)"/><use href="#mp" fill="url(#nz)"/>
<g clip-path="url(#mc)">
<ellipse cx="-0.12" cy="16.71" rx="0.91" ry="1.21" fill="#3440d0" />
</g>
<ellipse cx="-3.18" cy="17.7" rx="1.7" ry="1.6" fill="url(#bspot)" />
</g>
<g transform="translate(326.66,298.2) scale(1.08,1.08)">
<use href="#mt"/>
<use href="#mp" fill="url(#mg)"/><use href="#mp" fill="url(#nz)"/>
<g clip-path="url(#mc)">
<ellipse cx="-1.75" cy="15.36" rx="1.42" ry="1.87" fill="#3440d0" />
<ellipse cx="2.19" cy="9.46" rx="1.21" ry="2.02" fill="#3440d0" />
<ellipse cx="2.19" cy="9.46" rx="1.04" ry="1.74" fill="#2ea8f0" />
<ellipse cx="0.87" cy="16.69" rx="1.67" ry="1.43" fill="#3440d0" />
</g>
<ellipse cx="-3.61" cy="19.2" rx="1.7" ry="1.6" fill="url(#bspot)" />
<ellipse cx="3.22" cy="17.74" rx="1.7" ry="1.6" fill="url(#bspot)" />
</g>
<g transform="translate(336.63,298.2) scale(1.08,1.08)">
<use href="#mt"/>
<use href="#mp" fill="url(#mg)"/><use href="#mp" fill="url(#nz)"/>
<g clip-path="url(#mc)">
<ellipse cx="2.2" cy="5.43" rx="1" ry="1.12" fill="#3440d0" />
</g>
<ellipse cx="-3.42" cy="18.04" rx="1.7" ry="1.6" fill="url(#bspot)" />
<ellipse cx="3.63" cy="18.72" rx="1.7" ry="1.6" fill="url(#bspot)" />
</g>
<g transform="translate(347.23,298.2) scale(1.08,1.08)">
<use href="#mt"/>
<use href="#mp" fill="url(#mg)"/><use href="#mp" fill="url(#nz)"/>
<g clip-path="url(#mc)">
<ellipse cx="1.94" cy="16.07" rx="1.08" ry="0.95" fill="#3440d0" />
<ellipse cx="1.51" cy="14.21" rx="1.17" ry="1.21" fill="#3440d0" />
<ellipse cx="0.97" cy="17.14" rx="0.96" ry="1.16" fill="#3440d0" />
</g>
<ellipse cx="-3.22" cy="18.8" rx="1.7" ry="1.6" fill="url(#bspot)" />
</g>
<rect x="358.2" y="297.4" width="105.4" height="28.1" fill="#161616" />
<g transform="translate(363.68,298.2) scale(1.08,1.08)">
<use href="#mt"/>
<use href="#mp" fill="url(#mg)"/><use href="#mp" fill="url(#nz)"/>
<g clip-path="url(#mc)">
<ellipse cx="-0.43" cy="7.17" rx="1.64" ry="2.07" fill="#3440d0" />
<ellipse cx="-0.43" cy="7.17" rx="1.41" ry="1.78" fill="#2ea8f0" />
<ellipse cx="-0.28" cy="11.22" rx="1.82" ry="1.49" fill="#3440d0" />
<ellipse cx="-0.03" cy="13.78" rx="1.78" ry="1.67" fill="#3440d0" />
<ellipse cx="-0.03" cy="13.78" rx="1.53" ry="1.44" fill="#2ea8f0" />
<ellipse cx="-0.83" cy="6.05" rx="1.47" ry="1.84" fill="#3440d0" />
</g>
<ellipse cx="-3.25" cy="18.32" rx="1.7" ry="1.6" fill="url(#bspot)" />
<ellipse cx="3.4" cy="19.15" rx="1.7" ry="1.6" fill="url(#bspot)" />
</g>
<g transform="translate(374.35,298.2) scale(1.08,1.08)">
<use href="#mt"/>
<use href="#mp" fill="url(#mg)"/><use href="#mp" fill="url(#nz)"/>
<g clip-path="url(#mc)">
<ellipse cx="1.77" cy="15.79" rx="0.82" ry="1" fill="#3440d0" />
</g>
<ellipse cx="3.17" cy="17.8" rx="1.7" ry="1.6" fill="url(#bspot)" />
</g>
<g transform="translate(384.33,298.2) scale(1.08,1.08)">
<use href="#mt"/>
<use href="#mp" fill="url(#mg)"/><use href="#mp" fill="url(#nz)"/>
<g clip-path="url(#mc)">
<ellipse cx="-0.31" cy="8.33" rx="1.16" ry="1.04" fill="#3440d0" />
</g>
</g>
<g transform="translate(395.06,298.2) scale(1.08,1.08)">
<use href="#mt"/>
<use href="#mp" fill="url(#mg)"/><use href="#mp" fill="url(#nz)"/>
<g clip-path="url(#mc)">
<ellipse cx="2.28" cy="15.77" rx="1.05" ry="1.22" fill="#3440d0" />
</g>
<ellipse cx="-3.24" cy="18.15" rx="1.7" ry="1.6" fill="url(#bspot)" />
<ellipse cx="3.24" cy="19.01" rx="1.7" ry="1.6" fill="url(#bspot)" />
</g>
<g transform="translate(405.94,298.2) scale(1.08,1.08)">
<use href="#mt"/>
<use href="#mp" fill="url(#mg)"/><use href="#mp" fill="url(#nz)"/>
<g clip-path="url(#mc)">
<ellipse cx="2.27" cy="13.22" rx="0.81" ry="1.28" fill="#3440d0" />
</g>
<ellipse cx="-3.47" cy="19.17" rx="1.7" ry="1.6" fill="url(#bspot)" />
</g>
<g transform="translate(416.5,298.2) scale(1.08,1.08)">
<use href="#mt"/>
<use href="#mp" fill="url(#mg)"/><use href="#mp" fill="url(#nz)"/>
<g clip-path="url(#mc)">
<ellipse cx="-1.19" cy="13.32" rx="1" ry="1.18" fill="#3440d0" />
</g>
<ellipse cx="-3.31" cy="19.02" rx="1.7" ry="1.6" fill="url(#bspot)" />
<ellipse cx="3.5" cy="18.35" rx="1.7" ry="1.6" fill="url(#bspot)" />
</g>
<g transform="translate(426.66,298.2) scale(1.08,1.08)">
<use href="#mt"/>
<use href="#mp" fill="url(#mg)"/><use href="#mp" fill="url(#nz)"/>
<g clip-path="url(#mc)">
<ellipse cx="-1.57" cy="15.16" rx="0.98" ry="1.2" fill="#3440d0" />
</g>
<ellipse cx="3.21" cy="18.89" rx="1.7" ry="1.6" fill="url(#bspot)" />
</g>
<g transform="translate(437.36,298.2) scale(1.08,1.08)">
<use href="#mt"/>
<use href="#mp" fill="url(#mg)"/><use href="#mp" fill="url(#nz)"/>
<g clip-path="url(#mc)">
<ellipse cx="1.46" cy="17.07" rx="0.83" ry="1.05" fill="#3440d0" />
</g>
<ellipse cx="-3.39" cy="18.68" rx="1.7" ry="1.6" fill="url(#bspot)" />
</g>
<g transform="translate(447.72,298.2) scale(1.08,1.08)">
<use href="#mt"/>
<use href="#mp" fill="url(#mg)"/><use href="#mp" fill="url(#nz)"/>
<g clip-path="url(#mc)">
<ellipse cx="2.06" cy="8.56" rx="0.97" ry="1" fill="#3440d0" />
</g>
<ellipse cx="-3.19" cy="19.15" rx="1.7" ry="1.6" fill="url(#bspot)" />
<ellipse cx="3.2" cy="17.96" rx="1.7" ry="1.6" fill="url(#bspot)" />
</g>
<g transform="translate(458.31,298.2) scale(1.08,1.08)">
<use href="#mt"/>
<use href="#mp" fill="url(#mg)"/><use href="#mp" fill="url(#nz)"/>
<g clip-path="url(#mc)">
<ellipse cx="-2" cy="7.91" rx="0.82" ry="1.29" fill="#3440d0" />
</g>
</g>
<rect x="249.2" y="329.6" width="102.8" height="28.1" fill="#161616" />
<g transform="translate(254.72,330.4) scale(1.08,1.08)">
<use href="#mt"/>
<use href="#mp" fill="url(#mg)"/><use href="#mp" fill="url(#nz)"/>
<g clip-path="url(#mc)">
<ellipse cx="2.26" cy="15.54" rx="2.22" ry="2.76" fill="#3440d0" />
<ellipse cx="2.14" cy="16.3" rx="2.05" ry="2.45" fill="#3440d0" />
<ellipse cx="-0.84" cy="15.16" rx="1.89" ry="1.98" fill="#3440d0" />
<ellipse cx="0.43" cy="20.51" rx="1.44" ry="3.15" fill="#3440d0" />
<ellipse cx="1" cy="13.93" rx="1.69" ry="2.84" fill="#3440d0" />
<ellipse cx="1.88" cy="13.45" rx="2.07" ry="2.12" fill="#3440d0" />
<ellipse cx="0.75" cy="16.34" rx="0.95" ry="0.84" fill="#3440d0" />
<ellipse cx="0.75" cy="16.34" rx="0.81" ry="0.73" fill="#2ea8f0" />
<ellipse cx="0.39" cy="19.13" rx="0.95" ry="1.04" fill="#3440d0" />
<ellipse cx="0.39" cy="19.13" rx="0.81" ry="0.89" fill="#2ea8f0" />
<ellipse cx="0.39" cy="19.13" rx="0.7" ry="0.77" fill="#48d8d0" />
</g>
<ellipse cx="-3.16" cy="18.81" rx="1.7" ry="1.6" fill="url(#bspot)" />
<ellipse cx="3.42" cy="18.89" rx="1.7" ry="1.6" fill="url(#bspot)" />
</g>
<g transform="translate(264.59,330.4) scale(1.08,1.08)">
<use href="#mt"/>
<use href="#mp" fill="url(#mg)"/><use href="#mp" fill="url(#nz)"/>
<g clip-path="url(#mc)">
<ellipse cx="1" cy="9.15" rx="0.99" ry="0.96" fill="#3440d0" />
</g>
<ellipse cx="-3.55" cy="17.76" rx="1.7" ry="1.6" fill="url(#bspot)" />
<ellipse cx="3.16" cy="18.9" rx="1.7" ry="1.6" fill="url(#bspot)" />
</g>
<g transform="translate(275.06,330.4) scale(1.08,1.08)">
<use href="#mt"/>
<use href="#mp" fill="url(#mg)"/><use href="#mp" fill="url(#nz)"/>
<g clip-path="url(#mc)">
<ellipse cx="-0.93" cy="14.35" rx="0.85" ry="1.27" fill="#3440d0" />
</g>
<ellipse cx="-3.64" cy="18.21" rx="1.7" ry="1.6" fill="url(#bspot)" />
</g>
<g transform="translate(285.16,330.4) scale(1.08,1.08)">
<use href="#mt"/>
<use href="#mp" fill="url(#mg)"/><use href="#mp" fill="url(#nz)"/>
<g clip-path="url(#mc)">
<ellipse cx="-0.57" cy="15.67" rx="1.31" ry="2" fill="#3440d0" />
<ellipse cx="-0.26" cy="4.71" rx="1.62" ry="1.99" fill="#3440d0" />
<ellipse cx="-0.26" cy="4.71" rx="1.39" ry="1.71" fill="#2ea8f0" />
<ellipse cx="-0.26" cy="4.71" rx="1.2" ry="1.47" fill="#48d8d0" />
<ellipse cx="-1.25" cy="7.8" rx="1.28" ry="2.04" fill="#3440d0" />
<ellipse cx="0.38" cy="14.34" rx="1.4" ry="1.63" fill="#3440d0" />
</g>
</g>
<g transform="translate(295.09,330.4) scale(1.08,1.08)">
<use href="#mt"/>
<use href="#mp" fill="url(#mg)"/><use href="#mp" fill="url(#nz)"/>
<g clip-path="url(#mc)">
<ellipse cx="0.89" cy="16.89" rx="1.01" ry="1.29" fill="#3440d0" />
<ellipse cx="-0.91" cy="17.87" rx="0.87" ry="1.05" fill="#3440d0" />
</g>
<ellipse cx="-3.68" cy="18.58" rx="1.7" ry="1.6" fill="url(#bspot)" />
<ellipse cx="3.67" cy="18.69" rx="1.7" ry="1.6" fill="url(#bspot)" />
</g>
<g transform="translate(305.62,330.4) scale(1.08,1.08)">
<use href="#mt"/>
<use href="#mp" fill="url(#mg)"/><use href="#mp" fill="url(#nz)"/>
<g clip-path="url(#mc)">
</g>
<ellipse cx="-3.5" cy="18.61" rx="1.7" ry="1.6" fill="url(#bspot)" />
<ellipse cx="3.14" cy="17.65" rx="1.7" ry="1.6" fill="url(#bspot)" />
</g>
<g transform="translate(316.33,330.4) scale(1.08,1.08)">
<use href="#mt"/>
<use href="#mp" fill="url(#mg)"/><use href="#mp" fill="url(#nz)"/>
<g clip-path="url(#mc)">
<ellipse cx="-0.43" cy="16.55" rx="1.11" ry="1.22" fill="#3440d0" />
</g>
<ellipse cx="-3.15" cy="18.46" rx="1.7" ry="1.6" fill="url(#bspot)" />
<ellipse cx="3.26" cy="17.65" rx="1.7" ry="1.6" fill="url(#bspot)" />
</g>
<g transform="translate(326.55,330.4) scale(1.08,1.08)">
<use href="#mt"/>
<use href="#mp" fill="url(#mg)"/><use href="#mp" fill="url(#nz)"/>
<g clip-path="url(#mc)">
<ellipse cx="-0.82" cy="16.71" rx="1.44" ry="1.32" fill="#3440d0" />
<ellipse cx="-0.82" cy="16.71" rx="1.24" ry="1.14" fill="#2ea8f0" />
<ellipse cx="1.9" cy="14.9" rx="1.54" ry="1.98" fill="#3440d0" />
<ellipse cx="1.9" cy="14.9" rx="1.32" ry="1.71" fill="#2ea8f0" />
<ellipse cx="1.9" cy="14.9" rx="1.14" ry="1.47" fill="#48d8d0" />
<ellipse cx="-2.36" cy="11.8" rx="1.12" ry="1.5" fill="#3440d0" />
<ellipse cx="0.48" cy="15.32" rx="1.4" ry="1.31" fill="#3440d0" />
</g>
<ellipse cx="-3.34" cy="18.7" rx="1.7" ry="1.6" fill="url(#bspot)" />
<ellipse cx="3.47" cy="17.82" rx="1.7" ry="1.6" fill="url(#bspot)" />
</g>
<g transform="translate(336.3,330.4) scale(1.08,1.08)">
<use href="#mt"/>
<use href="#mp" fill="url(#mg)"/><use href="#mp" fill="url(#nz)"/>
<g clip-path="url(#mc)">
<ellipse cx="1.73" cy="16.54" rx="1.7" ry="1.92" fill="#3440d0" />
<ellipse cx="0.93" cy="8.05" rx="1.89" ry="1.28" fill="#3440d0" />
<ellipse cx="1.24" cy="13.27" rx="1.48" ry="1.37" fill="#3440d0" />
<ellipse cx="1.24" cy="13.27" rx="1.27" ry="1.18" fill="#2ea8f0" />
<ellipse cx="1.24" cy="13.27" rx="1.1" ry="1.02" fill="#48d8d0" />
</g>
<ellipse cx="-3.26" cy="19.17" rx="1.7" ry="1.6" fill="url(#bspot)" />
<ellipse cx="3.16" cy="18.06" rx="1.7" ry="1.6" fill="url(#bspot)" />
</g>
<g transform="translate(346.95,330.4) scale(1.08,1.08)">
<use href="#mt"/>
<use href="#mp" fill="url(#mg)"/><use href="#mp" fill="url(#nz)"/>
<g clip-path="url(#mc)">
<ellipse cx="-1.99" cy="11.52" rx="1.42" ry="1.84" fill="#3440d0" />
<ellipse cx="-0.07" cy="6.15" rx="1.24" ry="1.89" fill="#3440d0" />
<ellipse cx="0.51" cy="9.2" rx="1.39" ry="1.54" fill="#3440d0" />
<ellipse cx="-1.13" cy="12.47" rx="2.2" ry="2.4" fill="#3440d0" />
<ellipse cx="-1.13" cy="12.47" rx="1.7" ry="1.9" fill="#48d8d0" />
<ellipse cx="-1.13" cy="12.47" rx="1.3" ry="1.4" fill="#f2e82a" />
<ellipse cx="-1.13" cy="12.47" rx="1" ry="1.1" fill="#e82a14" />
</g>
<ellipse cx="-3.24" cy="18.92" rx="1.7" ry="1.6" fill="url(#bspot)" />
<ellipse cx="3.19" cy="19" rx="1.7" ry="1.6" fill="url(#bspot)" />
</g>
<rect x="358.2" y="329.6" width="105.4" height="28.1" fill="#161616" />
<g transform="translate(363.14,330.4) scale(1.08,1.08)">
<use href="#mt"/>
<use href="#mp" fill="url(#mg)"/><use href="#mp" fill="url(#nz)"/>
<g clip-path="url(#mc)">
<ellipse cx="0.48" cy="7.4" rx="1.72" ry="1.74" fill="#3440d0" />
<ellipse cx="0.54" cy="15.57" rx="1.72" ry="1.51" fill="#3440d0" />
<ellipse cx="1.19" cy="6.11" rx="1.18" ry="1.87" fill="#3440d0" />
<ellipse cx="0.35" cy="13.39" rx="1.46" ry="1.64" fill="#3440d0" />
</g>
</g>
<g transform="translate(374.09,330.4) scale(1.08,1.08)">
<use href="#mt"/>
<use href="#mp" fill="url(#mg)"/><use href="#mp" fill="url(#nz)"/>
<g clip-path="url(#mc)">
<ellipse cx="0.53" cy="5.9" rx="1.83" ry="2.06" fill="#3440d0" />
<ellipse cx="0.53" cy="5.9" rx="1.57" ry="1.77" fill="#2ea8f0" />
<ellipse cx="0.53" cy="5.9" rx="1.35" ry="1.53" fill="#48d8d0" />
<ellipse cx="-1.73" cy="12.21" rx="1.4" ry="1.76" fill="#3440d0" />
<ellipse cx="-1.73" cy="12.21" rx="1.2" ry="1.52" fill="#2ea8f0" />
<ellipse cx="-1.05" cy="10.94" rx="1.37" ry="1.49" fill="#3440d0" />
</g>
<ellipse cx="3.48" cy="17.8" rx="1.7" ry="1.6" fill="url(#bspot)" />
</g>
<g transform="translate(384.69,330.4) scale(1.08,1.08)">
<use href="#mt"/>
<use href="#mp" fill="url(#mg)"/><use href="#mp" fill="url(#nz)"/>
<g clip-path="url(#mc)">
<ellipse cx="-2.08" cy="8.01" rx="0.91" ry="1.01" fill="#3440d0" />
</g>
<ellipse cx="-3.4" cy="17.67" rx="1.7" ry="1.6" fill="url(#bspot)" />
</g>
<g transform="translate(395.03,330.4) scale(1.08,1.08)">
<use href="#mt"/>
<use href="#mp" fill="url(#mg)"/><use href="#mp" fill="url(#nz)"/>
<g clip-path="url(#mc)">
<ellipse cx="-0.1" cy="16.31" rx="1.18" ry="1.28" fill="#3440d0" />
</g>
<ellipse cx="-3.15" cy="19.18" rx="1.7" ry="1.6" fill="url(#bspot)" />
<ellipse cx="3.52" cy="18.53" rx="1.7" ry="1.6" fill="url(#bspot)" />
</g>
<g transform="translate(405.54,330.4) scale(1.08,1.08)">
<use href="#mt"/>
<use href="#mp" fill="url(#mg)"/><use href="#mp" fill="url(#nz)"/>
<g clip-path="url(#mc)">
<ellipse cx="-1.04" cy="7.17" rx="0.91" ry="0.95" fill="#3440d0" />
<ellipse cx="0.82" cy="15.36" rx="1.06" ry="1.22" fill="#3440d0" />
</g>
<ellipse cx="3.14" cy="17.71" rx="1.7" ry="1.6" fill="url(#bspot)" />
</g>
<g transform="translate(415.95,330.4) scale(1.08,1.08)">
<use href="#mt"/>
<use href="#mp" fill="url(#mg)"/><use href="#mp" fill="url(#nz)"/>
<g clip-path="url(#mc)">
<ellipse cx="0.82" cy="12.8" rx="0.9" ry="0.96" fill="#3440d0" />
</g>
<ellipse cx="-3.1" cy="19.1" rx="1.7" ry="1.6" fill="url(#bspot)" />
<ellipse cx="3.15" cy="17.95" rx="1.7" ry="1.6" fill="url(#bspot)" />
</g>
<g transform="translate(426.75,330.4) scale(1.08,1.08)">
<use href="#mt"/>
<use href="#mp" fill="url(#mg)"/><use href="#mp" fill="url(#nz)"/>
<g clip-path="url(#mc)">
<ellipse cx="-1.88" cy="18.65" rx="1.61" ry="1.59" fill="#3440d0" />
<ellipse cx="-0.44" cy="12.63" rx="1.12" ry="1.27" fill="#3440d0" />
<ellipse cx="-0.44" cy="12.63" rx="0.96" ry="1.09" fill="#2ea8f0" />
<ellipse cx="1.94" cy="18.56" rx="1.36" ry="2.08" fill="#3440d0" />
<ellipse cx="1.9" cy="8.04" rx="1.71" ry="1.36" fill="#3440d0" />
</g>
<ellipse cx="3.51" cy="18.45" rx="1.7" ry="1.6" fill="url(#bspot)" />
</g>
<g transform="translate(437.39,330.4) scale(1.08,1.08)">
<use href="#mt"/>
<use href="#mp" fill="url(#mg)"/><use href="#mp" fill="url(#nz)"/>
<g clip-path="url(#mc)">
<ellipse cx="-2.4" cy="13.92" rx="1.1" ry="1.15" fill="#3440d0" />
</g>
<ellipse cx="-3.31" cy="18.21" rx="1.7" ry="1.6" fill="url(#bspot)" />
<ellipse cx="3.16" cy="18.25" rx="1.7" ry="1.6" fill="url(#bspot)" />
</g>
<g transform="translate(447.42,330.4) scale(1.08,1.08)">
<use href="#mt"/>
<use href="#mp" fill="url(#mg)"/><use href="#mp" fill="url(#nz)"/>
<g clip-path="url(#mc)">
<ellipse cx="1.84" cy="11.54" rx="1.17" ry="1.21" fill="#3440d0" />
</g>
<ellipse cx="-3.27" cy="18.28" rx="1.7" ry="1.6" fill="url(#bspot)" />
<ellipse cx="3.51" cy="18.01" rx="1.7" ry="1.6" fill="url(#bspot)" />
</g>
<g transform="translate(458.07,330.4) scale(1.08,1.08)">
<use href="#mt"/>
<use href="#mp" fill="url(#mg)"/><use href="#mp" fill="url(#nz)"/>
<g clip-path="url(#mc)">
<ellipse cx="-1.93" cy="19.27" rx="1.78" ry="1.44" fill="#3440d0" />
<ellipse cx="2.09" cy="11.23" rx="1.55" ry="1.33" fill="#3440d0" />
<ellipse cx="2.09" cy="11.23" rx="1.34" ry="1.14" fill="#2ea8f0" />
<ellipse cx="-0.68" cy="18.04" rx="1.26" ry="1.75" fill="#3440d0" />
<ellipse cx="-0.68" cy="18.04" rx="1.08" ry="1.51" fill="#2ea8f0" />
</g>
<ellipse cx="-3.47" cy="18.15" rx="1.7" ry="1.6" fill="url(#bspot)" />
<ellipse cx="3.28" cy="18.02" rx="1.7" ry="1.6" fill="url(#bspot)" />
</g>
<rect x="249.2" y="362" width="102.8" height="28.3" fill="#161616" />
<g transform="translate(254.71,362.8) scale(1.09,1.09)">
<use href="#mt"/>
<use href="#mp" fill="url(#mg)"/><use href="#mp" fill="url(#nz)"/>
<g clip-path="url(#mc)">
<ellipse cx="1.21" cy="7.1" rx="1.73" ry="2.8" fill="#3440d0" />
<ellipse cx="1.59" cy="3.3" rx="1.57" ry="3.05" fill="#3440d0" />
<ellipse cx="-1.99" cy="14.8" rx="1.73" ry="2.7" fill="#3440d0" />
<ellipse cx="1.88" cy="13.47" rx="1.79" ry="2.25" fill="#3440d0" />
<ellipse cx="0.63" cy="14.31" rx="1.81" ry="2.45" fill="#3440d0" />
<ellipse cx="0.17" cy="8.13" rx="0.77" ry="1.08" fill="#3440d0" />
<ellipse cx="0.17" cy="8.13" rx="0.66" ry="0.93" fill="#2ea8f0" />
<ellipse cx="-2.22" cy="16.57" rx="0.75" ry="0.88" fill="#3440d0" />
<ellipse cx="-2.22" cy="16.57" rx="0.64" ry="0.76" fill="#2ea8f0" />
<ellipse cx="-2.22" cy="16.57" rx="0.55" ry="0.65" fill="#48d8d0" />
<ellipse cx="-2.22" cy="16.57" rx="0.47" ry="0.56" fill="#78d848" />
<ellipse cx="1.27" cy="13.15" rx="1.8" ry="2" fill="#48d8d0" />
<ellipse cx="1.27" cy="13.15" rx="1.3" ry="1.5" fill="#f2e82a" />
<ellipse cx="1.27" cy="13.15" rx="0.9" ry="1" fill="#e82a14" />
</g>
<ellipse cx="-3.11" cy="17.92" rx="1.7" ry="1.6" fill="url(#bspot)" />
<ellipse cx="3.6" cy="17.67" rx="1.7" ry="1.6" fill="url(#bspot)" />
</g>
<g transform="translate(264.75,362.8) scale(1.09,1.09)">
<use href="#mt"/>
<use href="#mp" fill="url(#mg)"/><use href="#mp" fill="url(#nz)"/>
<g clip-path="url(#mc)">
<ellipse cx="0.64" cy="18.62" rx="1.9" ry="1.36" fill="#3440d0" />
<ellipse cx="0.64" cy="18.62" rx="1.63" ry="1.17" fill="#2ea8f0" />
<ellipse cx="0.64" cy="18.62" rx="1.4" ry="1.01" fill="#48d8d0" />
<ellipse cx="-1.52" cy="12.61" rx="1.13" ry="1.62" fill="#3440d0" />
<ellipse cx="0.6" cy="5.35" rx="1.22" ry="1.21" fill="#3440d0" />
<ellipse cx="-1.81" cy="11.55" rx="1.55" ry="1.58" fill="#3440d0" />
<ellipse cx="-1.81" cy="11.55" rx="1.33" ry="1.36" fill="#2ea8f0" />
<ellipse cx="-1.81" cy="11.55" rx="1.15" ry="1.17" fill="#48d8d0" />
</g>
<ellipse cx="-3.59" cy="18.29" rx="1.7" ry="1.6" fill="url(#bspot)" />
</g>
<g transform="translate(275.11,362.8) scale(1.09,1.09)">
<use href="#mt"/>
<use href="#mp" fill="url(#mg)"/><use href="#mp" fill="url(#nz)"/>
<g clip-path="url(#mc)">
<ellipse cx="1.86" cy="19.03" rx="2.24" ry="2.53" fill="#3440d0" />
<ellipse cx="0.12" cy="16.21" rx="1.98" ry="1.84" fill="#3440d0" />
<ellipse cx="2.17" cy="6.58" rx="1.88" ry="2.43" fill="#3440d0" />
<ellipse cx="-2.11" cy="13.41" rx="1.99" ry="2.94" fill="#3440d0" />
<ellipse cx="0.54" cy="8.91" rx="0.93" ry="1.28" fill="#3440d0" />
<ellipse cx="0.54" cy="8.91" rx="0.8" ry="1.1" fill="#2ea8f0" />
<ellipse cx="0.54" cy="8.91" rx="0.69" ry="0.95" fill="#48d8d0" />
<ellipse cx="0.54" cy="8.91" rx="0.58" ry="0.81" fill="#78d848" />
<ellipse cx="-2.05" cy="14.48" rx="0.87" ry="1.21" fill="#3440d0" />
<ellipse cx="-2.05" cy="14.48" rx="0.75" ry="1.04" fill="#2ea8f0" />
<ellipse cx="0.12" cy="12.15" rx="1.8" ry="2" fill="#48d8d0" />
<ellipse cx="0.12" cy="12.15" rx="1.3" ry="1.5" fill="#f2e82a" />
<ellipse cx="0.12" cy="12.15" rx="0.9" ry="1" fill="#e82a14" />
</g>
<ellipse cx="-3.59" cy="18.97" rx="1.7" ry="1.6" fill="url(#bspot)" />
<ellipse cx="3.62" cy="18.55" rx="1.7" ry="1.6" fill="url(#bspot)" />
</g>
<g transform="translate(285.33,362.8) scale(1.09,1.09)">
<use href="#mt"/>
<use href="#mp" fill="url(#mg)"/><use href="#mp" fill="url(#nz)"/>
<g clip-path="url(#mc)">
<ellipse cx="0.6" cy="10.18" rx="1.66" ry="1.66" fill="#3440d0" />
<ellipse cx="-0.1" cy="15.35" rx="1.11" ry="1.98" fill="#3440d0" />
<ellipse cx="0.3" cy="10.32" rx="1.54" ry="2.05" fill="#3440d0" />
<ellipse cx="0.3" cy="10.32" rx="1.32" ry="1.77" fill="#2ea8f0" />
</g>
<ellipse cx="3.66" cy="18.58" rx="1.7" ry="1.6" fill="url(#bspot)" />
</g>
<g transform="translate(295.79,362.8) scale(1.09,1.09)">
<use href="#mt"/>
<use href="#mp" fill="url(#mg)"/><use href="#mp" fill="url(#nz)"/>
<g clip-path="url(#mc)">
<ellipse cx="-1.17" cy="19.17" rx="1.53" ry="2.3" fill="#3440d0" />
<ellipse cx="1.44" cy="19.47" rx="1.86" ry="1.82" fill="#3440d0" />
<ellipse cx="0.32" cy="10.69" rx="1.43" ry="2.29" fill="#3440d0" />
<ellipse cx="1.99" cy="3.67" rx="1.58" ry="2.03" fill="#3440d0" />
<ellipse cx="1.55" cy="8.53" rx="2.08" ry="2.75" fill="#3440d0" />
<ellipse cx="-2.54" cy="10.88" rx="1.52" ry="2.92" fill="#3440d0" />
<ellipse cx="-0.05" cy="9.9" rx="1.02" ry="1.21" fill="#3440d0" />
<ellipse cx="-0.05" cy="9.9" rx="0.88" ry="1.04" fill="#2ea8f0" />
<ellipse cx="-1.09" cy="16.07" rx="1.02" ry="1.04" fill="#3440d0" />
<ellipse cx="-1.09" cy="16.07" rx="0.88" ry="0.89" fill="#2ea8f0" />
<ellipse cx="-1.09" cy="16.07" rx="0.76" ry="0.77" fill="#48d8d0" />
</g>
<ellipse cx="-3.4" cy="18.91" rx="1.7" ry="1.6" fill="url(#bspot)" />
<ellipse cx="3.22" cy="18.77" rx="1.7" ry="1.6" fill="url(#bspot)" />
</g>
<g transform="translate(305.46,362.8) scale(1.09,1.09)">
<use href="#mt"/>
<use href="#mp" fill="url(#mg)"/><use href="#mp" fill="url(#nz)"/>
<g clip-path="url(#mc)">
<ellipse cx="-1.63" cy="13.35" rx="1.21" ry="2.04" fill="#3440d0" />
<ellipse cx="0.4" cy="18.25" rx="1.75" ry="2.06" fill="#3440d0" />
<ellipse cx="1.57" cy="15.92" rx="1.56" ry="1.33" fill="#3440d0" />
</g>
<ellipse cx="-3.22" cy="18.13" rx="1.7" ry="1.6" fill="url(#bspot)" />
</g>
<g transform="translate(316.2,362.8) scale(1.09,1.09)">
<use href="#mt"/>
<use href="#mp" fill="url(#mg)"/><use href="#mp" fill="url(#nz)"/>
<g clip-path="url(#mc)">
<ellipse cx="0.85" cy="11.41" rx="1.27" ry="1.7" fill="#3440d0" />
<ellipse cx="-1.57" cy="18.88" rx="1.34" ry="1.89" fill="#3440d0" />
<ellipse cx="-1.57" cy="18.88" rx="1.15" ry="1.62" fill="#2ea8f0" />
<ellipse cx="-1.57" cy="18.88" rx="0.99" ry="1.4" fill="#48d8d0" />
<ellipse cx="-2.23" cy="10.68" rx="1.59" ry="1.42" fill="#3440d0" />
<ellipse cx="-2.23" cy="10.68" rx="1.37" ry="1.22" fill="#2ea8f0" />
</g>
<ellipse cx="-3.55" cy="18.64" rx="1.7" ry="1.6" fill="url(#bspot)" />
<ellipse cx="3.2" cy="17.92" rx="1.7" ry="1.6" fill="url(#bspot)" />
</g>
<g transform="translate(326.55,362.8) scale(1.09,1.09)">
<use href="#mt"/>
<use href="#mp" fill="url(#mg)"/><use href="#mp" fill="url(#nz)"/>
<g clip-path="url(#mc)">
<ellipse cx="2.06" cy="11.52" rx="1.45" ry="2" fill="#3440d0" />
<ellipse cx="2.06" cy="11.52" rx="1.25" ry="1.72" fill="#2ea8f0" />
<ellipse cx="0.97" cy="14.23" rx="1.72" ry="1.76" fill="#3440d0" />
<ellipse cx="0.97" cy="14.23" rx="1.48" ry="1.51" fill="#2ea8f0" />
<ellipse cx="0.97" cy="14.23" rx="1.27" ry="1.3" fill="#48d8d0" />
<ellipse cx="1.52" cy="4.75" rx="1.35" ry="2.01" fill="#3440d0" />
</g>
<ellipse cx="-3.13" cy="18.96" rx="1.7" ry="1.6" fill="url(#bspot)" />
<ellipse cx="3.43" cy="18.63" rx="1.7" ry="1.6" fill="url(#bspot)" />
</g>
<g transform="translate(336.29,362.8) scale(1.09,1.09)">
<use href="#mt"/>
<use href="#mp" fill="url(#mg)"/><use href="#mp" fill="url(#nz)"/>
<g clip-path="url(#mc)">
<ellipse cx="-0.94" cy="11.86" rx="1.02" ry="0.98" fill="#3440d0" />
</g>
</g>
<g transform="translate(347.16,362.8) scale(1.09,1.09)">
<use href="#mt"/>
<use href="#mp" fill="url(#mg)"/><use href="#mp" fill="url(#nz)"/>
<g clip-path="url(#mc)">
<ellipse cx="-1.07" cy="11.95" rx="1.84" ry="1.5" fill="#3440d0" />
<ellipse cx="-1.07" cy="11.95" rx="1.58" ry="1.29" fill="#2ea8f0" />
<ellipse cx="-1.07" cy="11.95" rx="1.36" ry="1.11" fill="#48d8d0" />
<ellipse cx="-0.42" cy="6.45" rx="1.26" ry="1.52" fill="#3440d0" />
<ellipse cx="1.14" cy="14.52" rx="2.2" ry="2.4" fill="#3440d0" />
<ellipse cx="1.14" cy="14.52" rx="1.7" ry="1.9" fill="#48d8d0" />
<ellipse cx="1.14" cy="14.52" rx="1.3" ry="1.4" fill="#f2e82a" />
<ellipse cx="1.14" cy="14.52" rx="1" ry="1.1" fill="#e82a14" />
</g>
</g>
<rect x="358.2" y="362" width="105.4" height="28.3" fill="#161616" />
<g transform="translate(363.39,362.8) scale(1.09,1.09)">
<use href="#mt"/>
<use href="#mp" fill="url(#mg)"/><use href="#mp" fill="url(#nz)"/>
<g clip-path="url(#mc)">
<ellipse cx="2.21" cy="6.77" rx="1.81" ry="3.01" fill="#3440d0" />
<ellipse cx="-2.05" cy="13.17" rx="1.73" ry="2.38" fill="#3440d0" />
<ellipse cx="-0.32" cy="11.29" rx="2.28" ry="2.53" fill="#3440d0" />
<ellipse cx="-0.74" cy="17.99" rx="2.34" ry="2.12" fill="#3440d0" />
<ellipse cx="1.73" cy="7.28" rx="1.07" ry="1.02" fill="#3440d0" />
<ellipse cx="1.73" cy="7.28" rx="0.92" ry="0.88" fill="#2ea8f0" />
<ellipse cx="-0.85" cy="16.92" rx="1.03" ry="0.87" fill="#3440d0" />
<ellipse cx="-0.85" cy="16.92" rx="0.89" ry="0.75" fill="#2ea8f0" />
<ellipse cx="-0.85" cy="16.92" rx="0.76" ry="0.64" fill="#48d8d0" />
<ellipse cx="-0.85" cy="16.92" rx="0.65" ry="0.55" fill="#78d848" />
</g>
<ellipse cx="-3.34" cy="18.84" rx="1.7" ry="1.6" fill="url(#bspot)" />
<ellipse cx="3.18" cy="18.49" rx="1.7" ry="1.6" fill="url(#bspot)" />
</g>
<g transform="translate(373.97,362.8) scale(1.09,1.09)">
<use href="#mt"/>
<use href="#mp" fill="url(#mg)"/><use href="#mp" fill="url(#nz)"/>
<g clip-path="url(#mc)">
<ellipse cx="1.93" cy="12.46" rx="1.45" ry="2.06" fill="#3440d0" />
<ellipse cx="1.52" cy="8.61" rx="1.11" ry="1.61" fill="#3440d0" />
<ellipse cx="1.52" cy="8.61" rx="0.95" ry="1.38" fill="#2ea8f0" />
<ellipse cx="1.52" cy="8.61" rx="0.82" ry="1.19" fill="#48d8d0" />
<ellipse cx="1.69" cy="6.36" rx="1.64" ry="1.65" fill="#3440d0" />
<ellipse cx="1.69" cy="6.36" rx="1.41" ry="1.42" fill="#2ea8f0" />
<ellipse cx="-0.31" cy="17.66" rx="2.2" ry="2.4" fill="#3440d0" />
<ellipse cx="-0.31" cy="17.66" rx="1.7" ry="1.9" fill="#48d8d0" />
<ellipse cx="-0.31" cy="17.66" rx="1.3" ry="1.4" fill="#f2e82a" />
<ellipse cx="-0.31" cy="17.66" rx="1" ry="1.1" fill="#e82a14" />
</g>
<ellipse cx="-3.46" cy="18.75" rx="1.7" ry="1.6" fill="url(#bspot)" />
<ellipse cx="3.57" cy="17.91" rx="1.7" ry="1.6" fill="url(#bspot)" />
</g>
<g transform="translate(384.2,362.8) scale(1.09,1.09)">
<use href="#mt"/>
<use href="#mp" fill="url(#mg)"/><use href="#mp" fill="url(#nz)"/>
<g clip-path="url(#mc)">
<ellipse cx="0.19" cy="13.41" rx="2.1" ry="3.12" fill="#3440d0" />
<ellipse cx="1.18" cy="14.09" rx="1.86" ry="2.76" fill="#3440d0" />
<ellipse cx="1.21" cy="13.17" rx="2.37" ry="2.32" fill="#3440d0" />
<ellipse cx="2.06" cy="20.95" rx="2.14" ry="2.37" fill="#3440d0" />
<ellipse cx="0.16" cy="9.7" rx="2.2" ry="2.87" fill="#3440d0" />
<ellipse cx="-1.54" cy="10.02" rx="1" ry="0.88" fill="#3440d0" />
<ellipse cx="-1.54" cy="10.02" rx="0.86" ry="0.76" fill="#2ea8f0" />
<ellipse cx="-1.54" cy="10.02" rx="0.74" ry="0.65" fill="#48d8d0" />
<ellipse cx="0.28" cy="6.66" rx="0.85" ry="1.25" fill="#3440d0" />
<ellipse cx="0.28" cy="6.66" rx="0.73" ry="1.07" fill="#2ea8f0" />
<ellipse cx="-0.16" cy="17.99" rx="1.8" ry="2" fill="#48d8d0" />
<ellipse cx="-0.16" cy="17.99" rx="1.3" ry="1.5" fill="#f2e82a" />
<ellipse cx="-0.16" cy="17.99" rx="0.9" ry="1" fill="#e82a14" />
</g>
<ellipse cx="-3.58" cy="18.62" rx="1.7" ry="1.6" fill="url(#bspot)" />
<ellipse cx="3.37" cy="18.31" rx="1.7" ry="1.6" fill="url(#bspot)" />
</g>
<g transform="translate(395.41,362.8) scale(1.09,1.09)">
<use href="#mt"/>
<use href="#mp" fill="url(#mg)"/><use href="#mp" fill="url(#nz)"/>
<g clip-path="url(#mc)">
<ellipse cx="-1.12" cy="17.12" rx="2.15" ry="3.16" fill="#3440d0" />
<ellipse cx="-1.14" cy="16.67" rx="1.42" ry="2.83" fill="#3440d0" />
<ellipse cx="2.17" cy="11.8" rx="1.96" ry="1.98" fill="#3440d0" />
<ellipse cx="0.84" cy="17.46" rx="1.42" ry="1.89" fill="#3440d0" />
<ellipse cx="0.49" cy="16.47" rx="1.58" ry="3.06" fill="#3440d0" />
<ellipse cx="-1.88" cy="8.86" rx="0.84" ry="1.11" fill="#3440d0" />
<ellipse cx="-1.88" cy="8.86" rx="0.72" ry="0.95" fill="#2ea8f0" />
<ellipse cx="1.28" cy="17.78" rx="0.84" ry="1.16" fill="#3440d0" />
<ellipse cx="1.28" cy="17.78" rx="0.73" ry="1" fill="#2ea8f0" />
<ellipse cx="1.28" cy="17.78" rx="0.62" ry="0.86" fill="#48d8d0" />
<ellipse cx="1.28" cy="17.78" rx="0.53" ry="0.73" fill="#78d848" />
<ellipse cx="0.55" cy="10.47" rx="1.8" ry="2" fill="#48d8d0" />
<ellipse cx="0.55" cy="10.47" rx="1.3" ry="1.5" fill="#f2e82a" />
<ellipse cx="0.55" cy="10.47" rx="0.9" ry="1" fill="#e82a14" />
</g>
<ellipse cx="-3.48" cy="18.15" rx="1.7" ry="1.6" fill="url(#bspot)" />
<ellipse cx="3.12" cy="18.12" rx="1.7" ry="1.6" fill="url(#bspot)" />
</g>
<g transform="translate(405.51,362.8) scale(1.09,1.09)">
<use href="#mt"/>
<use href="#mp" fill="url(#mg)"/><use href="#mp" fill="url(#nz)"/>
<g clip-path="url(#mc)">
<ellipse cx="-0.69" cy="13.04" rx="1.4" ry="2" fill="#3440d0" />
<ellipse cx="0.13" cy="15.37" rx="1.25" ry="1.52" fill="#3440d0" />
<ellipse cx="0.13" cy="15.37" rx="1.08" ry="1.3" fill="#2ea8f0" />
<ellipse cx="0.13" cy="15.37" rx="0.93" ry="1.12" fill="#48d8d0" />
<ellipse cx="0.03" cy="5.9" rx="1.18" ry="1.55" fill="#3440d0" />
<ellipse cx="0.03" cy="5.9" rx="1.01" ry="1.33" fill="#2ea8f0" />
<ellipse cx="0.03" cy="5.9" rx="0.87" ry="1.14" fill="#48d8d0" />
<ellipse cx="0.05" cy="13.78" rx="1.26" ry="1.89" fill="#3440d0" />
</g>
</g>
<g transform="translate(415.95,362.8) scale(1.09,1.09)">
<use href="#mt"/>
<use href="#mp" fill="url(#mg)"/><use href="#mp" fill="url(#nz)"/>
<g clip-path="url(#mc)">
<ellipse cx="-1.47" cy="9.8" rx="1.74" ry="1.98" fill="#3440d0" />
<ellipse cx="-0.55" cy="19.02" rx="1.81" ry="1.95" fill="#3440d0" />
</g>
<ellipse cx="-3.1" cy="18.65" rx="1.7" ry="1.6" fill="url(#bspot)" />
<ellipse cx="3.54" cy="17.98" rx="1.7" ry="1.6" fill="url(#bspot)" />
</g>
<g transform="translate(427.07,362.8) scale(1.09,1.09)">
<use href="#mt"/>
<use href="#mp" fill="url(#mg)"/><use href="#mp" fill="url(#nz)"/>
<g clip-path="url(#mc)">
<ellipse cx="0.34" cy="12.6" rx="0.89" ry="0.92" fill="#3440d0" />
</g>
</g>
<g transform="translate(437.46,362.8) scale(1.09,1.09)">
<use href="#mt"/>
<use href="#mp" fill="url(#mg)"/><use href="#mp" fill="url(#nz)"/>
<g clip-path="url(#mc)">
<ellipse cx="-1.39" cy="13.86" rx="0.91" ry="0.91" fill="#3440d0" />
<ellipse cx="1.23" cy="16.46" rx="1.08" ry="1.08" fill="#3440d0" />
</g>
<ellipse cx="3.67" cy="18.82" rx="1.7" ry="1.6" fill="url(#bspot)" />
</g>
<g transform="translate(447.4,362.8) scale(1.09,1.09)">
<use href="#mt"/>
<use href="#mp" fill="url(#mg)"/><use href="#mp" fill="url(#nz)"/>
<g clip-path="url(#mc)">
<ellipse cx="0.45" cy="6.09" rx="1.26" ry="1.8" fill="#3440d0" />
<ellipse cx="0.45" cy="6.09" rx="1.08" ry="1.55" fill="#2ea8f0" />
<ellipse cx="-1.27" cy="13.36" rx="1.55" ry="1.4" fill="#3440d0" />
<ellipse cx="-2.05" cy="4.65" rx="1.41" ry="2.02" fill="#3440d0" />
</g>
<ellipse cx="3.16" cy="18.96" rx="1.7" ry="1.6" fill="url(#bspot)" />
</g>
<g transform="translate(458.02,362.8) scale(1.09,1.09)">
<use href="#mt"/>
<use href="#mp" fill="url(#mg)"/><use href="#mp" fill="url(#nz)"/>
<g clip-path="url(#mc)">
<ellipse cx="1.77" cy="12.2" rx="1.84" ry="2.02" fill="#3440d0" />
<ellipse cx="1.77" cy="12.2" rx="1.58" ry="1.74" fill="#2ea8f0" />
<ellipse cx="-1.25" cy="17.86" rx="1.38" ry="1.38" fill="#3440d0" />
<ellipse cx="0.18" cy="15.71" rx="1.58" ry="1.6" fill="#3440d0" />
<ellipse cx="0.18" cy="15.71" rx="1.36" ry="1.37" fill="#2ea8f0" />
<ellipse cx="-1.32" cy="18.45" rx="1.66" ry="1.44" fill="#3440d0" />
<ellipse cx="0.66" cy="12.59" rx="2.2" ry="2.4" fill="#3440d0" />
<ellipse cx="0.66" cy="12.59" rx="1.7" ry="1.9" fill="#48d8d0" />
<ellipse cx="0.66" cy="12.59" rx="1.3" ry="1.4" fill="#f2e82a" />
<ellipse cx="0.66" cy="12.59" rx="1" ry="1.1" fill="#e82a14" />
</g>
<ellipse cx="-3.61" cy="18.04" rx="1.7" ry="1.6" fill="url(#bspot)" />
<ellipse cx="3.22" cy="17.79" rx="1.7" ry="1.6" fill="url(#bspot)" />
</g>
<rect x="249.2" y="394.9" width="102.8" height="27.6" fill="#161616" />
<g transform="translate(254.64,395.7) scale(1.06,1.06)">
<use href="#mt"/>
<use href="#mp" fill="url(#mg)"/><use href="#mp" fill="url(#nz)"/>
<g clip-path="url(#mc)">
<ellipse cx="0.42" cy="4.95" rx="1.4" ry="2.53" fill="#3440d0" />
<ellipse cx="0.37" cy="8.27" rx="2.25" ry="2.03" fill="#3440d0" />
<ellipse cx="2.02" cy="4.8" rx="1.8" ry="3.1" fill="#3440d0" />
<ellipse cx="1.8" cy="14.08" rx="2.23" ry="2.5" fill="#3440d0" />
<ellipse cx="1.93" cy="15.18" rx="2.11" ry="2.06" fill="#3440d0" />
<ellipse cx="-0.91" cy="18.64" rx="1.1" ry="1.26" fill="#3440d0" />
<ellipse cx="-0.91" cy="18.64" rx="0.94" ry="1.08" fill="#2ea8f0" />
<ellipse cx="2.06" cy="19.99" rx="0.95" ry="0.86" fill="#3440d0" />
<ellipse cx="2.06" cy="19.99" rx="0.82" ry="0.74" fill="#2ea8f0" />
<ellipse cx="2.06" cy="19.99" rx="0.7" ry="0.64" fill="#48d8d0" />
<ellipse cx="2.06" cy="19.99" rx="0.6" ry="0.54" fill="#78d848" />
</g>
<ellipse cx="-3.17" cy="19.16" rx="1.7" ry="1.6" fill="url(#bspot)" />
<ellipse cx="3.69" cy="18.78" rx="1.7" ry="1.6" fill="url(#bspot)" />
</g>
<g transform="translate(264.53,395.7) scale(1.06,1.06)">
<use href="#mt"/>
<use href="#mp" fill="url(#mg)"/><use href="#mp" fill="url(#nz)"/>
<g clip-path="url(#mc)">
<ellipse cx="1.82" cy="12.95" rx="1.05" ry="1.1" fill="#3440d0" />
<ellipse cx="0.58" cy="10.29" rx="0.92" ry="1.25" fill="#3440d0" />
<ellipse cx="1.5" cy="12.32" rx="1.16" ry="1.13" fill="#3440d0" />
</g>
<ellipse cx="-3.28" cy="18.5" rx="1.7" ry="1.6" fill="url(#bspot)" />
<ellipse cx="3.43" cy="18.96" rx="1.7" ry="1.6" fill="url(#bspot)" />
</g>
<g transform="translate(274.81,395.7) scale(1.06,1.06)">
<use href="#mt"/>
<use href="#mp" fill="url(#mg)"/><use href="#mp" fill="url(#nz)"/>
<g clip-path="url(#mc)">
<ellipse cx="2.24" cy="13.31" rx="1.11" ry="1.37" fill="#3440d0" />
<ellipse cx="0.53" cy="6.97" rx="1.71" ry="1.58" fill="#3440d0" />
<ellipse cx="0.53" cy="6.97" rx="1.47" ry="1.36" fill="#2ea8f0" />
<ellipse cx="0.53" cy="6.97" rx="1.26" ry="1.17" fill="#48d8d0" />
<ellipse cx="0.02" cy="6.67" rx="1.13" ry="1.83" fill="#3440d0" />
</g>
<ellipse cx="-3.11" cy="18.03" rx="1.7" ry="1.6" fill="url(#bspot)" />
</g>
<g transform="translate(285.52,395.7) scale(1.06,1.06)">
<use href="#mt"/>
<use href="#mp" fill="url(#mg)"/><use href="#mp" fill="url(#nz)"/>
<g clip-path="url(#mc)">
<ellipse cx="-0.95" cy="17.81" rx="1.19" ry="1.3" fill="#3440d0" />
<ellipse cx="-0.3" cy="13.97" rx="1.17" ry="1.89" fill="#3440d0" />
<ellipse cx="1.83" cy="7.76" rx="1.2" ry="1.53" fill="#3440d0" />
<ellipse cx="1.83" cy="7.76" rx="1.03" ry="1.31" fill="#2ea8f0" />
<ellipse cx="1.83" cy="7.76" rx="0.89" ry="1.13" fill="#48d8d0" />
<ellipse cx="-1.39" cy="13.88" rx="1.32" ry="1.98" fill="#3440d0" />
<ellipse cx="-1.39" cy="13.88" rx="1.13" ry="1.7" fill="#2ea8f0" />
</g>
<ellipse cx="-3.14" cy="18.44" rx="1.7" ry="1.6" fill="url(#bspot)" />
<ellipse cx="3.56" cy="18.56" rx="1.7" ry="1.6" fill="url(#bspot)" />
</g>
<g transform="translate(295.83,395.7) scale(1.06,1.06)">
<use href="#mt"/>
<use href="#mp" fill="url(#mg)"/><use href="#mp" fill="url(#nz)"/>
<g clip-path="url(#mc)">
<ellipse cx="1.25" cy="13.24" rx="1.14" ry="1.87" fill="#3440d0" />
<ellipse cx="1.2" cy="14.61" rx="1.38" ry="1.53" fill="#3440d0" />
<ellipse cx="-0.83" cy="10.21" rx="1.62" ry="1.3" fill="#3440d0" />
</g>
</g>
<g transform="translate(305.56,395.7) scale(1.06,1.06)">
<use href="#mt"/>
<use href="#mp" fill="url(#mg)"/><use href="#mp" fill="url(#nz)"/>
<g clip-path="url(#mc)">
<ellipse cx="2.17" cy="3.63" rx="2.09" ry="2.59" fill="#3440d0" />
<ellipse cx="-0.78" cy="19.92" rx="2.08" ry="2.24" fill="#3440d0" />
<ellipse cx="1.72" cy="10.97" rx="1.87" ry="2.47" fill="#3440d0" />
<ellipse cx="-0.13" cy="3.46" rx="2.22" ry="2.22" fill="#3440d0" />
<ellipse cx="-0.26" cy="6.17" rx="1.97" ry="1.9" fill="#3440d0" />
<ellipse cx="-2.26" cy="7.37" rx="1.05" ry="1.14" fill="#3440d0" />
<ellipse cx="-2.26" cy="7.37" rx="0.9" ry="0.98" fill="#2ea8f0" />
<ellipse cx="-2.26" cy="7.37" rx="0.78" ry="0.84" fill="#48d8d0" />
<ellipse cx="-2.26" cy="7.37" rx="0.66" ry="0.72" fill="#78d848" />
<ellipse cx="-0.4" cy="12.73" rx="1.09" ry="1.18" fill="#3440d0" />
<ellipse cx="-0.4" cy="12.73" rx="0.94" ry="1.02" fill="#2ea8f0" />
<ellipse cx="-0.4" cy="12.73" rx="0.81" ry="0.87" fill="#48d8d0" />
</g>
<ellipse cx="-3.23" cy="17.69" rx="1.7" ry="1.6" fill="url(#bspot)" />
<ellipse cx="3.7" cy="18.78" rx="1.7" ry="1.6" fill="url(#bspot)" />
</g>
<g transform="translate(316.26,395.7) scale(1.06,1.06)">
<use href="#mt"/>
<use href="#mp" fill="url(#mg)"/><use href="#mp" fill="url(#nz)"/>
<g clip-path="url(#mc)">
<ellipse cx="1.45" cy="12.57" rx="2.04" ry="3.07" fill="#3440d0" />
<ellipse cx="-1.64" cy="3.22" rx="2.34" ry="2.56" fill="#3440d0" />
<ellipse cx="0.37" cy="4.19" rx="1.42" ry="2.49" fill="#3440d0" />
<ellipse cx="0.04" cy="7.56" rx="1.96" ry="2.24" fill="#3440d0" />
<ellipse cx="-0.03" cy="6.17" rx="2.06" ry="3.11" fill="#3440d0" />
<ellipse cx="0.17" cy="15.61" rx="1.78" ry="2.21" fill="#3440d0" />
<ellipse cx="-2.28" cy="9.39" rx="1.08" ry="0.93" fill="#3440d0" />
<ellipse cx="-2.28" cy="9.39" rx="0.93" ry="0.8" fill="#2ea8f0" />
<ellipse cx="-2.28" cy="9.39" rx="0.8" ry="0.69" fill="#48d8d0" />
<ellipse cx="-2.28" cy="9.39" rx="0.68" ry="0.58" fill="#78d848" />
<ellipse cx="-0.44" cy="11.34" rx="0.87" ry="0.96" fill="#3440d0" />
<ellipse cx="-0.44" cy="11.34" rx="0.75" ry="0.83" fill="#2ea8f0" />
<ellipse cx="-0.44" cy="11.34" rx="0.64" ry="0.71" fill="#48d8d0" />
<ellipse cx="0.33" cy="12.25" rx="1.8" ry="2" fill="#48d8d0" />
<ellipse cx="0.33" cy="12.25" rx="1.3" ry="1.5" fill="#f2e82a" />
<ellipse cx="0.33" cy="12.25" rx="0.9" ry="1" fill="#e82a14" />
</g>
<ellipse cx="-3.52" cy="18.85" rx="1.7" ry="1.6" fill="url(#bspot)" />
<ellipse cx="3.69" cy="18.21" rx="1.7" ry="1.6" fill="url(#bspot)" />
</g>
<g transform="translate(326.6,395.7) scale(1.06,1.06)">
<use href="#mt"/>
<use href="#mp" fill="url(#mg)"/><use href="#mp" fill="url(#nz)"/>
<g clip-path="url(#mc)">
<ellipse cx="1.03" cy="16.35" rx="2.03" ry="2.87" fill="#3440d0" />
<ellipse cx="1.95" cy="18.82" rx="1.48" ry="2.47" fill="#3440d0" />
<ellipse cx="1.39" cy="19.75" rx="1.88" ry="2.93" fill="#3440d0" />
<ellipse cx="1.97" cy="19.67" rx="1.67" ry="2.4" fill="#3440d0" />
<ellipse cx="-2.07" cy="7.52" rx="1.58" ry="2.19" fill="#3440d0" />
<ellipse cx="-0.48" cy="13.69" rx="0.72" ry="1.08" fill="#3440d0" />
<ellipse cx="-0.48" cy="13.69" rx="0.62" ry="0.93" fill="#2ea8f0" />
<ellipse cx="-0.48" cy="13.69" rx="0.53" ry="0.8" fill="#48d8d0" />
<ellipse cx="-0.48" cy="13.69" rx="0.45" ry="0.68" fill="#78d848" />
<ellipse cx="-2.18" cy="5.94" rx="1.06" ry="0.83" fill="#3440d0" />
<ellipse cx="-2.18" cy="5.94" rx="0.91" ry="0.71" fill="#2ea8f0" />
<ellipse cx="-0.09" cy="12.73" rx="1.8" ry="2" fill="#48d8d0" />
<ellipse cx="-0.09" cy="12.73" rx="1.3" ry="1.5" fill="#f2e82a" />
<ellipse cx="-0.09" cy="12.73" rx="0.9" ry="1" fill="#e82a14" />
</g>
<ellipse cx="-3.5" cy="17.89" rx="1.7" ry="1.6" fill="url(#bspot)" />
<ellipse cx="3.53" cy="17.6" rx="1.7" ry="1.6" fill="url(#bspot)" />
</g>
<g transform="translate(336.62,395.7) scale(1.06,1.06)">
<use href="#mt"/>
<use href="#mp" fill="url(#mg)"/><use href="#mp" fill="url(#nz)"/>
<g clip-path="url(#mc)">
<ellipse cx="-1.09" cy="14.62" rx="2.38" ry="3.08" fill="#3440d0" />
<ellipse cx="1.81" cy="7.55" rx="2.15" ry="3.14" fill="#3440d0" />
<ellipse cx="-1.73" cy="10.83" rx="1.75" ry="2.24" fill="#3440d0" />
<ellipse cx="0.34" cy="6.85" rx="2.16" ry="2.21" fill="#3440d0" />
<ellipse cx="0.97" cy="20.99" rx="1.74" ry="2.68" fill="#3440d0" />
<ellipse cx="0.48" cy="6.33" rx="1.53" ry="1.98" fill="#3440d0" />
<ellipse cx="-0.9" cy="5.61" rx="0.99" ry="0.99" fill="#3440d0" />
<ellipse cx="-0.9" cy="5.61" rx="0.85" ry="0.85" fill="#2ea8f0" />
<ellipse cx="-0.9" cy="5.61" rx="0.73" ry="0.73" fill="#48d8d0" />
<ellipse cx="-0.9" cy="5.61" rx="0.62" ry="0.62" fill="#78d848" />
<ellipse cx="-0.53" cy="8.55" rx="0.78" ry="1.22" fill="#3440d0" />
<ellipse cx="-0.53" cy="8.55" rx="0.67" ry="1.05" fill="#2ea8f0" />
<ellipse cx="-0.53" cy="8.55" rx="0.57" ry="0.9" fill="#48d8d0" />
<ellipse cx="-0.53" cy="8.55" rx="0.49" ry="0.77" fill="#78d848" />
<ellipse cx="0.45" cy="11.14" rx="1.8" ry="2" fill="#48d8d0" />
<ellipse cx="0.45" cy="11.14" rx="1.3" ry="1.5" fill="#f2e82a" />
<ellipse cx="0.45" cy="11.14" rx="0.9" ry="1" fill="#e82a14" />
</g>
<ellipse cx="-3.39" cy="17.93" rx="1.7" ry="1.6" fill="url(#bspot)" />
<ellipse cx="3.55" cy="18.73" rx="1.7" ry="1.6" fill="url(#bspot)" />
</g>
<g transform="translate(347.1,395.7) scale(1.06,1.06)">
<use href="#mt"/>
<use href="#mp" fill="url(#mg)"/><use href="#mp" fill="url(#nz)"/>
<g clip-path="url(#mc)">
<ellipse cx="-0.67" cy="18.78" rx="1.48" ry="2.25" fill="#3440d0" />
<ellipse cx="0.53" cy="3.81" rx="1.59" ry="2.09" fill="#3440d0" />
<ellipse cx="-1.61" cy="14.3" rx="1.91" ry="2.69" fill="#3440d0" />
<ellipse cx="-2.58" cy="15.02" rx="2.23" ry="2.34" fill="#3440d0" />
<ellipse cx="2.37" cy="5.91" rx="1.9" ry="2.69" fill="#3440d0" />
<ellipse cx="2.31" cy="5.3" rx="0.92" ry="0.9" fill="#3440d0" />
<ellipse cx="2.31" cy="5.3" rx="0.79" ry="0.77" fill="#2ea8f0" />
<ellipse cx="-1.01" cy="4.32" rx="0.78" ry="1.28" fill="#3440d0" />
<ellipse cx="-1.01" cy="4.32" rx="0.67" ry="1.1" fill="#2ea8f0" />
<ellipse cx="1.15" cy="11.72" rx="1.8" ry="2" fill="#48d8d0" />
<ellipse cx="1.15" cy="11.72" rx="1.3" ry="1.5" fill="#f2e82a" />
<ellipse cx="1.15" cy="11.72" rx="0.9" ry="1" fill="#e82a14" />
</g>
<ellipse cx="-3.1" cy="18.51" rx="1.7" ry="1.6" fill="url(#bspot)" />
<ellipse cx="3.47" cy="18.05" rx="1.7" ry="1.6" fill="url(#bspot)" />
</g>
<rect x="358.2" y="394.9" width="105.4" height="27.6" fill="#161616" />
<g transform="translate(363.42,395.7) scale(1.06,1.06)">
<use href="#mt"/>
<use href="#mp" fill="url(#mg)"/><use href="#mp" fill="url(#nz)"/>
<g clip-path="url(#mc)">
<ellipse cx="0.19" cy="11.94" rx="2.23" ry="2.12" fill="#3440d0" />
<ellipse cx="2.47" cy="12.33" rx="1.5" ry="2.83" fill="#3440d0" />
<ellipse cx="-1.41" cy="20.51" rx="2.08" ry="2.08" fill="#3440d0" />
<ellipse cx="2.41" cy="8.8" rx="2.35" ry="1.81" fill="#3440d0" />
<ellipse cx="-0.97" cy="14.02" rx="0.81" ry="0.97" fill="#3440d0" />
<ellipse cx="-0.97" cy="14.02" rx="0.7" ry="0.83" fill="#2ea8f0" />
<ellipse cx="-2.01" cy="8.68" rx="0.79" ry="0.81" fill="#3440d0" />
<ellipse cx="-2.01" cy="8.68" rx="0.68" ry="0.7" fill="#2ea8f0" />
<ellipse cx="-2.01" cy="8.68" rx="0.58" ry="0.6" fill="#48d8d0" />
<ellipse cx="-2.01" cy="8.68" rx="0.5" ry="0.51" fill="#78d848" />
</g>
<ellipse cx="-3.62" cy="18.08" rx="1.7" ry="1.6" fill="url(#bspot)" />
<ellipse cx="3.46" cy="17.78" rx="1.7" ry="1.6" fill="url(#bspot)" />
</g>
<g transform="translate(374.37,395.7) scale(1.06,1.06)">
<use href="#mt"/>
<use href="#mp" fill="url(#mg)"/><use href="#mp" fill="url(#nz)"/>
<g clip-path="url(#mc)">
<ellipse cx="2.39" cy="19.74" rx="1.34" ry="1.29" fill="#3440d0" />
<ellipse cx="-1.41" cy="14.9" rx="1.22" ry="1.65" fill="#3440d0" />
<ellipse cx="2.17" cy="9.74" rx="1.44" ry="1.93" fill="#3440d0" />
<ellipse cx="2.17" cy="9.74" rx="1.24" ry="1.66" fill="#2ea8f0" />
<ellipse cx="2.17" cy="9.74" rx="1.07" ry="1.43" fill="#48d8d0" />
</g>
<ellipse cx="-3.14" cy="19.16" rx="1.7" ry="1.6" fill="url(#bspot)" />
<ellipse cx="3.53" cy="18.01" rx="1.7" ry="1.6" fill="url(#bspot)" />
</g>
<g transform="translate(384.33,395.7) scale(1.06,1.06)">
<use href="#mt"/>
<use href="#mp" fill="url(#mg)"/><use href="#mp" fill="url(#nz)"/>
<g clip-path="url(#mc)">
<ellipse cx="1.76" cy="16.03" rx="1.98" ry="2.48" fill="#3440d0" />
<ellipse cx="2.35" cy="11.38" rx="1.66" ry="2.22" fill="#3440d0" />
<ellipse cx="-0.65" cy="10.32" rx="1.67" ry="2.33" fill="#3440d0" />
<ellipse cx="1.87" cy="5.75" rx="1.53" ry="2.12" fill="#3440d0" />
<ellipse cx="-1.71" cy="20.7" rx="2.23" ry="2.96" fill="#3440d0" />
<ellipse cx="-2.39" cy="14.75" rx="0.99" ry="0.9" fill="#3440d0" />
<ellipse cx="-2.39" cy="14.75" rx="0.85" ry="0.77" fill="#2ea8f0" />
<ellipse cx="-2.39" cy="14.75" rx="0.73" ry="0.67" fill="#48d8d0" />
<ellipse cx="-0.85" cy="9.52" rx="0.71" ry="1.03" fill="#3440d0" />
<ellipse cx="-0.85" cy="9.52" rx="0.61" ry="0.89" fill="#2ea8f0" />
</g>
<ellipse cx="-3.24" cy="19" rx="1.7" ry="1.6" fill="url(#bspot)" />
<ellipse cx="3.59" cy="17.9" rx="1.7" ry="1.6" fill="url(#bspot)" />
</g>
<g transform="translate(395.19,395.7) scale(1.06,1.06)">
<use href="#mt"/>
<use href="#mp" fill="url(#mg)"/><use href="#mp" fill="url(#nz)"/>
<g clip-path="url(#mc)">
<ellipse cx="0.77" cy="17.45" rx="1.38" ry="1.8" fill="#3440d0" />
<ellipse cx="0.77" cy="17.45" rx="1.19" ry="1.55" fill="#2ea8f0" />
<ellipse cx="2.37" cy="7.79" rx="1.41" ry="1.54" fill="#3440d0" />
<ellipse cx="2.19" cy="12.18" rx="1.29" ry="1.95" fill="#3440d0" />
</g>
<ellipse cx="-3.56" cy="18.92" rx="1.7" ry="1.6" fill="url(#bspot)" />
</g>
<g transform="translate(405.98,395.7) scale(1.06,1.06)">
<use href="#mt"/>
<use href="#mp" fill="url(#mg)"/><use href="#mp" fill="url(#nz)"/>
<g clip-path="url(#mc)">
<ellipse cx="-0.4" cy="9.25" rx="1.58" ry="1.46" fill="#3440d0" />
<ellipse cx="-0.4" cy="9.25" rx="1.36" ry="1.25" fill="#2ea8f0" />
<ellipse cx="-0.4" cy="9.25" rx="1.17" ry="1.08" fill="#48d8d0" />
<ellipse cx="0.13" cy="16.22" rx="1.69" ry="1.39" fill="#3440d0" />
<ellipse cx="0.13" cy="16.22" rx="1.46" ry="1.19" fill="#2ea8f0" />
<ellipse cx="1.67" cy="4.61" rx="1.4" ry="2.04" fill="#3440d0" />
<ellipse cx="1.67" cy="4.61" rx="1.2" ry="1.75" fill="#2ea8f0" />
</g>
<ellipse cx="3.48" cy="18.97" rx="1.7" ry="1.6" fill="url(#bspot)" />
</g>
<g transform="translate(415.83,395.7) scale(1.06,1.06)">
<use href="#mt"/>
<use href="#mp" fill="url(#mg)"/><use href="#mp" fill="url(#nz)"/>
<g clip-path="url(#mc)">
<ellipse cx="-1.71" cy="8.62" rx="1.29" ry="1.61" fill="#3440d0" />
<ellipse cx="0.66" cy="6.88" rx="1.48" ry="2.03" fill="#3440d0" />
<ellipse cx="0.66" cy="6.88" rx="1.27" ry="1.74" fill="#2ea8f0" />
<ellipse cx="0.66" cy="6.88" rx="1.09" ry="1.5" fill="#48d8d0" />
<ellipse cx="-1.04" cy="12.16" rx="1.14" ry="1.48" fill="#3440d0" />
<ellipse cx="-1.04" cy="12.16" rx="0.98" ry="1.27" fill="#2ea8f0" />
</g>
</g>
<g transform="translate(426.59,395.7) scale(1.06,1.06)">
<use href="#mt"/>
<use href="#mp" fill="url(#mg)"/><use href="#mp" fill="url(#nz)"/>
<g clip-path="url(#mc)">
<ellipse cx="0.22" cy="10.94" rx="1.89" ry="1.47" fill="#3440d0" />
<ellipse cx="-0.68" cy="7.9" rx="1.62" ry="1.37" fill="#3440d0" />
<ellipse cx="-0.68" cy="7.9" rx="1.4" ry="1.18" fill="#2ea8f0" />
<ellipse cx="0.78" cy="18.47" rx="1.48" ry="1.81" fill="#3440d0" />
</g>
<ellipse cx="-3.26" cy="17.69" rx="1.7" ry="1.6" fill="url(#bspot)" />
<ellipse cx="3.4" cy="18.54" rx="1.7" ry="1.6" fill="url(#bspot)" />
</g>
<g transform="translate(437.23,395.7) scale(1.06,1.06)">
<use href="#mt"/>
<use href="#mp" fill="url(#mg)"/><use href="#mp" fill="url(#nz)"/>
<g clip-path="url(#mc)">
<ellipse cx="1.18" cy="5.34" rx="1.42" ry="1.4" fill="#3440d0" />
<ellipse cx="1.18" cy="5.34" rx="1.22" ry="1.2" fill="#2ea8f0" />
<ellipse cx="1.18" cy="5.34" rx="1.05" ry="1.04" fill="#48d8d0" />
<ellipse cx="-1.03" cy="8.67" rx="1.68" ry="1.75" fill="#3440d0" />
</g>
<ellipse cx="3.4" cy="18.93" rx="1.7" ry="1.6" fill="url(#bspot)" />
</g>
<g transform="translate(447.54,395.7) scale(1.06,1.06)">
<use href="#mt"/>
<use href="#mp" fill="url(#mg)"/><use href="#mp" fill="url(#nz)"/>
<g clip-path="url(#mc)">
<ellipse cx="2.08" cy="17.24" rx="1.72" ry="1.38" fill="#3440d0" />
<ellipse cx="0.72" cy="15.02" rx="1.47" ry="1.91" fill="#3440d0" />
<ellipse cx="0.72" cy="15.02" rx="1.26" ry="1.64" fill="#2ea8f0" />
</g>
<ellipse cx="3.54" cy="18.76" rx="1.7" ry="1.6" fill="url(#bspot)" />
</g>
<g transform="translate(458.27,395.7) scale(1.06,1.06)">
<use href="#mt"/>
<use href="#mp" fill="url(#mg)"/><use href="#mp" fill="url(#nz)"/>
<g clip-path="url(#mc)">
<ellipse cx="0.8" cy="11.14" rx="2.01" ry="2.92" fill="#3440d0" />
<ellipse cx="-2.26" cy="14.51" rx="1.53" ry="2.54" fill="#3440d0" />
<ellipse cx="-2.42" cy="18.02" rx="1.83" ry="2.62" fill="#3440d0" />
<ellipse cx="0.71" cy="11.2" rx="1.77" ry="2.97" fill="#3440d0" />
<ellipse cx="-0.92" cy="11.66" rx="1.88" ry="2.12" fill="#3440d0" />
<ellipse cx="2.42" cy="17.9" rx="2.33" ry="2.18" fill="#3440d0" />
<ellipse cx="1.06" cy="18.18" rx="0.95" ry="1.27" fill="#3440d0" />
<ellipse cx="1.06" cy="18.18" rx="0.82" ry="1.09" fill="#2ea8f0" />
<ellipse cx="1.06" cy="18.18" rx="0.7" ry="0.94" fill="#48d8d0" />
<ellipse cx="0.83" cy="8.76" rx="0.93" ry="0.98" fill="#3440d0" />
<ellipse cx="0.83" cy="8.76" rx="0.8" ry="0.84" fill="#2ea8f0" />
<ellipse cx="0.83" cy="8.76" rx="0.69" ry="0.72" fill="#48d8d0" />
<ellipse cx="0.12" cy="16.94" rx="1.8" ry="2" fill="#48d8d0" />
<ellipse cx="0.12" cy="16.94" rx="1.3" ry="1.5" fill="#f2e82a" />
<ellipse cx="0.12" cy="16.94" rx="0.9" ry="1" fill="#e82a14" />
</g>
<ellipse cx="-3.55" cy="18.8" rx="1.7" ry="1.6" fill="url(#bspot)" />
<ellipse cx="3.19" cy="19.17" rx="1.7" ry="1.6" fill="url(#bspot)" />
</g>
<rect x="249.2" y="427.1" width="102.8" height="28.4" fill="#161616" />
<g transform="translate(254.51,427.9) scale(1.07,1.09)">
<use href="#mt"/>
<use href="#mp" fill="#2a3ad8"/>
<g clip-path="url(#mc)">
<g filter="url(#bl)">
<ellipse cx="-2.51" cy="20.02" rx="2.62" ry="2.47" fill="#3440d0" />
<ellipse cx="-2.51" cy="20.02" rx="2.25" ry="2.12" fill="#2ea8f0" />
<ellipse cx="-2.51" cy="20.02" rx="1.94" ry="1.83" fill="#48d8d0" />
<ellipse cx="-2.51" cy="20.02" rx="1.65" ry="1.55" fill="#78d848" />
<ellipse cx="1.58" cy="7.19" rx="2.77" ry="2.84" fill="#3440d0" />
<ellipse cx="1.58" cy="7.19" rx="2.38" ry="2.44" fill="#2ea8f0" />
<ellipse cx="1.58" cy="7.19" rx="2.05" ry="2.1" fill="#48d8d0" />
<ellipse cx="1.58" cy="7.19" rx="1.75" ry="1.79" fill="#78d848" />
<ellipse cx="1.25" cy="8.81" rx="2.02" ry="2.96" fill="#3440d0" />
<ellipse cx="1.25" cy="8.81" rx="1.74" ry="2.55" fill="#2ea8f0" />
<ellipse cx="1.25" cy="8.81" rx="1.5" ry="2.19" fill="#48d8d0" />
<ellipse cx="1.25" cy="8.81" rx="1.27" ry="1.87" fill="#78d848" />
<ellipse cx="0.77" cy="7.08" rx="2.16" ry="2.82" fill="#3440d0" />
<ellipse cx="0.77" cy="7.08" rx="1.86" ry="2.43" fill="#2ea8f0" />
<ellipse cx="0.77" cy="7.08" rx="1.6" ry="2.09" fill="#48d8d0" />
<ellipse cx="0.77" cy="7.08" rx="1.36" ry="1.78" fill="#78d848" />
<ellipse cx="-0.6" cy="17.23" rx="2.31" ry="3.13" fill="#48d8d0" />
<ellipse cx="-0.6" cy="17.23" rx="1.93" ry="2.68" fill="#78d848" />
<ellipse cx="-0.6" cy="17.23" rx="1.54" ry="2.23" fill="#e82a14" />
<ellipse cx="-1.85" cy="16.06" rx="2.22" ry="2.77" fill="#48d8d0" />
<ellipse cx="-1.85" cy="16.06" rx="1.85" ry="2.38" fill="#78d848" />
<ellipse cx="-1.85" cy="16.06" rx="1.48" ry="1.98" fill="#e82a14" />
</g>
</g>
</g>
<g transform="translate(264.82,427.9) scale(1.07,1.09)">
<use href="#mt"/>
<use href="#mp" fill="#2a3ad8"/>
<g clip-path="url(#mc)">
<g filter="url(#bl)">
<ellipse cx="0.28" cy="14.36" rx="2.3" ry="2.91" fill="#3440d0" />
<ellipse cx="0.28" cy="14.36" rx="1.98" ry="2.5" fill="#2ea8f0" />
<ellipse cx="0.28" cy="14.36" rx="1.7" ry="2.15" fill="#48d8d0" />
<ellipse cx="2.04" cy="12.35" rx="1.96" ry="2.63" fill="#3440d0" />
<ellipse cx="2.04" cy="12.35" rx="1.68" ry="2.26" fill="#2ea8f0" />
<ellipse cx="2.04" cy="12.35" rx="1.45" ry="1.94" fill="#48d8d0" />
<ellipse cx="2.52" cy="9.38" rx="2.74" ry="3.11" fill="#3440d0" />
<ellipse cx="2.52" cy="9.38" rx="2.36" ry="2.67" fill="#2ea8f0" />
<ellipse cx="2.52" cy="9.38" rx="2.03" ry="2.3" fill="#48d8d0" />
<ellipse cx="2.52" cy="9.38" rx="1.73" ry="1.96" fill="#78d848" />
<ellipse cx="0.26" cy="11.7" rx="2.18" ry="3.18" fill="#3440d0" />
<ellipse cx="0.26" cy="11.7" rx="1.88" ry="2.74" fill="#2ea8f0" />
<ellipse cx="0.26" cy="11.7" rx="1.62" ry="2.36" fill="#48d8d0" />
<ellipse cx="0.52" cy="10.52" rx="3" ry="3.06" fill="#48d8d0" />
<ellipse cx="0.52" cy="10.52" rx="2.5" ry="2.62" fill="#78d848" />
<ellipse cx="0.52" cy="10.52" rx="2" ry="2.19" fill="#e82a14" />
<ellipse cx="1.88" cy="15.71" rx="2.29" ry="2.57" fill="#48d8d0" />
<ellipse cx="1.88" cy="15.71" rx="1.91" ry="2.2" fill="#78d848" />
<ellipse cx="1.88" cy="15.71" rx="1.53" ry="1.83" fill="#e82a14" />
</g>
</g>
</g>
<g transform="translate(274.78,427.9) scale(1.07,1.09)">
<use href="#mt"/>
<use href="#mp" fill="#2a3ad8"/>
<g clip-path="url(#mc)">
<g filter="url(#bl)">
<ellipse cx="1.1" cy="17.05" rx="2.51" ry="2.97" fill="#3440d0" />
<ellipse cx="1.1" cy="17.05" rx="2.16" ry="2.56" fill="#2ea8f0" />
<ellipse cx="1.1" cy="17.05" rx="1.86" ry="2.2" fill="#48d8d0" />
<ellipse cx="0.26" cy="18" rx="2.02" ry="3.4" fill="#3440d0" />
<ellipse cx="0.26" cy="18" rx="1.73" ry="2.92" fill="#2ea8f0" />
<ellipse cx="0.26" cy="18" rx="1.49" ry="2.51" fill="#48d8d0" />
<ellipse cx="0.26" cy="18" rx="1.27" ry="2.14" fill="#78d848" />
<ellipse cx="-2.01" cy="7.84" rx="2.09" ry="3.34" fill="#3440d0" />
<ellipse cx="-2.01" cy="7.84" rx="1.8" ry="2.88" fill="#2ea8f0" />
<ellipse cx="-2.25" cy="16.5" rx="2.11" ry="3.44" fill="#3440d0" />
<ellipse cx="-2.25" cy="16.5" rx="1.81" ry="2.96" fill="#2ea8f0" />
<ellipse cx="-2.25" cy="16.5" rx="1.56" ry="2.54" fill="#48d8d0" />
<ellipse cx="-2.25" cy="16.5" rx="1.33" ry="2.16" fill="#78d848" />
<ellipse cx="1.64" cy="19.9" rx="3.08" ry="2.52" fill="#48d8d0" />
<ellipse cx="1.64" cy="19.9" rx="2.56" ry="2.16" fill="#78d848" />
<ellipse cx="1.64" cy="19.9" rx="2.05" ry="1.8" fill="#e82a14" />
<ellipse cx="0.06" cy="8.03" rx="2.46" ry="3.69" fill="#48d8d0" />
<ellipse cx="0.06" cy="8.03" rx="2.05" ry="3.17" fill="#78d848" />
<ellipse cx="0.06" cy="8.03" rx="1.64" ry="2.64" fill="#e82a14" />
</g>
</g>
</g>
<g transform="translate(285.01,427.9) scale(1.07,1.09)">
<use href="#mt"/>
<use href="#mp" fill="#2a3ad8"/>
<g clip-path="url(#mc)">
<g filter="url(#bl)">
<ellipse cx="-1.03" cy="14.02" rx="0.83" ry="1.59" fill="#e8e8f0" />
<ellipse cx="0.11" cy="13.91" rx="1.44" ry="1.6" fill="#e8e8f0" />
<ellipse cx="1.35" cy="16.78" rx="0.9" ry="2.37" fill="#e8e8f0" />
<ellipse cx="-2.42" cy="8.55" rx="2.76" ry="3.51" fill="#3440d0" />
<ellipse cx="-2.42" cy="8.55" rx="2.37" ry="3.02" fill="#2ea8f0" />
<ellipse cx="-1.61" cy="13.8" rx="2.35" ry="3.13" fill="#3440d0" />
<ellipse cx="-1.61" cy="13.8" rx="2.03" ry="2.69" fill="#2ea8f0" />
<ellipse cx="-1.61" cy="13.8" rx="1.74" ry="2.32" fill="#48d8d0" />
<ellipse cx="-1.61" cy="13.8" rx="1.48" ry="1.97" fill="#78d848" />
<ellipse cx="1.4" cy="9.88" rx="2.76" ry="3.34" fill="#3440d0" />
<ellipse cx="1.4" cy="9.88" rx="2.38" ry="2.87" fill="#2ea8f0" />
<ellipse cx="1.4" cy="9.88" rx="2.05" ry="2.47" fill="#48d8d0" />
<ellipse cx="1.4" cy="9.88" rx="1.74" ry="2.11" fill="#78d848" />
<ellipse cx="-1.37" cy="16.92" rx="2.34" ry="2.87" fill="#3440d0" />
<ellipse cx="-1.37" cy="16.92" rx="2.01" ry="2.47" fill="#2ea8f0" />
<ellipse cx="1.56" cy="9.98" rx="2.17" ry="3.72" fill="#48d8d0" />
<ellipse cx="1.56" cy="9.98" rx="1.81" ry="3.19" fill="#78d848" />
<ellipse cx="1.56" cy="9.98" rx="1.45" ry="2.66" fill="#e82a14" />
<ellipse cx="-0.84" cy="18.38" rx="2.67" ry="3.09" fill="#48d8d0" />
<ellipse cx="-0.84" cy="18.38" rx="2.23" ry="2.65" fill="#78d848" />
<ellipse cx="-0.84" cy="18.38" rx="1.78" ry="2.21" fill="#e82a14" />
</g>
</g>
</g>
<g transform="translate(295.73,427.9) scale(1.07,1.09)">
<use href="#mt"/>
<use href="#mp" fill="#2a3ad8"/>
<g clip-path="url(#mc)">
<g filter="url(#bl)">
<ellipse cx="1.31" cy="9.33" rx="1.42" ry="2.35" fill="#e8e8f0" />
<ellipse cx="1.22" cy="10.05" rx="1.57" ry="1.83" fill="#e8e8f0" />
<ellipse cx="-0.73" cy="10.38" rx="0.87" ry="1.96" fill="#e8e8f0" />
<ellipse cx="-0.29" cy="13.56" rx="2.69" ry="2.94" fill="#3440d0" />
<ellipse cx="-0.29" cy="13.56" rx="2.31" ry="2.53" fill="#2ea8f0" />
<ellipse cx="0.68" cy="16.04" rx="2.39" ry="3.55" fill="#3440d0" />
<ellipse cx="0.68" cy="16.04" rx="2.05" ry="3.05" fill="#2ea8f0" />
<ellipse cx="0.68" cy="16.04" rx="1.77" ry="2.62" fill="#48d8d0" />
<ellipse cx="0.68" cy="16.04" rx="1.5" ry="2.23" fill="#78d848" />
<ellipse cx="-0.17" cy="5.51" rx="2.39" ry="2.88" fill="#3440d0" />
<ellipse cx="-0.17" cy="5.51" rx="2.06" ry="2.48" fill="#2ea8f0" />
<ellipse cx="-0.17" cy="5.51" rx="1.77" ry="2.13" fill="#48d8d0" />
<ellipse cx="2.07" cy="19.22" rx="1.82" ry="3.17" fill="#3440d0" />
<ellipse cx="2.07" cy="19.22" rx="1.57" ry="2.73" fill="#2ea8f0" />
<ellipse cx="2.07" cy="19.22" rx="1.35" ry="2.35" fill="#48d8d0" />
<ellipse cx="2.07" cy="19.22" rx="1.15" ry="2" fill="#78d848" />
<ellipse cx="0.46" cy="16.64" rx="2.12" ry="2.99" fill="#48d8d0" />
<ellipse cx="0.46" cy="16.64" rx="1.76" ry="2.57" fill="#78d848" />
<ellipse cx="0.46" cy="16.64" rx="1.41" ry="2.14" fill="#e82a14" />
<ellipse cx="0.88" cy="18.61" rx="2.16" ry="3.91" fill="#48d8d0" />
<ellipse cx="0.88" cy="18.61" rx="1.8" ry="3.35" fill="#78d848" />
<ellipse cx="0.88" cy="18.61" rx="1.44" ry="2.79" fill="#e82a14" />
</g>
</g>
</g>
<g transform="translate(306.12,427.9) scale(1.07,1.09)">
<use href="#mt"/>
<use href="#mp" fill="#2a3ad8"/>
<g clip-path="url(#mc)">
<g filter="url(#bl)">
<ellipse cx="0" cy="12" rx="4.8" ry="14" fill="#2ea8f0" />
<ellipse cx="0" cy="12.5" rx="4" ry="11.8" fill="#78d848" />
<ellipse cx="-1.31" cy="4.71" rx="3.91" ry="4.34" fill="#f2e82a" />
<ellipse cx="-1.31" cy="4.71" rx="3.13" ry="3.61" fill="#e82a14" />
<ellipse cx="-1.07" cy="12.75" rx="3.62" ry="4.95" fill="#f2e82a" />
<ellipse cx="-1.07" cy="12.75" rx="2.9" ry="4.13" fill="#e82a14" />
<ellipse cx="-0.89" cy="20.01" rx="3.19" ry="5.19" fill="#f2e82a" />
<ellipse cx="-0.89" cy="20.01" rx="2.56" ry="4.33" fill="#e82a14" />
</g>
</g>
</g>
<g transform="translate(316.35,427.9) scale(1.07,1.09)">
<use href="#mt"/>
<use href="#mp" fill="#2a3ad8"/>
<g clip-path="url(#mc)">
<g filter="url(#bl)">
<ellipse cx="0" cy="12" rx="4.8" ry="14" fill="#2ea8f0" />
<ellipse cx="0" cy="12.5" rx="4" ry="11.8" fill="#78d848" />
<ellipse cx="1.45" cy="3.91" rx="3.18" ry="5.01" fill="#f2e82a" />
<ellipse cx="1.45" cy="3.91" rx="2.54" ry="4.18" fill="#e82a14" />
<ellipse cx="-0.09" cy="13.55" rx="3.64" ry="3.89" fill="#f2e82a" />
<ellipse cx="-0.09" cy="13.55" rx="2.92" ry="3.24" fill="#e82a14" />
<ellipse cx="-1.23" cy="20.68" rx="3.27" ry="4.42" fill="#f2e82a" />
<ellipse cx="-1.23" cy="20.68" rx="2.62" ry="3.68" fill="#e82a14" />
</g>
</g>
</g>
<g transform="translate(326.39,427.9) scale(1.07,1.09)">
<use href="#mt"/>
<use href="#mp" fill="#2a3ad8"/>
<g clip-path="url(#mc)">
<g filter="url(#bl)">
<ellipse cx="0" cy="12" rx="4.8" ry="14" fill="#2ea8f0" />
<ellipse cx="0" cy="12.5" rx="4" ry="11.8" fill="#78d848" />
<ellipse cx="-1.43" cy="3.8" rx="3.49" ry="3.87" fill="#f2e82a" />
<ellipse cx="-1.43" cy="3.8" rx="2.79" ry="3.22" fill="#e82a14" />
<ellipse cx="-0.5" cy="12.16" rx="3.1" ry="3.96" fill="#f2e82a" />
<ellipse cx="-0.5" cy="12.16" rx="2.48" ry="3.3" fill="#e82a14" />
<ellipse cx="0.84" cy="20.56" rx="3.49" ry="4.49" fill="#f2e82a" />
<ellipse cx="0.84" cy="20.56" rx="2.79" ry="3.74" fill="#e82a14" />
</g>
</g>
</g>
<g transform="translate(336.91,427.9) scale(1.07,1.09)">
<use href="#mt"/>
<use href="#mp" fill="#2a3ad8"/>
<g clip-path="url(#mc)">
<g filter="url(#bl)">
<ellipse cx="0" cy="12" rx="4.8" ry="14" fill="#2ea8f0" />
<ellipse cx="0" cy="12.5" rx="4" ry="11.8" fill="#78d848" />
<ellipse cx="-0.1" cy="4.03" rx="3.51" ry="4.55" fill="#f2e82a" />
<ellipse cx="-0.1" cy="4.03" rx="2.81" ry="3.79" fill="#e82a14" />
<ellipse cx="0.17" cy="12.04" rx="3.5" ry="3.9" fill="#f2e82a" />
<ellipse cx="0.17" cy="12.04" rx="2.8" ry="3.25" fill="#e82a14" />
<ellipse cx="0.55" cy="21.16" rx="3.73" ry="5.05" fill="#f2e82a" />
<ellipse cx="0.55" cy="21.16" rx="2.99" ry="4.21" fill="#e82a14" />
</g>
</g>
</g>
<g transform="translate(347.24,427.9) scale(1.07,1.09)">
<use href="#mt"/>
<use href="#mp" fill="#2a3ad8"/>
<g clip-path="url(#mc)">
<g filter="url(#bl)">
<ellipse cx="0" cy="12" rx="4.8" ry="14" fill="#2ea8f0" />
<ellipse cx="0" cy="12.5" rx="4" ry="11.8" fill="#78d848" />
<ellipse cx="-0.02" cy="4.77" rx="3.74" ry="4.16" fill="#f2e82a" />
<ellipse cx="-0.02" cy="4.77" rx="2.99" ry="3.46" fill="#e82a14" />
<ellipse cx="-0.62" cy="12.79" rx="3.03" ry="5.25" fill="#f2e82a" />
<ellipse cx="-0.62" cy="12.79" rx="2.43" ry="4.37" fill="#e82a14" />
<ellipse cx="1.38" cy="20.04" rx="3.62" ry="4.34" fill="#f2e82a" />
<ellipse cx="1.38" cy="20.04" rx="2.9" ry="3.61" fill="#e82a14" />
</g>
</g>
</g>
<rect x="358.2" y="427.1" width="105.4" height="28.4" fill="#161616" />
<g transform="translate(363.08,427.9) scale(1.07,1.09)">
<use href="#mt"/>
<use href="#mp" fill="#2a3ad8"/>
<g clip-path="url(#mc)">
<g filter="url(#bl)">
<ellipse cx="0.85" cy="16.1" rx="1.52" ry="2.37" fill="#e8e8f0" />
<ellipse cx="-1.13" cy="9.12" rx="1.22" ry="1.98" fill="#e8e8f0" />
<ellipse cx="-1.11" cy="14.9" rx="1.02" ry="2.01" fill="#e8e8f0" />
<ellipse cx="0.75" cy="9.19" rx="2.22" ry="3.22" fill="#3440d0" />
<ellipse cx="0.75" cy="9.19" rx="1.91" ry="2.77" fill="#2ea8f0" />
<ellipse cx="0.75" cy="9.19" rx="1.65" ry="2.38" fill="#48d8d0" />
<ellipse cx="0.75" cy="9.19" rx="1.4" ry="2.03" fill="#78d848" />
<ellipse cx="-2.26" cy="17.55" rx="2.17" ry="3.21" fill="#3440d0" />
<ellipse cx="-2.26" cy="17.55" rx="1.86" ry="2.76" fill="#2ea8f0" />
<ellipse cx="-2.26" cy="17.55" rx="1.6" ry="2.38" fill="#48d8d0" />
<ellipse cx="0.04" cy="7.22" rx="1.81" ry="3.07" fill="#3440d0" />
<ellipse cx="0.04" cy="7.22" rx="1.56" ry="2.64" fill="#2ea8f0" />
<ellipse cx="0.3" cy="19.82" rx="1.85" ry="2.83" fill="#3440d0" />
<ellipse cx="0.3" cy="19.82" rx="1.59" ry="2.43" fill="#2ea8f0" />
<ellipse cx="0.3" cy="19.82" rx="1.37" ry="2.09" fill="#48d8d0" />
<ellipse cx="0.3" cy="19.82" rx="1.16" ry="1.78" fill="#78d848" />
<ellipse cx="0.7" cy="17.19" rx="2.56" ry="2.76" fill="#48d8d0" />
<ellipse cx="0.7" cy="17.19" rx="2.14" ry="2.36" fill="#78d848" />
<ellipse cx="0.7" cy="17.19" rx="1.71" ry="1.97" fill="#e82a14" />
<ellipse cx="1.47" cy="19.94" rx="2.24" ry="2.6" fill="#48d8d0" />
<ellipse cx="1.47" cy="19.94" rx="1.87" ry="2.23" fill="#78d848" />
<ellipse cx="1.47" cy="19.94" rx="1.49" ry="1.86" fill="#e82a14" />
</g>
</g>
</g>
<g transform="translate(373.7,427.9) scale(1.07,1.09)">
<use href="#mt"/>
<use href="#mp" fill="#2a3ad8"/>
<g clip-path="url(#mc)">
<g filter="url(#bl)">
<ellipse cx="0.57" cy="14.32" rx="0.98" ry="1.41" fill="#e8e8f0" />
<ellipse cx="0.13" cy="17.75" rx="1.59" ry="1.27" fill="#e8e8f0" />
<ellipse cx="-1.39" cy="6.45" rx="1.23" ry="1.74" fill="#e8e8f0" />
<ellipse cx="1.25" cy="9.64" rx="2.65" ry="3.33" fill="#3440d0" />
<ellipse cx="1.25" cy="9.64" rx="2.27" ry="2.86" fill="#2ea8f0" />
<ellipse cx="1.25" cy="9.64" rx="1.96" ry="2.46" fill="#48d8d0" />
<ellipse cx="1.25" cy="9.64" rx="1.67" ry="2.1" fill="#78d848" />
<ellipse cx="0.75" cy="17.45" rx="1.96" ry="2.82" fill="#3440d0" />
<ellipse cx="0.75" cy="17.45" rx="1.68" ry="2.42" fill="#2ea8f0" />
<ellipse cx="0.75" cy="17.45" rx="1.45" ry="2.08" fill="#48d8d0" />
<ellipse cx="0.81" cy="16.2" rx="2.38" ry="2.88" fill="#3440d0" />
<ellipse cx="0.81" cy="16.2" rx="2.04" ry="2.47" fill="#2ea8f0" />
<ellipse cx="-2.56" cy="8.49" rx="2.13" ry="2.41" fill="#3440d0" />
<ellipse cx="-2.56" cy="8.49" rx="1.83" ry="2.07" fill="#2ea8f0" />
<ellipse cx="-1.02" cy="19" rx="2.87" ry="2.79" fill="#48d8d0" />
<ellipse cx="-1.02" cy="19" rx="2.39" ry="2.4" fill="#78d848" />
<ellipse cx="-1.02" cy="19" rx="1.91" ry="2" fill="#e82a14" />
<ellipse cx="-0.59" cy="7.7" rx="2.7" ry="3.09" fill="#48d8d0" />
<ellipse cx="-0.59" cy="7.7" rx="2.25" ry="2.65" fill="#78d848" />
<ellipse cx="-0.59" cy="7.7" rx="1.8" ry="2.21" fill="#e82a14" />
</g>
</g>
</g>
<g transform="translate(384.34,427.9) scale(1.07,1.09)">
<use href="#mt"/>
<use href="#mp" fill="#2a3ad8"/>
<g clip-path="url(#mc)">
<g filter="url(#bl)">
<ellipse cx="-0.64" cy="17.79" rx="0.92" ry="2.36" fill="#e8e8f0" />
<ellipse cx="-0.89" cy="10.44" rx="0.87" ry="1.85" fill="#e8e8f0" />
<ellipse cx="1.43" cy="13.77" rx="0.8" ry="1.81" fill="#e8e8f0" />
<ellipse cx="-1.97" cy="5.79" rx="1.97" ry="3.2" fill="#3440d0" />
<ellipse cx="-1.97" cy="5.79" rx="1.7" ry="2.75" fill="#2ea8f0" />
<ellipse cx="-1.97" cy="5.79" rx="1.46" ry="2.37" fill="#48d8d0" />
<ellipse cx="-2.21" cy="20.18" rx="2.01" ry="3.48" fill="#3440d0" />
<ellipse cx="-2.21" cy="20.18" rx="1.73" ry="2.99" fill="#2ea8f0" />
<ellipse cx="-2.21" cy="20.18" rx="1.49" ry="2.57" fill="#48d8d0" />
<ellipse cx="-2.21" cy="20.18" rx="1.27" ry="2.19" fill="#78d848" />
<ellipse cx="0.05" cy="18.33" rx="2.01" ry="3.2" fill="#3440d0" />
<ellipse cx="0.05" cy="18.33" rx="1.73" ry="2.75" fill="#2ea8f0" />
<ellipse cx="0.05" cy="18.33" rx="1.49" ry="2.37" fill="#48d8d0" />
<ellipse cx="0.05" cy="18.33" rx="1.27" ry="2.02" fill="#78d848" />
<ellipse cx="0.81" cy="9.96" rx="2.69" ry="3.12" fill="#3440d0" />
<ellipse cx="0.81" cy="9.96" rx="2.31" ry="2.69" fill="#2ea8f0" />
<ellipse cx="-0.07" cy="13.4" rx="3.24" ry="3.69" fill="#48d8d0" />
<ellipse cx="-0.07" cy="13.4" rx="2.7" ry="3.16" fill="#78d848" />
<ellipse cx="-0.07" cy="13.4" rx="2.16" ry="2.64" fill="#e82a14" />
<ellipse cx="-1.04" cy="19.46" rx="3.02" ry="3.21" fill="#48d8d0" />
<ellipse cx="-1.04" cy="19.46" rx="2.52" ry="2.75" fill="#78d848" />
<ellipse cx="-1.04" cy="19.46" rx="2.02" ry="2.29" fill="#e82a14" />
</g>
</g>
</g>
<g transform="translate(394.83,427.9) scale(1.07,1.09)">
<use href="#mt"/>
<use href="#mp" fill="#2a3ad8"/>
<g clip-path="url(#mc)">
<g filter="url(#bl)">
<ellipse cx="0.87" cy="14.34" rx="2.3" ry="3.44" fill="#3440d0" />
<ellipse cx="0.87" cy="14.34" rx="1.98" ry="2.96" fill="#2ea8f0" />
<ellipse cx="0.87" cy="14.34" rx="1.7" ry="2.55" fill="#48d8d0" />
<ellipse cx="0.87" cy="14.34" rx="1.45" ry="2.17" fill="#78d848" />
<ellipse cx="0.37" cy="5.73" rx="2.72" ry="3.46" fill="#3440d0" />
<ellipse cx="0.37" cy="5.73" rx="2.34" ry="2.98" fill="#2ea8f0" />
<ellipse cx="0.37" cy="5.73" rx="2.02" ry="2.56" fill="#48d8d0" />
<ellipse cx="-1.69" cy="5.19" rx="2.68" ry="3.15" fill="#3440d0" />
<ellipse cx="-1.69" cy="5.19" rx="2.31" ry="2.71" fill="#2ea8f0" />
<ellipse cx="0.99" cy="11.87" rx="1.99" ry="3.01" fill="#3440d0" />
<ellipse cx="0.99" cy="11.87" rx="1.71" ry="2.59" fill="#2ea8f0" />
<ellipse cx="0.99" cy="11.87" rx="1.47" ry="2.23" fill="#48d8d0" />
<ellipse cx="0.99" cy="11.87" rx="1.25" ry="1.9" fill="#78d848" />
<ellipse cx="0.92" cy="13.57" rx="2.35" ry="3.89" fill="#48d8d0" />
<ellipse cx="0.92" cy="13.57" rx="1.95" ry="3.34" fill="#78d848" />
<ellipse cx="0.92" cy="13.57" rx="1.56" ry="2.78" fill="#e82a14" />
<ellipse cx="1.88" cy="14.46" rx="2.16" ry="3.77" fill="#48d8d0" />
<ellipse cx="1.88" cy="14.46" rx="1.8" ry="3.23" fill="#78d848" />
<ellipse cx="1.88" cy="14.46" rx="1.44" ry="2.7" fill="#e82a14" />
</g>
</g>
</g>
<g transform="translate(405.69,427.9) scale(1.07,1.09)">
<use href="#mt"/>
<use href="#mp" fill="#2a3ad8"/>
<g clip-path="url(#mc)">
<g filter="url(#bl)">
<ellipse cx="-0.96" cy="4.4" rx="2.72" ry="2.63" fill="#3440d0" />
<ellipse cx="-0.96" cy="4.4" rx="2.34" ry="2.26" fill="#2ea8f0" />
<ellipse cx="-0.96" cy="4.4" rx="2.01" ry="1.95" fill="#48d8d0" />
<ellipse cx="-0.96" cy="4.4" rx="1.71" ry="1.66" fill="#78d848" />
<ellipse cx="0.34" cy="15.44" rx="2.53" ry="3.41" fill="#3440d0" />
<ellipse cx="0.34" cy="15.44" rx="2.17" ry="2.93" fill="#2ea8f0" />
<ellipse cx="-0.47" cy="15.27" rx="2.56" ry="2.67" fill="#3440d0" />
<ellipse cx="-0.47" cy="15.27" rx="2.2" ry="2.3" fill="#2ea8f0" />
<ellipse cx="-0.47" cy="15.27" rx="1.89" ry="1.98" fill="#48d8d0" />
<ellipse cx="-2.49" cy="9.49" rx="2.14" ry="3.2" fill="#3440d0" />
<ellipse cx="-2.49" cy="9.49" rx="1.84" ry="2.75" fill="#2ea8f0" />
<ellipse cx="-2.49" cy="9.49" rx="1.58" ry="2.37" fill="#48d8d0" />
<ellipse cx="-2.49" cy="9.49" rx="1.35" ry="2.02" fill="#78d848" />
<ellipse cx="0.29" cy="9.36" rx="2.65" ry="3.12" fill="#48d8d0" />
<ellipse cx="0.29" cy="9.36" rx="2.21" ry="2.67" fill="#78d848" />
<ellipse cx="0.29" cy="9.36" rx="1.77" ry="2.23" fill="#e82a14" />
<ellipse cx="-1.6" cy="15.87" rx="2.57" ry="3.41" fill="#48d8d0" />
<ellipse cx="-1.6" cy="15.87" rx="2.14" ry="2.92" fill="#78d848" />
<ellipse cx="-1.6" cy="15.87" rx="1.71" ry="2.44" fill="#e82a14" />
</g>
</g>
</g>
<g transform="translate(416.14,427.9) scale(1.07,1.09)">
<use href="#mt"/>
<use href="#mp" fill="#2a3ad8"/>
<g clip-path="url(#mc)">
<g filter="url(#bl)">
<ellipse cx="1.6" cy="7.41" rx="2.29" ry="2.51" fill="#3440d0" />
<ellipse cx="1.6" cy="7.41" rx="1.97" ry="2.16" fill="#2ea8f0" />
<ellipse cx="1.6" cy="7.41" rx="1.69" ry="1.86" fill="#48d8d0" />
<ellipse cx="1.6" cy="7.41" rx="1.44" ry="1.58" fill="#78d848" />
<ellipse cx="1.8" cy="19.28" rx="1.85" ry="3.53" fill="#3440d0" />
<ellipse cx="1.8" cy="19.28" rx="1.59" ry="3.03" fill="#2ea8f0" />
<ellipse cx="1.29" cy="18.51" rx="2.42" ry="3.25" fill="#3440d0" />
<ellipse cx="1.29" cy="18.51" rx="2.08" ry="2.79" fill="#2ea8f0" />
<ellipse cx="1.29" cy="18.51" rx="1.79" ry="2.4" fill="#48d8d0" />
<ellipse cx="1.29" cy="18.51" rx="1.53" ry="2.05" fill="#78d848" />
<ellipse cx="-0.08" cy="15.91" rx="1.93" ry="2.94" fill="#3440d0" />
<ellipse cx="-0.08" cy="15.91" rx="1.66" ry="2.53" fill="#2ea8f0" />
<ellipse cx="-0.08" cy="15.91" rx="1.43" ry="2.18" fill="#48d8d0" />
<ellipse cx="-0.52" cy="16.86" rx="3.13" ry="3.02" fill="#48d8d0" />
<ellipse cx="-0.52" cy="16.86" rx="2.61" ry="2.59" fill="#78d848" />
<ellipse cx="-0.52" cy="16.86" rx="2.09" ry="2.16" fill="#e82a14" />
<ellipse cx="-1.26" cy="12.75" rx="2.96" ry="3.17" fill="#48d8d0" />
<ellipse cx="-1.26" cy="12.75" rx="2.46" ry="2.72" fill="#78d848" />
<ellipse cx="-1.26" cy="12.75" rx="1.97" ry="2.27" fill="#e82a14" />
</g>
</g>
</g>
<g transform="translate(426.54,427.9) scale(1.07,1.09)">
<use href="#mt"/>
<use href="#mp" fill="#2a3ad8"/>
<g clip-path="url(#mc)">
<g filter="url(#bl)">
<ellipse cx="0.77" cy="8.55" rx="1.46" ry="2.04" fill="#e8e8f0" />
<ellipse cx="-0.3" cy="13.92" rx="1.12" ry="2.27" fill="#e8e8f0" />
<ellipse cx="-1.25" cy="7.44" rx="1.45" ry="2.22" fill="#e8e8f0" />
<ellipse cx="-1.59" cy="18.96" rx="2" ry="2.85" fill="#3440d0" />
<ellipse cx="-1.59" cy="18.96" rx="1.72" ry="2.45" fill="#2ea8f0" />
<ellipse cx="-1.59" cy="18.96" rx="1.48" ry="2.11" fill="#48d8d0" />
<ellipse cx="-1.59" cy="18.96" rx="1.26" ry="1.8" fill="#78d848" />
<ellipse cx="-0.17" cy="16.46" rx="2.65" ry="3.02" fill="#3440d0" />
<ellipse cx="-0.17" cy="16.46" rx="2.28" ry="2.6" fill="#2ea8f0" />
<ellipse cx="-0.17" cy="16.46" rx="1.96" ry="2.24" fill="#48d8d0" />
<ellipse cx="-0.17" cy="16.46" rx="1.67" ry="1.9" fill="#78d848" />
<ellipse cx="2.38" cy="7.24" rx="1.89" ry="2.6" fill="#3440d0" />
<ellipse cx="2.38" cy="7.24" rx="1.62" ry="2.23" fill="#2ea8f0" />
<ellipse cx="2.38" cy="7.24" rx="1.4" ry="1.92" fill="#48d8d0" />
<ellipse cx="2.38" cy="7.24" rx="1.19" ry="1.64" fill="#78d848" />
<ellipse cx="2.15" cy="17" rx="2.11" ry="2.7" fill="#3440d0" />
<ellipse cx="2.15" cy="17" rx="1.82" ry="2.32" fill="#2ea8f0" />
<ellipse cx="-1.58" cy="13.45" rx="2.85" ry="2.6" fill="#48d8d0" />
<ellipse cx="-1.58" cy="13.45" rx="2.38" ry="2.23" fill="#78d848" />
<ellipse cx="-1.58" cy="13.45" rx="1.9" ry="1.86" fill="#e82a14" />
<ellipse cx="-1.18" cy="5.3" rx="2.27" ry="3.01" fill="#48d8d0" />
<ellipse cx="-1.18" cy="5.3" rx="1.9" ry="2.58" fill="#78d848" />
<ellipse cx="-1.18" cy="5.3" rx="1.52" ry="2.15" fill="#e82a14" />
</g>
</g>
</g>
<g transform="translate(437.05,427.9) scale(1.07,1.09)">
<use href="#mt"/>
<use href="#mp" fill="#2a3ad8"/>
<g clip-path="url(#mc)">
<g filter="url(#bl)">
<ellipse cx="0.5" cy="13.61" rx="1.43" ry="1.71" fill="#e8e8f0" />
<ellipse cx="-0.93" cy="11.42" rx="0.96" ry="1.73" fill="#e8e8f0" />
<ellipse cx="-1.54" cy="11.4" rx="1.43" ry="2.17" fill="#e8e8f0" />
<ellipse cx="-1.91" cy="8.5" rx="2.73" ry="2.89" fill="#3440d0" />
<ellipse cx="-1.91" cy="8.5" rx="2.35" ry="2.48" fill="#2ea8f0" />
<ellipse cx="-1.91" cy="8.5" rx="2.02" ry="2.14" fill="#48d8d0" />
<ellipse cx="-0.3" cy="11.31" rx="2.16" ry="2.78" fill="#3440d0" />
<ellipse cx="-0.3" cy="11.31" rx="1.86" ry="2.39" fill="#2ea8f0" />
<ellipse cx="-0.3" cy="11.31" rx="1.6" ry="2.06" fill="#48d8d0" />
<ellipse cx="-0.3" cy="11.31" rx="1.36" ry="1.75" fill="#78d848" />
<ellipse cx="0.55" cy="8.44" rx="2.37" ry="2.89" fill="#3440d0" />
<ellipse cx="0.55" cy="8.44" rx="2.04" ry="2.48" fill="#2ea8f0" />
<ellipse cx="0.55" cy="8.44" rx="1.75" ry="2.14" fill="#48d8d0" />
<ellipse cx="0.55" cy="8.44" rx="1.49" ry="1.82" fill="#78d848" />
<ellipse cx="2.19" cy="4.2" rx="2.12" ry="2.62" fill="#3440d0" />
<ellipse cx="2.19" cy="4.2" rx="1.82" ry="2.25" fill="#2ea8f0" />
<ellipse cx="-1.84" cy="11.79" rx="2.12" ry="2.9" fill="#48d8d0" />
<ellipse cx="-1.84" cy="11.79" rx="1.77" ry="2.49" fill="#78d848" />
<ellipse cx="-1.84" cy="11.79" rx="1.41" ry="2.07" fill="#e82a14" />
<ellipse cx="0.68" cy="9.7" rx="2.67" ry="3.57" fill="#48d8d0" />
<ellipse cx="0.68" cy="9.7" rx="2.22" ry="3.06" fill="#78d848" />
<ellipse cx="0.68" cy="9.7" rx="1.78" ry="2.55" fill="#e82a14" />
</g>
</g>
</g>
<g transform="translate(447.6,427.9) scale(1.07,1.09)">
<use href="#mt"/>
<use href="#mp" fill="#2a3ad8"/>
<g clip-path="url(#mc)">
<g filter="url(#bl)">
<ellipse cx="0.7" cy="6.7" rx="1.07" ry="2.29" fill="#e8e8f0" />
<ellipse cx="-1.02" cy="10.63" rx="1.13" ry="2.14" fill="#e8e8f0" />
<ellipse cx="-1.13" cy="17.54" rx="1" ry="1.4" fill="#e8e8f0" />
<ellipse cx="-2.58" cy="20.73" rx="2.23" ry="3.4" fill="#3440d0" />
<ellipse cx="-2.58" cy="20.73" rx="1.91" ry="2.92" fill="#2ea8f0" />
<ellipse cx="-2.58" cy="20.73" rx="1.65" ry="2.51" fill="#48d8d0" />
<ellipse cx="0.07" cy="9.26" rx="2.62" ry="3.22" fill="#3440d0" />
<ellipse cx="0.07" cy="9.26" rx="2.25" ry="2.77" fill="#2ea8f0" />
<ellipse cx="0.07" cy="9.26" rx="1.94" ry="2.38" fill="#48d8d0" />
<ellipse cx="0.07" cy="9.26" rx="1.65" ry="2.03" fill="#78d848" />
<ellipse cx="-1.31" cy="9.86" rx="2.3" ry="2.64" fill="#3440d0" />
<ellipse cx="-1.31" cy="9.86" rx="1.98" ry="2.27" fill="#2ea8f0" />
<ellipse cx="-2.5" cy="19.8" rx="2.73" ry="3.34" fill="#3440d0" />
<ellipse cx="-2.5" cy="19.8" rx="2.35" ry="2.88" fill="#2ea8f0" />
<ellipse cx="-1.46" cy="12.96" rx="3.12" ry="2.96" fill="#48d8d0" />
<ellipse cx="-1.46" cy="12.96" rx="2.6" ry="2.54" fill="#78d848" />
<ellipse cx="-1.46" cy="12.96" rx="2.08" ry="2.11" fill="#e82a14" />
<ellipse cx="-1.86" cy="18.75" rx="2.96" ry="3.48" fill="#48d8d0" />
<ellipse cx="-1.86" cy="18.75" rx="2.46" ry="2.98" fill="#78d848" />
<ellipse cx="-1.86" cy="18.75" rx="1.97" ry="2.49" fill="#e82a14" />
</g>
</g>
</g>
<g transform="translate(458.23,427.9) scale(1.07,1.09)">
<use href="#mt"/>
<use href="#mp" fill="#2a3ad8"/>
<g clip-path="url(#mc)">
<g filter="url(#bl)">
<ellipse cx="-1.27" cy="10.07" rx="2.67" ry="3.32" fill="#3440d0" />
<ellipse cx="-1.27" cy="10.07" rx="2.3" ry="2.85" fill="#2ea8f0" />
<ellipse cx="-1.27" cy="10.07" rx="1.98" ry="2.45" fill="#48d8d0" />
<ellipse cx="-0.93" cy="16.48" rx="2.16" ry="3.34" fill="#3440d0" />
<ellipse cx="-0.93" cy="16.48" rx="1.86" ry="2.88" fill="#2ea8f0" />
<ellipse cx="-0.93" cy="16.48" rx="1.6" ry="2.47" fill="#48d8d0" />
<ellipse cx="1.97" cy="15.05" rx="2.08" ry="2.46" fill="#3440d0" />
<ellipse cx="1.97" cy="15.05" rx="1.79" ry="2.11" fill="#2ea8f0" />
<ellipse cx="1.97" cy="15.05" rx="1.54" ry="1.82" fill="#48d8d0" />
<ellipse cx="1.97" cy="15.05" rx="1.31" ry="1.55" fill="#78d848" />
<ellipse cx="-2.07" cy="10.86" rx="2.55" ry="2.58" fill="#3440d0" />
<ellipse cx="-2.07" cy="10.86" rx="2.19" ry="2.22" fill="#2ea8f0" />
<ellipse cx="-2.07" cy="10.86" rx="1.89" ry="1.91" fill="#48d8d0" />
<ellipse cx="-2.07" cy="10.86" rx="1.6" ry="1.63" fill="#78d848" />
<ellipse cx="-0.85" cy="8.61" rx="2.17" ry="3.46" fill="#48d8d0" />
<ellipse cx="-0.85" cy="8.61" rx="1.81" ry="2.97" fill="#78d848" />
<ellipse cx="-0.85" cy="8.61" rx="1.45" ry="2.47" fill="#e82a14" />
<ellipse cx="-1.74" cy="10.79" rx="2.22" ry="3.45" fill="#48d8d0" />
<ellipse cx="-1.74" cy="10.79" rx="1.85" ry="2.96" fill="#78d848" />
<ellipse cx="-1.74" cy="10.79" rx="1.48" ry="2.46" fill="#e82a14" />
</g>
</g>
</g>
<text x="467.4" y="255.4" font-size="8.9" fill="#231f20" textLength="26.9" lengthAdjust="spacingAndGlyphs" stroke="#231f20" stroke-width="0.22">Day 12</text>
<text x="467.4" y="284.6" font-size="8.9" fill="#231f20" textLength="26.9" lengthAdjust="spacingAndGlyphs" stroke="#231f20" stroke-width="0.22">Day 18</text>
<text x="467.4" y="315.9" font-size="8.9" fill="#231f20" textLength="26.9" lengthAdjust="spacingAndGlyphs" stroke="#231f20" stroke-width="0.22">Day 20</text>
<text x="467.4" y="345.3" font-size="8.9" fill="#231f20" textLength="26.9" lengthAdjust="spacingAndGlyphs" stroke="#231f20" stroke-width="0.22">Day 22</text>
<text x="467.4" y="380.4" font-size="8.9" fill="#231f20" textLength="26.9" lengthAdjust="spacingAndGlyphs" stroke="#231f20" stroke-width="0.22">Day 25</text>
<text x="467.4" y="411.4" font-size="8.9" fill="#231f20" textLength="26.9" lengthAdjust="spacingAndGlyphs" stroke="#231f20" stroke-width="0.22">Day 29</text>
<text x="467.4" y="442.2" font-size="8.9" fill="#231f20" textLength="26.9" lengthAdjust="spacingAndGlyphs" stroke="#231f20" stroke-width="0.22">Day 32</text>
<text x="7.6" y="345.6" font-size="12.2" fill="#000" font-weight="bold">D</text>
<line x1="58.5" y1="354.9" x2="58.5" y2="454.9" stroke="#111" stroke-width="1.3" />
<line x1="57.9" y1="454.3" x2="203.5" y2="454.3" stroke="#111" stroke-width="1.3" />
<line x1="55.9" y1="454.3" x2="58.5" y2="454.3" stroke="#111" stroke-width="1.1" />
<text x="52.2" y="457.1" font-size="7.8" fill="#231f20" text-anchor="end" textLength="4.3" lengthAdjust="spacingAndGlyphs" stroke="#231f20" stroke-width="0.22">0</text>
<line x1="55.9" y1="435.01" x2="58.5" y2="435.01" stroke="#111" stroke-width="1.1" />
<text x="52.2" y="437.81" font-size="7.8" fill="#231f20" text-anchor="end" textLength="4.3" lengthAdjust="spacingAndGlyphs" stroke="#231f20" stroke-width="0.22">5</text>
<line x1="55.9" y1="415.73" x2="58.5" y2="415.73" stroke="#111" stroke-width="1.1" />
<text x="52.2" y="418.53" font-size="7.8" fill="#231f20" text-anchor="end" textLength="8.6" lengthAdjust="spacingAndGlyphs" stroke="#231f20" stroke-width="0.22">10</text>
<line x1="55.9" y1="396.44" x2="58.5" y2="396.44" stroke="#111" stroke-width="1.1" />
<text x="52.2" y="399.25" font-size="7.8" fill="#231f20" text-anchor="end" textLength="8.6" lengthAdjust="spacingAndGlyphs" stroke="#231f20" stroke-width="0.22">15</text>
<line x1="55.9" y1="377.16" x2="58.5" y2="377.16" stroke="#111" stroke-width="1.1" />
<text x="52.2" y="379.96" font-size="7.8" fill="#231f20" text-anchor="end" textLength="8.6" lengthAdjust="spacingAndGlyphs" stroke="#231f20" stroke-width="0.22">20</text>
<line x1="55.9" y1="357.88" x2="58.5" y2="357.88" stroke="#111" stroke-width="1.1" />
<text x="52.2" y="360.68" font-size="7.8" fill="#231f20" text-anchor="end" textLength="8.6" lengthAdjust="spacingAndGlyphs" stroke="#231f20" stroke-width="0.22">25</text>
<line x1="94.2" y1="454.3" x2="94.2" y2="457.3" stroke="#111" stroke-width="1.1" />
<line x1="167.4" y1="454.3" x2="167.4" y2="457.3" stroke="#111" stroke-width="1.1" />
<text x="85.7" y="467.8" font-size="8.4" fill="#231f20" textLength="17.6" lengthAdjust="spacingAndGlyphs" stroke="#231f20" stroke-width="0.22">Quiz</text>
<text x="146.5" y="467.8" font-size="8.4" fill="#231f20" textLength="43" lengthAdjust="spacingAndGlyphs" stroke="#231f20" stroke-width="0.22">Quiz + Dex</text>
<text transform="translate(25.9,438.4) rotate(-90)" x="0" y="0" font-size="10.2" fill="#231f20" textLength="67.6" lengthAdjust="spacingAndGlyphs" stroke="#231f20" stroke-width="0.08">Luciferase radiance</text>
<text transform="translate(37.6,415.9) rotate(-90)" x="0" y="0" font-size="9.8" fill="#231f20" textLength="22.4" lengthAdjust="spacingAndGlyphs" stroke="#231f20" stroke-width="0.08">(x10<tspan dy="-3.4" font-size="5.8">7</tspan><tspan dy="3.4">)</tspan></text>
<path d="M123.1,361.5 V354.9 H197.2 V424.6" stroke="#111" stroke-width="1.1" fill="none" />
<text x="160.2" y="354.6" font-size="7.8" fill="#231f20" text-anchor="middle" textLength="13.6" lengthAdjust="spacingAndGlyphs" stroke="#231f20" stroke-width="0.22">****</text>
<circle cx="209.2" cy="359.1" r="2.3" fill="#284a8a" />
<text x="215.3" y="362" font-size="8.4" fill="#231f20" textLength="24.8" lengthAdjust="spacingAndGlyphs" stroke="#231f20" stroke-width="0.22">Day 12</text>
<rect x="206.9" y="368.5" width="4.6" height="4.6" fill="#b3123c" />
<text x="215.3" y="373.7" font-size="8.4" fill="#231f20" textLength="24.8" lengthAdjust="spacingAndGlyphs" stroke="#231f20" stroke-width="0.22">Day 18</text>
<path d="M209.2,379.67 L211.73,384.27 L206.67,384.27 Z" stroke="none" stroke-width="1" fill="#5aa83c" />
<text x="215.3" y="385.1" font-size="8.4" fill="#231f20" textLength="24.8" lengthAdjust="spacingAndGlyphs" stroke="#231f20" stroke-width="0.22">Day 20</text>
<path d="M209.2,396.43 L211.73,391.83 L206.67,391.83 Z" stroke="none" stroke-width="1" fill="#4a1c6c" />
<text x="215.3" y="396.8" font-size="8.4" fill="#231f20" textLength="24.8" lengthAdjust="spacingAndGlyphs" stroke="#231f20" stroke-width="0.22">Day 22</text>
<path d="M209.2,403.04 L211.96,405.8 L209.2,408.56 L206.44,405.8 Z" stroke="none" stroke-width="1" fill="#e8901c" />
<text x="215.3" y="408.7" font-size="8.4" fill="#231f20" textLength="24.8" lengthAdjust="spacingAndGlyphs" stroke="#231f20" stroke-width="0.22">Day 25</text>
<circle cx="209.2" cy="417.5" r="2.3" fill="#b2c48c" />
<text x="215.3" y="420.4" font-size="8.4" fill="#231f20" textLength="24.8" lengthAdjust="spacingAndGlyphs" stroke="#231f20" stroke-width="0.22">Day 29</text>
<circle cx="209.2" cy="429.4" r="2.3" fill="#5a3812" />
<text x="215.3" y="432.3" font-size="8.4" fill="#231f20" textLength="24.8" lengthAdjust="spacingAndGlyphs" stroke="#231f20" stroke-width="0.22">Day 32</text>
<circle cx="63" cy="453" r="1.9" fill="#284a8a" />
<circle cx="65" cy="452.6" r="1.9" fill="#284a8a" />
<circle cx="67" cy="453" r="1.9" fill="#284a8a" />
<circle cx="64" cy="453.6" r="1.9" fill="#284a8a" />
<circle cx="66.5" cy="453.6" r="1.9" fill="#284a8a" />
<circle cx="68" cy="452.8" r="1.9" fill="#284a8a" />
<circle cx="62" cy="453.2" r="1.9" fill="#284a8a" />
<rect x="70.6" y="449.6" width="3.8" height="3.8" fill="#b3123c" />
<rect x="73.1" y="449.3" width="3.8" height="3.8" fill="#b3123c" />
<rect x="75.6" y="449.7" width="3.8" height="3.8" fill="#b3123c" />
<rect x="72.1" y="450.7" width="3.8" height="3.8" fill="#b3123c" />
<rect x="74.6" y="450.5" width="3.8" height="3.8" fill="#b3123c" />
<rect x="76.1" y="449.1" width="3.8" height="3.8" fill="#b3123c" />
<rect x="70.1" y="450.6" width="3.8" height="3.8" fill="#b3123c" />
<line x1="84.5" y1="444.6" x2="84.5" y2="453" stroke="#333" stroke-width="1" />
<path d="M84.5,443.41 L86.59,447.21 L82.41,447.21 Z" stroke="none" stroke-width="1" fill="#5aa83c" />
<path d="M84.5,446.11 L86.59,449.91 L82.41,449.91 Z" stroke="none" stroke-width="1" fill="#5aa83c" />
<path d="M83.5,448.51 L85.59,452.31 L81.41,452.31 Z" stroke="none" stroke-width="1" fill="#5aa83c" />
<path d="M85.5,449.71 L87.59,453.51 L83.41,453.51 Z" stroke="none" stroke-width="1" fill="#5aa83c" />
<path d="M84.5,450.41 L86.59,454.21 L82.41,454.21 Z" stroke="none" stroke-width="1" fill="#5aa83c" />
<line x1="94.2" y1="443.8" x2="94.2" y2="453" stroke="#333" stroke-width="1" />
<path d="M94.2,447.29 L96.29,443.49 L92.11,443.49 Z" stroke="none" stroke-width="1" fill="#4a1c6c" />
<path d="M93.4,450.49 L95.49,446.69 L91.31,446.69 Z" stroke="none" stroke-width="1" fill="#4a1c6c" />
<path d="M95,452.29 L97.09,448.49 L92.91,448.49 Z" stroke="none" stroke-width="1" fill="#4a1c6c" />
<path d="M94.2,453.69 L96.29,449.89 L92.11,449.89 Z" stroke="none" stroke-width="1" fill="#4a1c6c" />
<path d="M94.2,454.69 L96.29,450.89 L92.11,450.89 Z" stroke="none" stroke-width="1" fill="#4a1c6c" />
<line x1="103.9" y1="438.5" x2="103.9" y2="452" stroke="#333" stroke-width="1" />
<path d="M103.9,437.12 L106.18,439.4 L103.9,441.68 L101.62,439.4 Z" stroke="none" stroke-width="1" fill="#e8901c" />
<path d="M102.9,444.22 L105.18,446.5 L102.9,448.78 L100.62,446.5 Z" stroke="none" stroke-width="1" fill="#e8901c" />
<path d="M104.9,445.22 L107.18,447.5 L104.9,449.78 L102.62,447.5 Z" stroke="none" stroke-width="1" fill="#e8901c" />
<path d="M103.9,447.22 L106.18,449.5 L103.9,451.78 L101.62,449.5 Z" stroke="none" stroke-width="1" fill="#e8901c" />
<path d="M102.9,448.32 L105.18,450.6 L102.9,452.88 L100.62,450.6 Z" stroke="none" stroke-width="1" fill="#e8901c" />
<path d="M104.9,449.12 L107.18,451.4 L104.9,453.68 L102.62,451.4 Z" stroke="none" stroke-width="1" fill="#e8901c" />
<line x1="113.4" y1="428.5" x2="113.4" y2="452" stroke="#333" stroke-width="1" />
<circle cx="113.4" cy="428.6" r="1.9" fill="#b2c48c" />
<circle cx="113.4" cy="442.4" r="1.9" fill="#b2c48c" />
<circle cx="112.2" cy="444.8" r="1.9" fill="#b2c48c" />
<circle cx="114.6" cy="446.2" r="1.9" fill="#b2c48c" />
<circle cx="113.4" cy="448.4" r="1.9" fill="#b2c48c" />
<circle cx="112.4" cy="450.3" r="1.9" fill="#b2c48c" />
<circle cx="114.4" cy="451.6" r="1.9" fill="#b2c48c" />
<rect x="120.5" y="395.1" width="5.2" height="42.8" fill="#a8865e" opacity="0.75"/>
<line x1="123.1" y1="366.9" x2="123.1" y2="395.1" stroke="#555" stroke-width="1" />
<line x1="123.1" y1="437.9" x2="123.1" y2="443.3" stroke="#555" stroke-width="1" />
<line x1="120.5" y1="422.5" x2="125.7" y2="422.5" stroke="#222" stroke-width="1" />
<circle cx="123.1" cy="366.9" r="1.9" fill="#5a3812" />
<circle cx="123.1" cy="378.2" r="1.9" fill="#5a3812" />
<circle cx="123" cy="400" r="1.9" fill="#5a3812" />
<circle cx="123" cy="413.6" r="1.9" fill="#5a3812" />
<circle cx="123" cy="420.5" r="1.9" fill="#5a3812" />
<circle cx="121.5" cy="426.2" r="1.9" fill="#5a3812" />
<circle cx="124.6" cy="424.5" r="1.9" fill="#5a3812" />
<circle cx="121.3" cy="436.2" r="1.9" fill="#5a3812" />
<circle cx="124.9" cy="436.7" r="1.9" fill="#5a3812" />
<circle cx="123" cy="443.3" r="1.9" fill="#5a3812" />
<circle cx="136.4" cy="452.8" r="1.9" fill="#284a8a" />
<circle cx="138.9" cy="452.4" r="1.9" fill="#284a8a" />
<circle cx="141.4" cy="452.8" r="1.9" fill="#284a8a" />
<circle cx="137.9" cy="453.6" r="1.9" fill="#284a8a" />
<circle cx="140.4" cy="453.5" r="1.9" fill="#284a8a" />
<circle cx="135.7" cy="453.4" r="1.9" fill="#284a8a" />
<circle cx="142.1" cy="453.2" r="1.9" fill="#284a8a" />
<rect x="145.8" y="448.7" width="3.8" height="3.8" fill="#b3123c" />
<rect x="147.4" y="449.3" width="3.8" height="3.8" fill="#b3123c" />
<rect x="146.1" y="450.7" width="3.8" height="3.8" fill="#b3123c" />
<rect x="147.4" y="451.5" width="3.8" height="3.8" fill="#b3123c" />
<rect x="146.6" y="449.9" width="3.8" height="3.8" fill="#b3123c" />
<path d="M156.7,449.71 L158.79,453.51 L154.61,453.51 Z" stroke="none" stroke-width="1" fill="#5aa83c" />
<path d="M158.5,449.11 L160.59,452.91 L156.41,452.91 Z" stroke="none" stroke-width="1" fill="#5aa83c" />
<path d="M160.3,449.71 L162.39,453.51 L158.21,453.51 Z" stroke="none" stroke-width="1" fill="#5aa83c" />
<path d="M157.5,450.71 L159.59,454.51 L155.41,454.51 Z" stroke="none" stroke-width="1" fill="#5aa83c" />
<path d="M159.5,450.71 L161.59,454.51 L157.41,454.51 Z" stroke="none" stroke-width="1" fill="#5aa83c" />
<path d="M165.7,452.69 L167.79,448.89 L163.61,448.89 Z" stroke="none" stroke-width="1" fill="#4a1c6c" />
<path d="M167.7,452.49 L169.79,448.69 L165.61,448.69 Z" stroke="none" stroke-width="1" fill="#4a1c6c" />
<path d="M169.7,452.69 L171.79,448.89 L167.61,448.89 Z" stroke="none" stroke-width="1" fill="#4a1c6c" />
<path d="M166.7,453.89 L168.79,450.09 L164.61,450.09 Z" stroke="none" stroke-width="1" fill="#4a1c6c" />
<path d="M168.7,453.69 L170.79,449.89 L166.61,449.89 Z" stroke="none" stroke-width="1" fill="#4a1c6c" />
<line x1="177.7" y1="443.5" x2="177.7" y2="453" stroke="#333" stroke-width="1" />
<path d="M177.7,442.12 L179.98,444.4 L177.7,446.68 L175.42,444.4 Z" stroke="none" stroke-width="1" fill="#e8901c" />
<path d="M176.9,444.22 L179.18,446.5 L176.9,448.78 L174.62,446.5 Z" stroke="none" stroke-width="1" fill="#e8901c" />
<path d="M178.5,445.92 L180.78,448.2 L178.5,450.48 L176.22,448.2 Z" stroke="none" stroke-width="1" fill="#e8901c" />
<path d="M176.9,447.72 L179.18,450 L176.9,452.28 L174.62,450 Z" stroke="none" stroke-width="1" fill="#e8901c" />
<path d="M178.5,449.22 L180.78,451.5 L178.5,453.78 L176.22,451.5 Z" stroke="none" stroke-width="1" fill="#e8901c" />
<path d="M177.7,450.72 L179.98,453 L177.7,455.28 L175.42,453 Z" stroke="none" stroke-width="1" fill="#e8901c" />
<line x1="186.9" y1="443.8" x2="186.9" y2="452" stroke="#333" stroke-width="1" />
<circle cx="186.9" cy="443.8" r="1.9" fill="#b2c48c" />
<circle cx="186.9" cy="446.8" r="1.9" fill="#b2c48c" />
<circle cx="185.9" cy="448.8" r="1.9" fill="#b2c48c" />
<circle cx="187.9" cy="450.2" r="1.9" fill="#b2c48c" />
<circle cx="186.9" cy="451.6" r="1.9" fill="#b2c48c" />
<circle cx="195.1" cy="428.6" r="1.9" fill="#5a3812" />
<circle cx="197.5" cy="429.6" r="1.9" fill="#5a3812" />
<circle cx="195.7" cy="431.8" r="1.9" fill="#5a3812" />
<circle cx="198.3" cy="433.4" r="1.9" fill="#5a3812" />
<circle cx="195.3" cy="435.6" r="1.9" fill="#5a3812" />
<circle cx="198.1" cy="437.2" r="1.9" fill="#5a3812" />
<circle cx="196.9" cy="439.4" r="1.9" fill="#5a3812" />
<circle cx="195.1" cy="441.4" r="1.9" fill="#5a3812" />
<circle cx="198.5" cy="442.8" r="1.9" fill="#5a3812" />
<circle cx="196.3" cy="445" r="1.9" fill="#5a3812" />
<circle cx="198.1" cy="446.8" r="1.9" fill="#5a3812" />
<circle cx="195.3" cy="447.6" r="1.9" fill="#5a3812" />
<text x="7.9" y="496.1" font-size="12.2" fill="#000" font-weight="bold">E</text>
<text x="189.8" y="497.1" font-size="12.2" fill="#000" font-weight="bold">F</text>
<line x1="42.1" y1="501.4" x2="42.1" y2="592.6" stroke="#111" stroke-width="1.3" />
<line x1="41.5" y1="592" x2="173.5" y2="592" stroke="#111" stroke-width="1.3" />
<line x1="39.5" y1="592" x2="42.1" y2="592" stroke="#111" stroke-width="1.1" />
<text x="35.9" y="594.8" font-size="7.8" fill="#231f20" text-anchor="end" textLength="4.3" lengthAdjust="spacingAndGlyphs" stroke="#231f20" stroke-width="0.22">0</text>
<line x1="39.5" y1="570.1" x2="42.1" y2="570.1" stroke="#111" stroke-width="1.1" />
<text x="35.9" y="572.9" font-size="7.8" fill="#231f20" text-anchor="end" textLength="4.3" lengthAdjust="spacingAndGlyphs" stroke="#231f20" stroke-width="0.22">1</text>
<line x1="39.5" y1="548.2" x2="42.1" y2="548.2" stroke="#111" stroke-width="1.1" />
<text x="35.9" y="551" font-size="7.8" fill="#231f20" text-anchor="end" textLength="4.3" lengthAdjust="spacingAndGlyphs" stroke="#231f20" stroke-width="0.22">2</text>
<line x1="39.5" y1="526.3" x2="42.1" y2="526.3" stroke="#111" stroke-width="1.1" />
<text x="35.9" y="529.1" font-size="7.8" fill="#231f20" text-anchor="end" textLength="4.3" lengthAdjust="spacingAndGlyphs" stroke="#231f20" stroke-width="0.22">3</text>
<line x1="39.5" y1="504.4" x2="42.1" y2="504.4" stroke="#111" stroke-width="1.1" />
<text x="35.9" y="507.2" font-size="7.8" fill="#231f20" text-anchor="end" textLength="4.3" lengthAdjust="spacingAndGlyphs" stroke="#231f20" stroke-width="0.22">4</text>
<line x1="79.5" y1="592" x2="79.5" y2="594.6" stroke="#111" stroke-width="1.1" />
<line x1="135.6" y1="592" x2="135.6" y2="594.6" stroke="#111" stroke-width="1.1" />
<text x="70.3" y="605.3" font-size="8.4" fill="#231f20" textLength="18.3" lengthAdjust="spacingAndGlyphs" stroke="#231f20" stroke-width="0.22">Quiz</text>
<text x="113.9" y="605.3" font-size="8.4" fill="#231f20" textLength="44" lengthAdjust="spacingAndGlyphs" stroke="#231f20" stroke-width="0.22">Quiz + Dex</text>
<text transform="translate(26.4,577.8) rotate(-90)" x="0" y="0" font-size="10" fill="#231f20" textLength="62" lengthAdjust="spacingAndGlyphs" stroke="#231f20" stroke-width="0.08">Tumor weight (g)</text>
<path d="M79.3,510.5 V505.5 H135.2 V538.7" stroke="#222" stroke-width="1.1" fill="none" />
<text x="107.4" y="505.9" font-size="7.8" fill="#231f20" text-anchor="middle" textLength="13.4" lengthAdjust="spacingAndGlyphs" stroke="#231f20" stroke-width="0.22">****</text>
<line x1="79.3" y1="518.1" x2="79.3" y2="563.6" stroke="#222" stroke-width="1" />
<rect x="61.3" y="533.4" width="36.8" height="18.1" fill="#c2625c" />
<line x1="70.3" y1="518.1" x2="88.5" y2="518.1" stroke="#222" stroke-width="1" />
<line x1="70.3" y1="563.6" x2="88.5" y2="563.6" stroke="#222" stroke-width="1" />
<line x1="61.3" y1="537.4" x2="98.1" y2="537.4" stroke="#111" stroke-width="1.6" />
<circle cx="76.7" cy="518.1" r="1.75" fill="#b00020" stroke="#111" stroke-width="0.6" />
<circle cx="82.1" cy="518.1" r="1.75" fill="#b00020" stroke="#111" stroke-width="0.6" />
<circle cx="63.6" cy="533" r="1.75" fill="#b00020" stroke="#111" stroke-width="0.6" />
<circle cx="68.7" cy="533" r="1.75" fill="#b00020" stroke="#111" stroke-width="0.6" />
<circle cx="95.2" cy="533" r="1.75" fill="#b00020" stroke="#111" stroke-width="0.6" />
<circle cx="74" cy="535" r="1.75" fill="#b00020" stroke="#111" stroke-width="0.6" />
<circle cx="84.4" cy="535" r="1.75" fill="#b00020" stroke="#111" stroke-width="0.6" />
<circle cx="89.8" cy="535" r="1.75" fill="#b00020" stroke="#111" stroke-width="0.6" />
<circle cx="79.3" cy="537.4" r="1.75" fill="#b00020" stroke="#111" stroke-width="0.6" />
<circle cx="74" cy="544.1" r="1.75" fill="#b00020" stroke="#111" stroke-width="0.6" />
<circle cx="79.3" cy="543" r="1.75" fill="#b00020" stroke="#111" stroke-width="0.6" />
<circle cx="79.3" cy="549.1" r="1.75" fill="#b00020" stroke="#111" stroke-width="0.6" />
<circle cx="84.8" cy="548.2" r="1.75" fill="#b00020" stroke="#111" stroke-width="0.6" />
<circle cx="76.7" cy="554.6" r="1.75" fill="#b00020" stroke="#111" stroke-width="0.6" />
<circle cx="84.8" cy="556.9" r="1.75" fill="#b00020" stroke="#111" stroke-width="0.6" />
<circle cx="82.1" cy="559.3" r="1.75" fill="#b00020" stroke="#111" stroke-width="0.6" />
<circle cx="76.7" cy="563.6" r="1.75" fill="#b00020" stroke="#111" stroke-width="0.6" />
<line x1="135.7" y1="543.7" x2="135.7" y2="573" stroke="#222" stroke-width="1" />
<rect x="117.4" y="555.2" width="36.3" height="14.5" fill="#6e80b6" />
<line x1="126.5" y1="543.7" x2="144.7" y2="543.7" stroke="#222" stroke-width="1" />
<line x1="117.4" y1="563.5" x2="153.7" y2="563.5" stroke="#111" stroke-width="1.6" />
<rect x="134" y="542" width="3.4" height="3.4" fill="#1f4e96" stroke="#111" stroke-width="0.6" />
<rect x="125.9" y="550.8" width="3.4" height="3.4" fill="#1f4e96" stroke="#111" stroke-width="0.6" />
<rect x="142.1" y="548.8" width="3.4" height="3.4" fill="#1f4e96" stroke="#111" stroke-width="0.6" />
<rect x="131.3" y="553.5" width="3.4" height="3.4" fill="#1f4e96" stroke="#111" stroke-width="0.6" />
<rect x="136.3" y="553.5" width="3.4" height="3.4" fill="#1f4e96" stroke="#111" stroke-width="0.6" />
<rect x="123.2" y="559.5" width="3.4" height="3.4" fill="#1f4e96" stroke="#111" stroke-width="0.6" />
<rect x="144.8" y="559.3" width="3.4" height="3.4" fill="#1f4e96" stroke="#111" stroke-width="0.6" />
<rect x="128.6" y="561.8" width="3.4" height="3.4" fill="#1f4e96" stroke="#111" stroke-width="0.6" />
<rect x="134" y="561.8" width="3.4" height="3.4" fill="#1f4e96" stroke="#111" stroke-width="0.6" />
<rect x="139.4" y="561.8" width="3.4" height="3.4" fill="#1f4e96" stroke="#111" stroke-width="0.6" />
<rect x="120.5" y="565.9" width="3.4" height="3.4" fill="#1f4e96" stroke="#111" stroke-width="0.6" />
<rect x="147" y="565.9" width="3.4" height="3.4" fill="#1f4e96" stroke="#111" stroke-width="0.6" />
<rect x="125.9" y="569.9" width="3.4" height="3.4" fill="#1f4e96" stroke="#111" stroke-width="0.6" />
<rect x="131.3" y="571.3" width="3.4" height="3.4" fill="#1f4e96" stroke="#111" stroke-width="0.6" />
<rect x="136.3" y="569.9" width="3.4" height="3.4" fill="#1f4e96" stroke="#111" stroke-width="0.6" />
<rect x="141.7" y="568.6" width="3.4" height="3.4" fill="#1f4e96" stroke="#111" stroke-width="0.6" />
<line x1="240.1" y1="501.9" x2="240.1" y2="592.6" stroke="#111" stroke-width="1.3" />
<line x1="239.5" y1="592" x2="372.3" y2="592" stroke="#111" stroke-width="1.3" />
<line x1="237.5" y1="592" x2="240.1" y2="592" stroke="#111" stroke-width="1.1" />
<text x="234.4" y="594.8" font-size="7.8" fill="#231f20" text-anchor="end" textLength="4.3" lengthAdjust="spacingAndGlyphs" stroke="#231f20" stroke-width="0.22">0</text>
<line x1="237.5" y1="570.1" x2="240.1" y2="570.1" stroke="#111" stroke-width="1.1" />
<text x="234.4" y="572.9" font-size="7.8" fill="#231f20" text-anchor="end" textLength="4.3" lengthAdjust="spacingAndGlyphs" stroke="#231f20" stroke-width="0.22">2</text>
<line x1="237.5" y1="548.2" x2="240.1" y2="548.2" stroke="#111" stroke-width="1.1" />
<text x="234.4" y="551" font-size="7.8" fill="#231f20" text-anchor="end" textLength="4.3" lengthAdjust="spacingAndGlyphs" stroke="#231f20" stroke-width="0.22">4</text>
<line x1="237.5" y1="526.3" x2="240.1" y2="526.3" stroke="#111" stroke-width="1.1" />
<text x="234.4" y="529.1" font-size="7.8" fill="#231f20" text-anchor="end" textLength="4.3" lengthAdjust="spacingAndGlyphs" stroke="#231f20" stroke-width="0.22">6</text>
<line x1="237.5" y1="504.4" x2="240.1" y2="504.4" stroke="#111" stroke-width="1.1" />
<text x="234.4" y="507.2" font-size="7.8" fill="#231f20" text-anchor="end" textLength="4.3" lengthAdjust="spacingAndGlyphs" stroke="#231f20" stroke-width="0.22">8</text>
<line x1="277.9" y1="592" x2="277.9" y2="594.6" stroke="#111" stroke-width="1.1" />
<line x1="334.5" y1="592" x2="334.5" y2="594.6" stroke="#111" stroke-width="1.1" />
<text x="269.5" y="605.3" font-size="8.4" fill="#231f20" textLength="17.2" lengthAdjust="spacingAndGlyphs" stroke="#231f20" stroke-width="0.22">Quiz</text>
<text x="313.1" y="605.3" font-size="8.4" fill="#231f20" textLength="43" lengthAdjust="spacingAndGlyphs" stroke="#231f20" stroke-width="0.22">Quiz + Dex</text>
<text transform="translate(212,584.6) rotate(-90)" x="0" y="0" font-size="10" fill="#231f20" textLength="76.2" lengthAdjust="spacingAndGlyphs" stroke="#231f20" stroke-width="0.08">Tumor volume (x10<tspan dy="-3.4" font-size="6">3</tspan><tspan dy="3.4">)</tspan></text>
<text transform="translate(223.6,558.2) rotate(-90)" x="0" y="0" font-size="10" fill="#231f20" textLength="22.6" lengthAdjust="spacingAndGlyphs" stroke="#231f20" stroke-width="0.08">(mm<tspan dy="-3.4" font-size="6">3</tspan><tspan dy="3.4">)</tspan></text>
<path d="M278,522.6 V518.5 H334.7 V551.7" stroke="#222" stroke-width="1.1" fill="none" />
<text x="305.9" y="517.6" font-size="7.8" fill="#231f20" text-anchor="middle" textLength="13" lengthAdjust="spacingAndGlyphs" stroke="#231f20" stroke-width="0.22">****</text>
<line x1="278" y1="528" x2="278" y2="575.5" stroke="#222" stroke-width="1" />
<rect x="259.6" y="554.3" width="36.8" height="8.2" fill="#c2625c" />
<line x1="268.8" y1="528" x2="287" y2="528" stroke="#222" stroke-width="1" />
<line x1="269" y1="575.5" x2="287.2" y2="575.5" stroke="#222" stroke-width="1" />
<line x1="259.6" y1="556.8" x2="296.4" y2="556.8" stroke="#111" stroke-width="1.6" />
<circle cx="278" cy="528" r="1.75" fill="#b00020" stroke="#111" stroke-width="0.6" />
<circle cx="278" cy="545.5" r="1.75" fill="#b00020" stroke="#111" stroke-width="0.6" />
<circle cx="269.9" cy="550.7" r="1.75" fill="#b00020" stroke="#111" stroke-width="0.6" />
<circle cx="275.6" cy="553.5" r="1.75" fill="#b00020" stroke="#111" stroke-width="0.6" />
<circle cx="282.9" cy="553.5" r="1.75" fill="#b00020" stroke="#111" stroke-width="0.6" />
<circle cx="288.4" cy="553.5" r="1.75" fill="#b00020" stroke="#111" stroke-width="0.6" />
<circle cx="269.9" cy="556.8" r="1.75" fill="#b00020" stroke="#111" stroke-width="0.6" />
<circle cx="280.8" cy="557.3" r="1.75" fill="#b00020" stroke="#111" stroke-width="0.6" />
<circle cx="285.8" cy="555.6" r="1.75" fill="#b00020" stroke="#111" stroke-width="0.6" />
<circle cx="275.6" cy="560.4" r="1.75" fill="#b00020" stroke="#111" stroke-width="0.6" />
<circle cx="267.3" cy="562.8" r="1.75" fill="#b00020" stroke="#111" stroke-width="0.6" />
<circle cx="272.5" cy="564.6" r="1.75" fill="#b00020" stroke="#111" stroke-width="0.6" />
<circle cx="282.9" cy="562.8" r="1.75" fill="#b00020" stroke="#111" stroke-width="0.6" />
<circle cx="288.4" cy="562.5" r="1.75" fill="#b00020" stroke="#111" stroke-width="0.6" />
<circle cx="278" cy="566.5" r="1.75" fill="#b00020" stroke="#111" stroke-width="0.6" />
<circle cx="278" cy="575.5" r="1.75" fill="#b00020" stroke="#111" stroke-width="0.6" />
<line x1="334.7" y1="560.5" x2="334.7" y2="584.7" stroke="#222" stroke-width="1" />
<rect x="316.3" y="566.1" width="36.6" height="11.5" fill="#6e80b6" />
<line x1="329.2" y1="560.5" x2="343.8" y2="560.5" stroke="#222" stroke-width="1" />
<line x1="325.5" y1="584.7" x2="343.8" y2="584.7" stroke="#222" stroke-width="1" />
<line x1="316.3" y1="571.5" x2="352.9" y2="571.5" stroke="#111" stroke-width="1.6" />
<rect x="324.5" y="558.4" width="3.4" height="3.4" fill="#1f4e96" stroke="#111" stroke-width="0.6" />
<rect x="340.6" y="559.5" width="3.4" height="3.4" fill="#1f4e96" stroke="#111" stroke-width="0.6" />
<rect x="330.4" y="561" width="3.4" height="3.4" fill="#1f4e96" stroke="#111" stroke-width="0.6" />
<rect x="335.2" y="563.2" width="3.4" height="3.4" fill="#1f4e96" stroke="#111" stroke-width="0.6" />
<rect x="322" y="566.1" width="3.4" height="3.4" fill="#1f4e96" stroke="#111" stroke-width="0.6" />
<rect x="327.5" y="568.3" width="3.4" height="3.4" fill="#1f4e96" stroke="#111" stroke-width="0.6" />
<rect x="338.4" y="568.3" width="3.4" height="3.4" fill="#1f4e96" stroke="#111" stroke-width="0.6" />
<rect x="345.8" y="568.3" width="3.4" height="3.4" fill="#1f4e96" stroke="#111" stroke-width="0.6" />
<rect x="332.6" y="571" width="3.4" height="3.4" fill="#1f4e96" stroke="#111" stroke-width="0.6" />
<rect x="343.6" y="572.7" width="3.4" height="3.4" fill="#1f4e96" stroke="#111" stroke-width="0.6" />
<rect x="322" y="573.5" width="3.4" height="3.4" fill="#1f4e96" stroke="#111" stroke-width="0.6" />
<rect x="327.5" y="576.4" width="3.4" height="3.4" fill="#1f4e96" stroke="#111" stroke-width="0.6" />
<rect x="338.1" y="576.4" width="3.4" height="3.4" fill="#1f4e96" stroke="#111" stroke-width="0.6" />
<rect x="332.6" y="577.8" width="3.4" height="3.4" fill="#1f4e96" stroke="#111" stroke-width="0.6" />
<rect x="335.2" y="580" width="3.4" height="3.4" fill="#1f4e96" stroke="#111" stroke-width="0.6" />
<rect x="329.9" y="583.3" width="3.4" height="3.4" fill="#1f4e96" stroke="#111" stroke-width="0.6" />
<rect x="0.5" y="0.5" width="519" height="614" fill="none" stroke="#000" stroke-width="1"/>
</svg></body></html>
